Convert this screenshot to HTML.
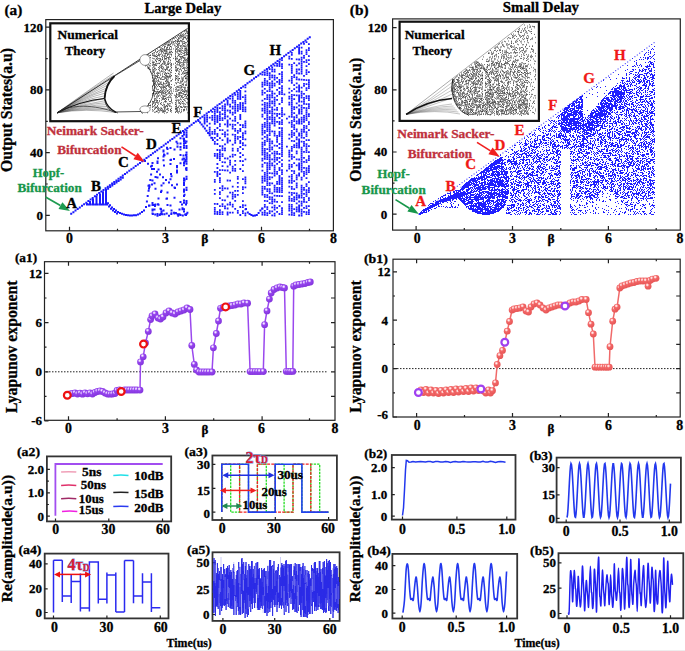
<!DOCTYPE html>
<html><head><meta charset="utf-8"><style>
html,body{margin:0;padding:0;background:#fff;}
svg{display:block;font-family:"Liberation Serif",serif;font-weight:bold;}
</style></head><body>
<svg width="685" height="651" viewBox="0 0 685 651">
<rect width="685" height="651" fill="#fff"/>
<rect x="0" y="650" width="685" height="1" fill="#ededed"/>
<text x="4.5" y="15.2" font-size="15" fill="#000" stroke="#000" stroke-width="0.3" textLength="17.8" lengthAdjust="spacingAndGlyphs">(a)</text>
<text x="144.5" y="12.5" font-size="15" fill="#000" stroke="#000" stroke-width="0.3" textLength="76.7" lengthAdjust="spacingAndGlyphs">Large Delay</text>
<text x="349.8" y="15.2" font-size="15" fill="#000" stroke="#000" stroke-width="0.3" textLength="18.8" lengthAdjust="spacingAndGlyphs">(b)</text>
<text x="502.8" y="12.4" font-size="15" fill="#000" stroke="#000" stroke-width="0.3" textLength="76.2" lengthAdjust="spacingAndGlyphs">Small Delay</text>
<path d="M70.2 212.8h2M72.4 211.2h2M74.5 209.6h2M76.7 208h2M78.8 206.4h2M81 204.8h2M83.1 203.3h2M85.3 201.7h2M87.4 200.1h2M89.6 198.5h2M91.7 196.9h2M93.9 195.3h2M96 193.7h2M98.2 192.1h2M100.3 190.5h2M102.5 188.9h2M104.6 187.3h2M106.8 185.8h2M108.9 184.2h2M111.1 182.6h2M113.2 181h2M115.4 179.4h2M117.5 177.8h2M119.7 176.2h2M121.8 174.6h2M124 173h2M126.1 171.4h2M128.3 169.8h2M130.4 168.3h2M132.6 166.7h2M134.7 165.1h2M136.9 163.5h2M139 161.9h2M141.2 160.3h2M143.3 158.7h2M145.5 157.1h2M147.6 155.5h2M149.8 153.9h2M151.9 152.3h2M154.1 150.8h2M156.2 149.2h2M158.4 147.6h2M160.5 146h2M162.7 144.4h2M164.8 142.8h2M167 141.2h2M169.1 139.6h2M171.3 138h2M173.4 136.4h2M175.6 134.8h2M177.7 133.2h2M179.9 131.7h2M182 130.1h2M184.2 128.5h2M186.3 126.9h2M188.5 125.3h2M190.6 123.7h2M192.8 122.1h2M194.9 120.5h2M197.1 118.9h2M199.2 117.3h2M201.4 115.7h2M203.5 114.2h2M205.7 112.6h2M207.8 111h2M210 109.4h2M212.1 107.8h2M214.3 106.2h2M216.4 104.6h2M218.6 103h2M220.7 101.4h2M222.9 99.8h2M225 98.2h2M227.2 96.7h2M229.3 95.1h2M231.5 93.5h2M233.6 91.9h2M235.8 90.3h2M237.9 88.7h2M240.1 87.1h2M242.2 85.5h2M244.4 83.9h2M246.5 82.3h2M248.7 80.7h2M250.8 79.2h2M253 77.6h2M255.1 76h2M257.3 74.4h2M259.4 72.8h2M261.6 71.2h2M263.7 69.6h2M265.9 68h2M268 66.4h2M270.2 64.8h2M272.3 63.2h2M274.5 61.7h2M276.6 60.1h2M278.8 58.5h2M280.9 56.9h2M283.1 55.3h2M285.2 53.7h2M287.4 52.1h2M289.5 50.5h2M291.7 48.9h2M293.8 47.3h2M296 45.7h2M298.1 44.2h2M300.2 42.6h2M302.4 41h2M304.5 39.4h2M306.7 37.8h2M308.8 36.2h2M86 203.1h2M86 203.5h2M89 200.9h2M89 202.9h2M89 203.5h2M92 198.7h2M92 200.7h2M92 202.7h2M92 203.5h2M95.5 196.1h2M95.5 198.1h2M95.5 200.1h2M95.5 202.1h2M95.5 203.5h2M99 193.5h2M99 195.5h2M99 197.5h2M99 199.5h2M99 201.5h2M99 203.5h2M99 203.5h2M102 191.3h2M102 193.3h2M102 195.3h2M102 197.3h2M102 199.3h2M102 201.3h2M102 203.3h2M102 203.5h2M105 189h2M105 191h2M105 193h2M105 195h2M105 197h2M105 199h2M105 201h2M105 203h2M105 203.5h2M87.5 203.6h2M89.7 203.6h2M91.9 203.6h2M94.1 203.6h2M96.3 203.6h2M98.5 203.6h2M100.7 203.6h2M102.9 203.6h2M105 189.2h2M107.1 187.7h2M109.2 186.1h2M111.3 184.6h2M113.4 183h2M115.5 181.5h2M117.6 179.9h2M119.7 178.4h2M121.8 176.8h2M105 200h2M107 202.2h2M109 204.3h2M111 206.5h2M113 208h2M115 209.5h2M117 211h2M119 211.9h2M121 212.7h2M123 213.6h2M125 213.9h2M127 214.3h2M129 214.6h2M131 214.5h2M133 214.3h2M135 214.2h2M137 213.4h2M139 212.6h2M141 211.1h2M143 209.5h2M106 203.4h2M108 205.6h2M110 207.7h2M112 209.6h2M114 211.1h2M116 212.6h2M144 160h2M147 162.7h2M150 165.4h2M153 168.1h2M156 170.8h2M159 173.5h2M162 176.2h2M165 178.9h2M168 181.6h2M171 184.3h2M174 187h2M145 206h2M145.9 200.6h2M146.7 195.1h2M147.6 189.7h2M148.4 184.3h2M149.3 178.9h2M150.1 173.4h2M151 168h2M147.5 184.8h2M148 204.7h2M148.5 204.5h2M148.5 185.7h2M148 187.6h2M148 204.6h2M151.5 179.6h2M151.5 202.1h2M151.5 209.5h2M151 183.4h2M151.5 212.5h2M151.5 208.5h2M151.5 204h2M151.5 162.1h2M151 164.7h2M151.5 203.4h2M153.5 208.5h2M154.5 187.8h2M154 204.9h2M154.5 175.9h2M154.5 203.4h2M153.5 182.3h2M153.5 204.1h2M156.5 212.9h2M157 157.2h2M157.5 203.7h2M157.5 197.5h2M156.5 160.5h2M157 203.2h2M156.5 176.4h2M156.5 162h2M156.5 214.5h2M157.5 168.4h2M160.5 211.8h2M159.5 207.8h2M159.5 213h2M160.5 184.5h2M160 191h2M160.5 210.4h2M160 208.2h2M160.5 189.8h2M162.5 155.4h2M163.5 154.3h2M162.5 149.6h2M162.5 182.3h2M162.5 150.6h2M162.5 159.3h2M162.5 209.6h2M163 164.6h2M163 153.6h2M165.5 197.8h2M166.5 204h2M166 197.5h2M166.5 147.9h2M166.5 152.4h2M166 146.8h2M166.5 191.5h2M170.5 212.3h2M169.5 204.6h2M170 158.7h2M169.5 178.3h2M169.5 163.1h2M169.5 159h2M170.5 175.3h2M170 173.1h2M169.5 146.9h2M170.5 209.5h2M173.5 212.4h2M173.5 196.7h2M173 157.9h2M173 211.8h2M173.5 148.6h2M173.5 186.6h2M176 166.3h2M175.5 140.7h2M176 183.4h2M176 169.5h2M176.5 213.3h2M176.5 142.6h2M176 165h2M176.5 145.7h2M176 171.6h2M176.5 145.4h2M179.5 146.1h2M178.5 208.4h2M179.5 137.3h2M179.5 142.5h2M179.5 148.5h2M179.5 154.1h2M178.5 213.2h2M179.5 162.2h2M179.5 201h2M181.5 207.3h2M181 203.6h2M181.5 207.6h2M181.5 134.9h2M181.5 208.3h2M181.5 158.4h2M183.5 160.5h2M182.5 157.5h2M182.5 137.5h2M183 189.3h2M183.5 139.7h2M183.5 193.7h2M183.5 179.6h2M183 144.5h2M182.5 154.6h2M185.5 162.7h2M184.5 142h2M185 214.1h2M185 154.1h2M184.5 159h2M185 203.4h2M185 167.8h2M151.9 213.1h2M154.2 213.4h2M156.5 214.7h2M158.8 213.9h2M161.1 213.2h2M163.4 213.3h2M165.7 212.5h2M168 214.8h2M170.3 212.9h2M174.9 212h2M177.2 214.7h2M179.5 214h2M181.8 214.4h2M184.1 213.6h2M186.4 211.7h2M183 131.3h2M183 133.5h2M183 137.9h2M183 140.1h2M183 142.3h2M183 144.5h2M183 146.7h2M183 157.7h2M183 162.1h2M183 164.3h2M183 177.5h2M183 179.7h2M183 181.9h2M183 184.1h2M183 188.5h2M183 190.7h2M183 195.1h2M183 199.5h2M183 201.7h2M183 208.3h2M183 210.5h2M185.5 129.5h2M185.5 131.7h2M185.5 133.9h2M185.5 136.1h2M185.5 140.5h2M185.5 144.9h2M185.5 147.1h2M185.5 151.5h2M185.5 153.7h2M185.5 155.9h2M185.5 158.1h2M185.5 160.3h2M185.5 162.5h2M185.5 166.9h2M185.5 169.1h2M185.5 175.7h2M185.5 177.9h2M185.5 186.7h2M185.5 188.9h2M185.5 199.9h2M185.5 202.1h2M185.5 213.1h2M197.5 120h2M199.1 121.5h2M200.7 123.4h2M202.3 125.4h2M203.9 127.5h2M205.5 129.7h2M207.1 132h2M208.7 134.3h2M210.3 136.7h2M211.9 139.1h2M245 208h2M246.8 211.6h2M248.6 213h2M250.4 214.1h2M252.2 214.7h2M254 214.4h2M255.8 214h2M257.6 211.9h2M259.4 209.6h2M261.2 207.5h2" stroke="#1a1aff" stroke-width="2" fill="none" transform="translate(0 1.0)"/>
<path d="M203.7 116.6h1.8M203.7 118.6h1.8M203.7 120.6h1.8M203.7 122.6h1.8M206.2 114.7h1.8M206.2 116.7h1.8M206.2 118.7h1.8M206.2 120.7h1.8M206.2 124.7h1.8M208.8 116.8h1.8M208.8 122.8h1.8M208.8 126.8h1.8M208.8 128.8h1.8M208.8 130.8h1.8M208.8 132.8h1.8M211.4 110.9h1.8M211.4 114.9h1.8M211.4 116.9h1.8M211.4 118.9h1.8M211.4 130.9h1.8M211.4 132.9h1.8M211.4 136.9h1.8M213.9 109h1.8M213.9 111h1.8M213.9 113h1.8M213.9 115h1.8M213.9 117h1.8M213.9 119h1.8M213.9 121h1.8M213.9 123h1.8M213.9 129h1.8M213.9 131h1.8M213.9 133h1.8M213.9 137h1.8M213.9 141h1.8M213.9 143h1.8M213.9 153h1.8M213.9 155h1.8M213.9 171h1.8M213.9 179h1.8M213.9 181h1.8M213.9 189h1.8M213.9 193h1.8M213.9 203h1.8M213.9 207h1.8M213.9 209h1.8M213.9 211h1.8M213.9 213h1.8M216.5 107.1h1.8M216.5 109.1h1.8M216.5 111.1h1.8M216.5 115.1h1.8M216.5 117.1h1.8M216.5 119.1h1.8M216.5 121.1h1.8M216.5 127.1h1.8M216.5 133.1h1.8M216.5 135.1h1.8M216.5 139.1h1.8M216.5 143.1h1.8M216.5 149.1h1.8M216.5 153.1h1.8M216.5 155.1h1.8M216.5 157.1h1.8M216.5 163.1h1.8M216.5 167.1h1.8M216.5 171.1h1.8M216.5 173.1h1.8M216.5 175.1h1.8M216.5 203.1h1.8M216.5 211.1h1.8M216.5 213.1h1.8M219 107.2h1.8M219 111.2h1.8M219 113.2h1.8M219 115.2h1.8M219 117.2h1.8M219 119.2h1.8M219 123.2h1.8M219 125.2h1.8M219 129.2h1.8M219 137.2h1.8M219 145.2h1.8M219 149.2h1.8M219 151.2h1.8M219 153.2h1.8M219 155.2h1.8M219 157.2h1.8M219 159.2h1.8M219 169.2h1.8M219 173.2h1.8M219 177.2h1.8M219 179.2h1.8M219 181.2h1.8M219 187.2h1.8M219 191.2h1.8M219 193.2h1.8M219 197.2h1.8M219 205.2h1.8M219 209.2h1.8M219 211.2h1.8M219 213.2h1.8M221.6 105.3h1.8M221.6 107.3h1.8M221.6 109.3h1.8M221.6 113.3h1.8M221.6 117.3h1.8M221.6 119.3h1.8M221.6 129.3h1.8M221.6 133.3h1.8M221.6 139.3h1.8M221.6 145.3h1.8M221.6 147.3h1.8M221.6 149.3h1.8M221.6 153.3h1.8M221.6 155.3h1.8M221.6 161.3h1.8M221.6 165.3h1.8M221.6 169.3h1.8M221.6 185.3h1.8M221.6 187.3h1.8M221.6 189.3h1.8M221.6 199.3h1.8M221.6 203.3h1.8M221.6 205.3h1.8M221.6 211.3h1.8M221.6 213.3h1.8M224.1 103.5h1.8M224.1 105.5h1.8M224.1 107.5h1.8M224.1 109.5h1.8M224.1 111.5h1.8M224.1 113.5h1.8M224.1 115.5h1.8M224.1 117.5h1.8M224.1 123.5h1.8M224.1 131.5h1.8M224.1 133.5h1.8M224.1 135.5h1.8M224.1 143.5h1.8M224.1 147.5h1.8M224.1 149.5h1.8M224.1 157.5h1.8M224.1 161.5h1.8M224.1 169.5h1.8M224.1 187.5h1.8M224.1 199.5h1.8M224.1 205.5h1.8M224.1 207.5h1.8M226.7 99.6h1.8M226.7 101.6h1.8M226.7 103.6h1.8M226.7 109.6h1.8M226.7 115.6h1.8M226.7 119.6h1.8M226.7 121.6h1.8M226.7 123.6h1.8M226.7 125.6h1.8M226.7 129.6h1.8M226.7 133.6h1.8M226.7 137.6h1.8M226.7 139.6h1.8M226.7 141.6h1.8M226.7 157.6h1.8M226.7 165.6h1.8M226.7 169.6h1.8M226.7 179.6h1.8M226.7 187.6h1.8M226.7 195.6h1.8M226.7 203.6h1.8M226.7 207.6h1.8M226.7 211.6h1.8M226.7 213.6h1.8M229.2 97.7h1.8M229.2 103.7h1.8M229.2 105.7h1.8M229.2 109.7h1.8M229.2 111.7h1.8M229.2 117.7h1.8M229.2 123.7h1.8M229.2 139.7h1.8M229.2 155.7h1.8M229.2 159.7h1.8M229.2 161.7h1.8M229.2 163.7h1.8M229.2 171.7h1.8M229.2 179.7h1.8M229.2 191.7h1.8M229.2 201.7h1.8M229.2 203.7h1.8M229.2 211.7h1.8M231.8 95.8h1.8M231.8 97.8h1.8M231.8 99.8h1.8M231.8 101.8h1.8M231.8 105.8h1.8M231.8 107.8h1.8M231.8 111.8h1.8M231.8 113.8h1.8M231.8 119.8h1.8M231.8 123.8h1.8M231.8 125.8h1.8M231.8 127.8h1.8M231.8 133.8h1.8M231.8 143.8h1.8M231.8 147.8h1.8M231.8 149.8h1.8M231.8 153.8h1.8M231.8 155.8h1.8M231.8 165.8h1.8M231.8 167.8h1.8M231.8 169.8h1.8M231.8 185.8h1.8M231.8 191.8h1.8M231.8 193.8h1.8M231.8 195.8h1.8M231.8 197.8h1.8M231.8 203.8h1.8M231.8 205.8h1.8M231.8 211.8h1.8M234.3 93.9h1.8M234.3 99.9h1.8M234.3 101.9h1.8M234.3 103.9h1.8M234.3 105.9h1.8M234.3 107.9h1.8M234.3 109.9h1.8M234.3 111.9h1.8M234.3 115.9h1.8M234.3 117.9h1.8M234.3 119.9h1.8M234.3 123.9h1.8M234.3 127.9h1.8M234.3 129.9h1.8M234.3 133.9h1.8M234.3 135.9h1.8M234.3 137.9h1.8M234.3 139.9h1.8M234.3 141.9h1.8M234.3 153.9h1.8M234.3 159.9h1.8M234.3 163.9h1.8M234.3 167.9h1.8M234.3 169.9h1.8M234.3 189.9h1.8M234.3 193.9h1.8M234.3 195.9h1.8M234.3 199.9h1.8M234.3 207.9h1.8M236.9 92h1.8M236.9 94h1.8M236.9 96h1.8M236.9 98h1.8M236.9 104h1.8M236.9 106h1.8M236.9 108h1.8M236.9 110h1.8M236.9 122h1.8M236.9 130h1.8M236.9 132h1.8M236.9 136h1.8M236.9 138h1.8M236.9 148h1.8M236.9 150h1.8M236.9 176h1.8M236.9 178h1.8M236.9 182h1.8M236.9 186h1.8M236.9 190h1.8M236.9 194h1.8M236.9 210h1.8M236.9 212h1.8M239.4 90.1h1.8M239.4 92.1h1.8M239.4 94.1h1.8M239.4 96.1h1.8M239.4 98.1h1.8M239.4 102.1h1.8M239.4 104.1h1.8M239.4 106.1h1.8M239.4 108.1h1.8M239.4 114.1h1.8M239.4 116.1h1.8M239.4 118.1h1.8M239.4 124.1h1.8M239.4 128.1h1.8M239.4 130.1h1.8M239.4 136.1h1.8M239.4 140.1h1.8M239.4 142.1h1.8M239.4 146.1h1.8M239.4 152.1h1.8M239.4 156.1h1.8M239.4 160.1h1.8M239.4 168.1h1.8M239.4 206.1h1.8M239.4 214.1h1.8M242 96.3h1.8M242 102.3h1.8M242 104.3h1.8M242 106.3h1.8M242 108.3h1.8M242 110.3h1.8M242 124.3h1.8M242 126.3h1.8M242 132.3h1.8M242 134.3h1.8M242 136.3h1.8M242 138.3h1.8M242 142.3h1.8M242 144.3h1.8M242 148.3h1.8M242 154.3h1.8M242 160.3h1.8M242 164.3h1.8M242 170.3h1.8M242 178.3h1.8M242 186.3h1.8M242 188.3h1.8M242 192.3h1.8M242 200.3h1.8M242 204.3h1.8M242 206.3h1.8M242 210.3h1.8M242 212.3h1.8M244.5 86.4h1.8M244.5 90.4h1.8M244.5 94.4h1.8M244.5 96.4h1.8M244.5 98.4h1.8M244.5 100.4h1.8M244.5 102.4h1.8M244.5 106.4h1.8M244.5 108.4h1.8M244.5 110.4h1.8M244.5 120.4h1.8M244.5 122.4h1.8M244.5 124.4h1.8M244.5 126.4h1.8M244.5 130.4h1.8M244.5 132.4h1.8M244.5 138.4h1.8M244.5 144.4h1.8M244.5 158.4h1.8M244.5 176.4h1.8M244.5 178.4h1.8M244.5 180.4h1.8M244.5 182.4h1.8M244.5 186.4h1.8M244.5 204.4h1.8M244.5 208.4h1.8M244.5 212.4h1.8M244.5 214.4h1.8M261.5 73.8h1.8M261.5 81.8h1.8M261.5 83.8h1.8M261.5 85.8h1.8M261.5 89.8h1.8M261.5 91.8h1.8M261.5 93.8h1.8M261.5 99.8h1.8M261.5 103.8h1.8M261.5 107.8h1.8M261.5 109.8h1.8M261.5 113.8h1.8M261.5 115.8h1.8M261.5 123.8h1.8M261.5 125.8h1.8M261.5 127.8h1.8M261.5 129.8h1.8M261.5 131.8h1.8M261.5 133.8h1.8M261.5 137.8h1.8M261.5 141.8h1.8M261.5 143.8h1.8M261.5 145.8h1.8M261.5 147.8h1.8M261.5 149.8h1.8M261.5 151.8h1.8M261.5 153.8h1.8M261.5 157.8h1.8M261.5 159.8h1.8M261.5 163.8h1.8M261.5 165.8h1.8M261.5 169.8h1.8M261.5 175.8h1.8M261.5 177.8h1.8M261.5 179.8h1.8M261.5 181.8h1.8M261.5 185.8h1.8M261.5 187.8h1.8M261.5 189.8h1.8M261.5 191.8h1.8M261.5 193.8h1.8M261.5 207.8h1.8M261.5 211.8h1.8M261.5 213.8h1.8M263.9 72h1.8M263.9 74h1.8M263.9 78h1.8M263.9 80h1.8M263.9 82h1.8M263.9 84h1.8M263.9 88h1.8M263.9 92h1.8M263.9 98h1.8M263.9 102h1.8M263.9 104h1.8M263.9 106h1.8M263.9 108h1.8M263.9 110h1.8M263.9 112h1.8M263.9 118h1.8M263.9 122h1.8M263.9 124h1.8M263.9 126h1.8M263.9 130h1.8M263.9 132h1.8M263.9 136h1.8M263.9 140h1.8M263.9 142h1.8M263.9 144h1.8M263.9 148h1.8M263.9 150h1.8M263.9 152h1.8M263.9 154h1.8M263.9 156h1.8M263.9 158h1.8M263.9 162h1.8M263.9 172h1.8M263.9 174h1.8M263.9 176h1.8M263.9 178h1.8M263.9 180h1.8M263.9 186h1.8M263.9 188h1.8M263.9 194h1.8M263.9 196h1.8M263.9 200h1.8M263.9 204h1.8M263.9 206h1.8M263.9 210h1.8M263.9 212h1.8M263.9 214h1.8M266.4 70.2h1.8M266.4 72.2h1.8M266.4 74.2h1.8M266.4 80.2h1.8M266.4 82.2h1.8M266.4 84.2h1.8M266.4 90.2h1.8M266.4 94.2h1.8M266.4 96.2h1.8M266.4 98.2h1.8M266.4 102.2h1.8M266.4 104.2h1.8M266.4 106.2h1.8M266.4 108.2h1.8M266.4 110.2h1.8M266.4 112.2h1.8M266.4 114.2h1.8M266.4 116.2h1.8M266.4 118.2h1.8M266.4 120.2h1.8M266.4 122.2h1.8M266.4 124.2h1.8M266.4 126.2h1.8M266.4 128.2h1.8M266.4 130.2h1.8M266.4 134.2h1.8M266.4 136.2h1.8M266.4 138.2h1.8M266.4 140.2h1.8M266.4 148.2h1.8M266.4 152.2h1.8M266.4 154.2h1.8M266.4 156.2h1.8M266.4 158.2h1.8M266.4 162.2h1.8M266.4 164.2h1.8M266.4 166.2h1.8M266.4 168.2h1.8M266.4 170.2h1.8M266.4 172.2h1.8M266.4 174.2h1.8M266.4 176.2h1.8M266.4 178.2h1.8M266.4 180.2h1.8M266.4 182.2h1.8M266.4 184.2h1.8M266.4 188.2h1.8M266.4 190.2h1.8M266.4 194.2h1.8M266.4 196.2h1.8M266.4 200.2h1.8M266.4 206.2h1.8M266.4 208.2h1.8M266.4 212.2h1.8M266.4 214.2h1.8M268.8 68.3h1.8M268.8 72.3h1.8M268.8 74.3h1.8M268.8 76.3h1.8M268.8 78.3h1.8M268.8 82.3h1.8M268.8 84.3h1.8M268.8 86.3h1.8M268.8 88.3h1.8M268.8 90.3h1.8M268.8 94.3h1.8M268.8 96.3h1.8M268.8 98.3h1.8M268.8 100.3h1.8M268.8 102.3h1.8M268.8 104.3h1.8M268.8 106.3h1.8M268.8 110.3h1.8M268.8 112.3h1.8M268.8 116.3h1.8M268.8 118.3h1.8M268.8 122.3h1.8M268.8 124.3h1.8M268.8 126.3h1.8M268.8 128.3h1.8M268.8 130.3h1.8M268.8 132.3h1.8M268.8 134.3h1.8M268.8 138.3h1.8M268.8 140.3h1.8M268.8 142.3h1.8M268.8 144.3h1.8M268.8 146.3h1.8M268.8 148.3h1.8M268.8 150.3h1.8M268.8 154.3h1.8M268.8 156.3h1.8M268.8 158.3h1.8M268.8 160.3h1.8M268.8 162.3h1.8M268.8 164.3h1.8M268.8 166.3h1.8M268.8 168.3h1.8M268.8 172.3h1.8M268.8 176.3h1.8M268.8 178.3h1.8M268.8 182.3h1.8M268.8 184.3h1.8M268.8 188.3h1.8M268.8 190.3h1.8M268.8 192.3h1.8M268.8 196.3h1.8M268.8 198.3h1.8M268.8 202.3h1.8M268.8 210.3h1.8M268.8 212.3h1.8M271.3 66.5h1.8M271.3 68.5h1.8M271.3 70.5h1.8M271.3 74.5h1.8M271.3 76.5h1.8M271.3 80.5h1.8M271.3 82.5h1.8M271.3 84.5h1.8M271.3 86.5h1.8M271.3 90.5h1.8M271.3 92.5h1.8M271.3 94.5h1.8M271.3 96.5h1.8M271.3 100.5h1.8M271.3 102.5h1.8M271.3 106.5h1.8M271.3 108.5h1.8M271.3 110.5h1.8M271.3 112.5h1.8M271.3 114.5h1.8M271.3 116.5h1.8M271.3 118.5h1.8M271.3 120.5h1.8M271.3 122.5h1.8M271.3 130.5h1.8M271.3 140.5h1.8M271.3 142.5h1.8M271.3 146.5h1.8M271.3 148.5h1.8M271.3 152.5h1.8M271.3 158.5h1.8M271.3 162.5h1.8M271.3 164.5h1.8M271.3 172.5h1.8M271.3 176.5h1.8M271.3 182.5h1.8M271.3 192.5h1.8M271.3 196.5h1.8M271.3 198.5h1.8M271.3 200.5h1.8M271.3 202.5h1.8M271.3 206.5h1.8M271.3 210.5h1.8M271.3 214.5h1.8M273.7 64.7h1.8M273.7 68.7h1.8M273.7 70.7h1.8M273.7 74.7h1.8M273.7 76.7h1.8M273.7 78.7h1.8M273.7 82.7h1.8M273.7 84.7h1.8M273.7 92.7h1.8M273.7 96.7h1.8M273.7 98.7h1.8M273.7 100.7h1.8M273.7 102.7h1.8M273.7 104.7h1.8M273.7 108.7h1.8M273.7 112.7h1.8M273.7 116.7h1.8M273.7 118.7h1.8M273.7 120.7h1.8M273.7 122.7h1.8M273.7 124.7h1.8M273.7 130.7h1.8M273.7 132.7h1.8M273.7 134.7h1.8M273.7 144.7h1.8M273.7 150.7h1.8M273.7 152.7h1.8M273.7 154.7h1.8M273.7 156.7h1.8M273.7 158.7h1.8M273.7 160.7h1.8M273.7 164.7h1.8M273.7 166.7h1.8M273.7 168.7h1.8M273.7 170.7h1.8M273.7 172.7h1.8M273.7 174.7h1.8M273.7 184.7h1.8M273.7 186.7h1.8M273.7 188.7h1.8M273.7 190.7h1.8M273.7 194.7h1.8M273.7 198.7h1.8M273.7 200.7h1.8M273.7 204.7h1.8M273.7 206.7h1.8M273.7 208.7h1.8M273.7 212.7h1.8M273.7 214.7h1.8M276.2 62.9h1.8M276.2 64.9h1.8M276.2 76.9h1.8M276.2 80.9h1.8M276.2 88.9h1.8M276.2 94.9h1.8M276.2 98.9h1.8M276.2 106.9h1.8M276.2 108.9h1.8M276.2 112.9h1.8M276.2 114.9h1.8M276.2 120.9h1.8M276.2 134.9h1.8M276.2 136.9h1.8M276.2 138.9h1.8M276.2 140.9h1.8M276.2 144.9h1.8M276.2 150.9h1.8M276.2 152.9h1.8M276.2 156.9h1.8M276.2 158.9h1.8M276.2 162.9h1.8M276.2 170.9h1.8M276.2 172.9h1.8M276.2 180.9h1.8M276.2 182.9h1.8M276.2 186.9h1.8M276.2 188.9h1.8M276.2 190.9h1.8M276.2 194.9h1.8M276.2 200.9h1.8M276.2 206.9h1.8M276.2 210.9h1.8M278.6 61.1h1.8M278.6 63.1h1.8M278.6 65.1h1.8M278.6 73.1h1.8M278.6 79.1h1.8M278.6 81.1h1.8M278.6 83.1h1.8M278.6 87.1h1.8M278.6 91.1h1.8M278.6 93.1h1.8M278.6 103.1h1.8M278.6 113.1h1.8M278.6 117.1h1.8M278.6 121.1h1.8M278.6 123.1h1.8M278.6 127.1h1.8M278.6 131.1h1.8M278.6 133.1h1.8M278.6 135.1h1.8M278.6 143.1h1.8M278.6 147.1h1.8M278.6 153.1h1.8M278.6 157.1h1.8M278.6 161.1h1.8M278.6 167.1h1.8M278.6 169.1h1.8M278.6 175.1h1.8M278.6 177.1h1.8M278.6 179.1h1.8M278.6 181.1h1.8M278.6 183.1h1.8M278.6 187.1h1.8M278.6 189.1h1.8M278.6 191.1h1.8M278.6 195.1h1.8M278.6 205.1h1.8M278.6 213.1h1.8M281.1 59.3h1.8M281.1 63.3h1.8M281.1 65.3h1.8M281.1 67.3h1.8M281.1 71.3h1.8M281.1 73.3h1.8M281.1 75.3h1.8M281.1 77.3h1.8M281.1 79.3h1.8M281.1 81.3h1.8M281.1 85.3h1.8M281.1 87.3h1.8M281.1 89.3h1.8M281.1 91.3h1.8M281.1 93.3h1.8M281.1 97.3h1.8M281.1 99.3h1.8M281.1 101.3h1.8M281.1 107.3h1.8M281.1 109.3h1.8M281.1 111.3h1.8M281.1 113.3h1.8M281.1 115.3h1.8M281.1 119.3h1.8M281.1 121.3h1.8M281.1 123.3h1.8M281.1 127.3h1.8M281.1 129.3h1.8M281.1 131.3h1.8M281.1 133.3h1.8M281.1 135.3h1.8M281.1 137.3h1.8M281.1 139.3h1.8M281.1 141.3h1.8M281.1 143.3h1.8M281.1 145.3h1.8M281.1 147.3h1.8M281.1 149.3h1.8M281.1 151.3h1.8M281.1 153.3h1.8M281.1 155.3h1.8M281.1 159.3h1.8M281.1 163.3h1.8M281.1 165.3h1.8M281.1 169.3h1.8M281.1 171.3h1.8M281.1 173.3h1.8M281.1 177.3h1.8M281.1 179.3h1.8M281.1 181.3h1.8M281.1 183.3h1.8M281.1 185.3h1.8M281.1 187.3h1.8M281.1 189.3h1.8M281.1 191.3h1.8M281.1 195.3h1.8M281.1 201.3h1.8M281.1 207.3h1.8M281.1 209.3h1.8M281.1 211.3h1.8M281.1 213.3h1.8M283.5 93.5h1.8M283.5 113.5h1.8M286 117.7h1.8M286 145.7h1.8M286 169.7h1.8M288.4 55.8h1.8M288.4 57.8h1.8M288.4 63.8h1.8M288.4 79.8h1.8M288.4 87.8h1.8M288.4 91.8h1.8M288.4 95.8h1.8M288.4 97.8h1.8M288.4 101.8h1.8M288.4 103.8h1.8M288.4 115.8h1.8M288.4 121.8h1.8M288.4 133.8h1.8M288.4 137.8h1.8M288.4 149.8h1.8M288.4 151.8h1.8M288.4 153.8h1.8M288.4 155.8h1.8M288.4 159.8h1.8M288.4 163.8h1.8M288.4 165.8h1.8M288.4 167.8h1.8M288.4 175.8h1.8M288.4 179.8h1.8M288.4 181.8h1.8M288.4 185.8h1.8M288.4 191.8h1.8M288.4 195.8h1.8M288.4 197.8h1.8M288.4 199.8h1.8M288.4 203.8h1.8M288.4 205.8h1.8M288.4 207.8h1.8M288.4 209.8h1.8M288.4 213.8h1.8M290.9 52h1.8M290.9 54h1.8M290.9 58h1.8M290.9 64h1.8M290.9 66h1.8M290.9 68h1.8M290.9 70h1.8M290.9 72h1.8M290.9 76h1.8M290.9 78h1.8M290.9 80h1.8M290.9 82h1.8M290.9 90h1.8M290.9 94h1.8M290.9 96h1.8M290.9 98h1.8M290.9 100h1.8M290.9 102h1.8M290.9 104h1.8M290.9 106h1.8M290.9 108h1.8M290.9 110h1.8M290.9 112h1.8M290.9 114h1.8M290.9 116h1.8M290.9 120h1.8M290.9 122h1.8M290.9 124h1.8M290.9 126h1.8M290.9 130h1.8M290.9 132h1.8M290.9 134h1.8M290.9 136h1.8M290.9 140h1.8M290.9 146h1.8M290.9 148h1.8M290.9 150h1.8M290.9 154h1.8M290.9 156h1.8M290.9 158h1.8M290.9 164h1.8M290.9 166h1.8M290.9 170h1.8M290.9 174h1.8M290.9 176h1.8M290.9 178h1.8M290.9 180h1.8M290.9 182h1.8M290.9 186h1.8M290.9 188h1.8M290.9 192h1.8M290.9 194h1.8M290.9 198h1.8M290.9 200h1.8M290.9 204h1.8M290.9 206h1.8M290.9 208h1.8M290.9 210h1.8M290.9 212h1.8M290.9 214h1.8M293.3 62.2h1.8M293.3 74.2h1.8M293.3 76.2h1.8M293.3 84.2h1.8M293.3 88.2h1.8M293.3 94.2h1.8M293.3 98.2h1.8M293.3 106.2h1.8M293.3 108.2h1.8M293.3 112.2h1.8M293.3 116.2h1.8M293.3 118.2h1.8M293.3 120.2h1.8M293.3 124.2h1.8M293.3 126.2h1.8M293.3 128.2h1.8M293.3 132.2h1.8M293.3 134.2h1.8M293.3 140.2h1.8M293.3 144.2h1.8M293.3 146.2h1.8M293.3 156.2h1.8M293.3 162.2h1.8M293.3 170.2h1.8M293.3 172.2h1.8M293.3 180.2h1.8M293.3 188.2h1.8M293.3 192.2h1.8M293.3 196.2h1.8M293.3 198.2h1.8M293.3 200.2h1.8M293.3 208.2h1.8M293.3 212.2h1.8M293.3 214.2h1.8M295.8 58.4h1.8M295.8 64.4h1.8M295.8 68.4h1.8M295.8 70.4h1.8M295.8 72.4h1.8M295.8 76.4h1.8M295.8 78.4h1.8M295.8 82.4h1.8M295.8 86.4h1.8M295.8 90.4h1.8M295.8 94.4h1.8M295.8 102.4h1.8M295.8 106.4h1.8M295.8 114.4h1.8M295.8 116.4h1.8M295.8 120.4h1.8M295.8 122.4h1.8M295.8 128.4h1.8M295.8 130.4h1.8M295.8 136.4h1.8M295.8 138.4h1.8M295.8 142.4h1.8M295.8 144.4h1.8M295.8 146.4h1.8M295.8 150.4h1.8M295.8 152.4h1.8M295.8 158.4h1.8M295.8 164.4h1.8M295.8 174.4h1.8M295.8 176.4h1.8M295.8 178.4h1.8M295.8 182.4h1.8M295.8 184.4h1.8M295.8 186.4h1.8M295.8 192.4h1.8M295.8 194.4h1.8M295.8 196.4h1.8M295.8 198.4h1.8M295.8 202.4h1.8M295.8 206.4h1.8M295.8 208.4h1.8M295.8 210.4h1.8M298.2 46.6h1.8M298.2 48.6h1.8M298.2 50.6h1.8M298.2 52.6h1.8M298.2 58.6h1.8M298.2 62.6h1.8M298.2 68.6h1.8M298.2 72.6h1.8M298.2 78.6h1.8M298.2 84.6h1.8M298.2 86.6h1.8M298.2 88.6h1.8M298.2 90.6h1.8M298.2 94.6h1.8M298.2 96.6h1.8M298.2 98.6h1.8M298.2 100.6h1.8M298.2 104.6h1.8M298.2 108.6h1.8M298.2 110.6h1.8M298.2 112.6h1.8M298.2 118.6h1.8M298.2 120.6h1.8M298.2 122.6h1.8M298.2 132.6h1.8M298.2 134.6h1.8M298.2 138.6h1.8M298.2 140.6h1.8M298.2 142.6h1.8M298.2 144.6h1.8M298.2 146.6h1.8M298.2 158.6h1.8M298.2 162.6h1.8M298.2 164.6h1.8M298.2 166.6h1.8M298.2 168.6h1.8M298.2 172.6h1.8M298.2 174.6h1.8M298.2 194.6h1.8M298.2 196.6h1.8M298.2 200.6h1.8M298.2 204.6h1.8M298.2 206.6h1.8M298.2 208.6h1.8M298.2 210.6h1.8M298.2 214.6h1.8M300.7 46.8h1.8M300.7 50.8h1.8M300.7 52.8h1.8M300.7 56.8h1.8M300.7 58.8h1.8M300.7 60.8h1.8M300.7 62.8h1.8M300.7 64.8h1.8M300.7 66.8h1.8M300.7 68.8h1.8M300.7 70.8h1.8M300.7 72.8h1.8M300.7 78.8h1.8M300.7 86.8h1.8M300.7 90.8h1.8M300.7 92.8h1.8M300.7 94.8h1.8M300.7 96.8h1.8M300.7 100.8h1.8M300.7 104.8h1.8M300.7 106.8h1.8M300.7 108.8h1.8M300.7 110.8h1.8M300.7 112.8h1.8M300.7 116.8h1.8M300.7 118.8h1.8M300.7 120.8h1.8M300.7 122.8h1.8M300.7 128.8h1.8M300.7 130.8h1.8M300.7 132.8h1.8M300.7 134.8h1.8M300.7 136.8h1.8M300.7 140.8h1.8M300.7 146.8h1.8M300.7 148.8h1.8M300.7 150.8h1.8M300.7 152.8h1.8M300.7 154.8h1.8M300.7 156.8h1.8M300.7 158.8h1.8M300.7 160.8h1.8M300.7 162.8h1.8M300.7 164.8h1.8M300.7 166.8h1.8M300.7 168.8h1.8M300.7 170.8h1.8M300.7 176.8h1.8M300.7 178.8h1.8M300.7 184.8h1.8M300.7 186.8h1.8M300.7 188.8h1.8M300.7 190.8h1.8M300.7 192.8h1.8M300.7 194.8h1.8M300.7 196.8h1.8M300.7 200.8h1.8M300.7 202.8h1.8M300.7 204.8h1.8M300.7 208.8h1.8M300.7 210.8h1.8M300.7 212.8h1.8M300.7 214.8h1.8M303.1 43h1.8M303.1 55h1.8M303.1 57h1.8M303.1 61h1.8M303.1 75h1.8M303.1 79h1.8M303.1 83h1.8M303.1 85h1.8M303.1 93h1.8M303.1 97h1.8M303.1 99h1.8M303.1 101h1.8M303.1 103h1.8M303.1 107h1.8M303.1 115h1.8M303.1 117h1.8M303.1 119h1.8M303.1 121h1.8M303.1 125h1.8M303.1 127h1.8M303.1 129h1.8M303.1 131h1.8M303.1 137h1.8M303.1 141h1.8M303.1 143h1.8M303.1 145h1.8M303.1 151h1.8M303.1 157h1.8M303.1 161h1.8M303.1 167h1.8M303.1 171h1.8M303.1 173h1.8M303.1 175h1.8M303.1 187h1.8M303.1 189h1.8M303.1 193h1.8M303.1 197h1.8M303.1 199h1.8M303.1 201h1.8M303.1 207h1.8M303.1 211h1.8M305.6 41.2h1.8M305.6 49.2h1.8M305.6 51.2h1.8M305.6 53.2h1.8M305.6 59.2h1.8M305.6 61.2h1.8M305.6 65.2h1.8M305.6 69.2h1.8M305.6 71.2h1.8M305.6 73.2h1.8M305.6 79.2h1.8M305.6 83.2h1.8M305.6 87.2h1.8M305.6 89.2h1.8M305.6 95.2h1.8M305.6 97.2h1.8M305.6 103.2h1.8M305.6 107.2h1.8M305.6 109.2h1.8M305.6 111.2h1.8M305.6 113.2h1.8M305.6 115.2h1.8M305.6 117.2h1.8M305.6 119.2h1.8M305.6 125.2h1.8M305.6 127.2h1.8M305.6 131.2h1.8M305.6 133.2h1.8M305.6 135.2h1.8M305.6 139.2h1.8M305.6 143.2h1.8M305.6 145.2h1.8M305.6 147.2h1.8M305.6 149.2h1.8M305.6 151.2h1.8M305.6 159.2h1.8M305.6 161.2h1.8M305.6 167.2h1.8M305.6 169.2h1.8M305.6 171.2h1.8M305.6 173.2h1.8M305.6 177.2h1.8M305.6 183.2h1.8M305.6 185.2h1.8M305.6 189.2h1.8M305.6 191.2h1.8M305.6 193.2h1.8M305.6 195.2h1.8M305.6 201.2h1.8M305.6 205.2h1.8M305.6 207.2h1.8M305.6 211.2h1.8M305.6 213.2h1.8M308 43.3h1.8M308 47.3h1.8M308 49.3h1.8M308 55.3h1.8M308 59.3h1.8M308 63.3h1.8M308 71.3h1.8M308 79.3h1.8M308 81.3h1.8M308 83.3h1.8M308 85.3h1.8M308 87.3h1.8M308 95.3h1.8M308 97.3h1.8M308 99.3h1.8M308 103.3h1.8M308 105.3h1.8M308 107.3h1.8M308 113.3h1.8M308 115.3h1.8M308 121.3h1.8M308 123.3h1.8M308 129.3h1.8M308 139.3h1.8M308 145.3h1.8M308 151.3h1.8M308 155.3h1.8M308 157.3h1.8M308 159.3h1.8M308 165.3h1.8M308 167.3h1.8M308 169.3h1.8M308 171.3h1.8M308 181.3h1.8M308 187.3h1.8M308 189.3h1.8M308 191.3h1.8M308 197.3h1.8M308 199.3h1.8M308 205.3h1.8M308 209.3h1.8M308 211.3h1.8M308 213.3h1.8" stroke="#1a1aff" stroke-width="1.8" fill="none" transform="translate(0 0.9)"/>
<rect x="45.8" y="19.6" width="287.6" height="211.2" fill="none" stroke="#222" stroke-width="1.2"/>
<path d="M45.8 215.3h4M45.8 152.6h4M45.8 89.9h4M45.8 27.2h4" fill="none" stroke="#222" stroke-width="1.2"/>
<path d="M45.8 184h2M45.8 121.3h2M45.8 58.6h2" fill="none" stroke="#222" stroke-width="1.2"/>
<path d="M69.5 230.8v-4M165.5 230.8v-4M261.5 230.8v-4" fill="none" stroke="#222" stroke-width="1.2"/>
<path d="M117.5 230.8v-2M213.5 230.8v-2M309.5 230.8v-2" fill="none" stroke="#222" stroke-width="1.2"/>
<text x="43" y="219.6" font-size="13" fill="#000" stroke="#000" stroke-width="0.3" text-anchor="end">0</text>
<text x="43" y="156.9" font-size="13" fill="#000" stroke="#000" stroke-width="0.3" text-anchor="end">40</text>
<text x="43" y="94.2" font-size="13" fill="#000" stroke="#000" stroke-width="0.3" text-anchor="end">80</text>
<text x="43" y="31.5" font-size="13" fill="#000" stroke="#000" stroke-width="0.3" text-anchor="end">120</text>
<text x="69.5" y="243" font-size="13.8" fill="#000" stroke="#000" stroke-width="0.3" text-anchor="middle">0</text>
<text x="165.5" y="243" font-size="13.8" fill="#000" stroke="#000" stroke-width="0.3" text-anchor="middle">3</text>
<text x="261.5" y="243" font-size="13.8" fill="#000" stroke="#000" stroke-width="0.3" text-anchor="middle">6</text>
<text x="333.5" y="243" font-size="13.8" fill="#000" stroke="#000" stroke-width="0.3" text-anchor="middle">8</text>
<text x="204.8" y="243" font-size="13.5" fill="#000" stroke="#000" stroke-width="0.3" text-anchor="middle">β</text>
<text x="12" y="110" font-size="16" fill="#000" stroke="#000" stroke-width="0.3" text-anchor="middle" textLength="124" lengthAdjust="spacingAndGlyphs" transform="rotate(-90 12 110)">Output States(a.u)</text>
<rect x="50.3" y="23.3" width="138.6" height="97.9" fill="#fff"/>
<path d="M57.2 112.8Q80.0 101.0 104.3 98.5M57.2 112.8Q80.7 100.0 105.3 95.7M57.2 112.8Q81.3 99.0 106.3 92.8M57.2 112.8Q82.0 98.0 107.4 90.0M57.2 112.8Q82.7 97.0 108.4 87.2M57.2 112.8Q83.3 96.0 109.4 84.3M57.2 112.8Q84.0 95.0 110.4 81.5M57.2 112.8Q84.7 94.0 111.5 78.7M57.2 112.8Q85.3 93.0 112.5 75.8M57.2 112.8Q86.0 92.0 113.5 73.0M57.2 112.8Q82.0 103.0 104.3 98.5M57.2 112.8Q82.6 103.7 106.0 100.5M57.2 112.8Q83.1 104.4 107.6 102.5M57.2 112.8Q83.7 105.1 109.3 104.5M57.2 112.8Q84.3 105.9 111.0 106.5M57.2 112.8Q84.9 106.6 112.7 108.5M57.2 112.8Q85.4 107.3 114.3 110.5M57.2 112.8Q86.0 108.0 116.0 112.5" fill="none" stroke="#444" stroke-width="0.4"/>
<path d="M57.2 112.8Q80 101 104.3 98.5" fill="none" stroke="#111" stroke-width="1.1"/>
<path d="M57.2 112.8C72 104 92 104 118 113" fill="none" stroke="#222" stroke-width="0.7"/>
<path d="M57.2 112.8L187.5 28.5" stroke="#222" stroke-width="0.9" fill="none"/>
<path d="M104.6 98.4C105 90 108 82 114.5 76L140 60.5C148 63 154 75 154.5 87C154 98 148 108 140.5 111.5L114 112C108 110 105 104 104.6 98.4Z" fill="#fff" stroke="#222" stroke-width="0.8"/>
<path d="M104.6 98.4C105 90 108 82 114.5 76" fill="none" stroke="#111" stroke-width="1.8"/>
<path d="M104.6 98.4C106 104 109 109 116 112.3" fill="none" stroke="#111" stroke-width="1.4"/>
<ellipse cx="145" cy="60" rx="5.2" ry="5.4" fill="#fff" stroke="#333" stroke-width="0.5"/>
<ellipse cx="145" cy="109.3" rx="5.2" ry="3.4" fill="#fff" stroke="#333" stroke-width="0.5"/>
<path d="M152.0 53.5h0.8M152.0 54.2h0.8M152.0 55.4h0.8M152.0 58.2h0.8M152.0 61.0h0.8M152.0 62.5h0.8M152.0 64.1h0.8M152.0 65.4h0.8M152.0 67.9h0.8M152.0 69.2h0.8M152.0 70.8h0.8M152.0 72.0h0.8M152.0 73.6h0.8M152.0 75.2h0.8M152.0 77.6h0.8M152.0 78.1h0.8M152.0 80.3h0.8M152.0 81.3h0.8M152.0 85.8h0.8M152.0 86.5h0.8M152.0 87.0h0.8M152.0 88.0h0.8M152.0 89.0h0.8M152.0 90.3h0.8M152.0 93.6h0.8M152.0 94.2h0.8M152.0 95.4h0.8M152.0 101.4h0.8M152.0 102.0h0.8M152.0 103.3h0.8M152.0 104.5h0.8M152.0 105.1h0.8M152.0 106.9h0.8M152.0 107.2h0.8M152.0 109.6h0.8M152.0 111.1h0.8M153.0 53.0h0.8M153.0 55.1h0.8M153.0 55.9h0.8M153.0 58.7h0.8M153.0 62.0h0.8M153.0 62.4h0.8M153.0 63.8h0.8M153.0 64.6h0.8M153.0 66.1h0.8M153.0 67.2h0.8M153.0 69.5h0.8M153.0 70.7h0.8M153.0 71.7h0.8M153.0 72.4h0.8M153.0 75.2h0.8M153.0 81.0h0.8M153.0 82.1h0.8M153.0 83.0h0.8M153.0 83.9h0.8M153.0 84.5h0.8M153.0 85.4h0.8M153.0 89.9h0.8M153.0 90.7h0.8M153.0 92.3h0.8M153.0 92.9h0.8M153.0 93.4h0.8M153.0 101.5h0.8M153.0 102.4h0.8M153.0 103.4h0.8M153.0 106.6h0.8M153.0 110.8h0.8M154.0 52.5h0.8M154.0 54.0h0.8M154.0 55.6h0.8M154.0 56.3h0.8M154.0 58.8h0.8M154.0 62.2h0.8M154.0 64.5h0.8M154.0 65.3h0.8M154.0 67.0h0.8M154.0 68.4h0.8M154.0 69.1h0.8M154.0 71.0h0.8M154.0 71.9h0.8M154.0 73.1h0.8M154.0 73.9h0.8M154.0 75.3h0.8M154.0 76.8h0.8M154.0 78.2h0.8M154.0 79.0h0.8M154.0 79.7h0.8M154.0 80.8h0.8M154.0 81.9h0.8M154.0 83.5h0.8M154.0 85.2h0.8M154.0 88.1h0.8M154.0 90.6h0.8M154.0 91.4h0.8M154.0 94.0h0.8M154.0 95.4h0.8M154.0 96.6h0.8M154.0 98.3h0.8M154.0 99.4h0.8M154.0 100.5h0.8M154.0 101.3h0.8M154.0 102.8h0.8M154.0 105.2h0.8M154.0 105.8h0.8M154.0 108.1h0.8M154.0 109.5h0.8M154.0 112.3h0.8M155.0 50.3h0.8M155.0 51.4h0.8M155.0 55.7h0.8M155.0 56.7h0.8M155.0 59.9h0.8M155.0 60.6h0.8M155.0 63.8h0.8M155.0 64.3h0.8M155.0 65.4h0.8M155.0 68.3h0.8M155.0 70.1h0.8M155.0 75.4h0.8M155.0 76.4h0.8M155.0 77.7h0.8M155.0 78.6h0.8M155.0 81.1h0.8M155.0 82.4h0.8M155.0 83.3h0.8M155.0 84.3h0.8M155.0 86.4h0.8M155.0 87.8h0.8M155.0 91.6h0.8M155.0 93.4h0.8M155.0 94.3h0.8M155.0 98.6h0.8M155.0 100.1h0.8M155.0 102.7h0.8M155.0 103.8h0.8M155.0 104.6h0.8M155.0 107.0h0.8M155.0 108.0h0.8M155.0 108.2h0.8M155.0 112.1h0.8M156.0 52.4h0.8M156.0 54.3h0.8M156.0 56.4h0.8M156.0 56.5h0.8M156.0 58.3h0.8M156.0 58.9h0.8M156.0 61.3h0.8M156.0 61.4h0.8M156.0 63.2h0.8M156.0 65.0h0.8M156.0 65.6h0.8M156.0 69.6h0.8M156.0 73.3h0.8M156.0 76.0h0.8M156.0 76.4h0.8M156.0 78.8h0.8M156.0 79.9h0.8M156.0 81.4h0.8M156.0 84.8h0.8M156.0 85.6h0.8M156.0 88.1h0.8M156.0 89.2h0.8M156.0 91.8h0.8M156.0 92.8h0.8M156.0 93.5h0.8M156.0 96.1h0.8M156.0 97.2h0.8M156.0 99.1h0.8M156.0 100.4h0.8M156.0 101.8h0.8M156.0 102.4h0.8M156.0 107.1h0.8M156.0 107.5h0.8M156.0 111.2h0.8M156.0 111.6h0.8M157.0 49.1h0.8M157.0 51.7h0.8M157.0 51.9h0.8M157.0 55.5h0.8M157.0 57.0h0.8M157.0 58.0h0.8M157.0 59.4h0.8M157.0 63.7h0.8M157.0 72.3h0.8M157.0 73.3h0.8M157.0 74.6h0.8M157.0 75.7h0.8M157.0 76.5h0.8M157.0 77.3h0.8M157.0 77.8h0.8M157.0 80.8h0.8M157.0 82.4h0.8M157.0 83.9h0.8M157.0 86.6h0.8M157.0 89.8h0.8M157.0 91.7h0.8M157.0 91.9h0.8M157.0 93.8h0.8M157.0 94.8h0.8M157.0 96.1h0.8M157.0 97.9h0.8M157.0 100.6h0.8M157.0 100.8h0.8M157.0 102.1h0.8M157.0 103.1h0.8M157.0 105.7h0.8M157.0 106.0h0.8M157.0 106.9h0.8M157.0 108.5h0.8M157.0 110.0h0.8M157.0 111.8h0.8M158.0 50.8h0.8M158.0 53.7h0.8M158.0 54.7h0.8M158.0 55.4h0.8M158.0 58.6h0.8M158.0 60.7h0.8M158.0 63.3h0.8M158.0 67.5h0.8M158.0 69.4h0.8M158.0 72.9h0.8M158.0 73.6h0.8M158.0 75.5h0.8M158.0 77.8h0.8M158.0 79.7h0.8M158.0 80.4h0.8M158.0 81.4h0.8M158.0 83.9h0.8M158.0 84.4h0.8M158.0 85.6h0.8M158.0 89.4h0.8M158.0 91.8h0.8M158.0 92.5h0.8M158.0 93.5h0.8M158.0 95.8h0.8M158.0 96.3h0.8M158.0 102.8h0.8M158.0 104.2h0.8M158.0 107.4h0.8M158.0 108.8h0.8M158.0 109.9h0.8M158.0 110.2h0.8M158.0 112.8h0.8M159.0 47.5h0.8M159.0 50.3h0.8M159.0 52.2h0.8M159.0 54.3h0.8M159.0 55.2h0.8M159.0 56.1h0.8M159.0 58.4h0.8M159.0 60.1h0.8M159.0 60.5h0.8M159.0 63.2h0.8M159.0 63.6h0.8M159.0 66.3h0.8M159.0 67.0h0.8M159.0 68.5h0.8M159.0 70.1h0.8M159.0 70.8h0.8M159.0 73.2h0.8M159.0 77.2h0.8M159.0 77.9h0.8M159.0 81.8h0.8M159.0 83.8h0.8M159.0 84.5h0.8M159.0 86.4h0.8M159.0 86.5h0.8M159.0 91.4h0.8M159.0 91.7h0.8M159.0 92.7h0.8M159.0 95.1h0.8M159.0 98.5h0.8M159.0 100.6h0.8M159.0 101.7h0.8M159.0 108.8h0.8M159.0 110.7h0.8M159.0 112.0h0.8M160.0 48.0h0.8M160.0 49.5h0.8M160.0 49.8h0.8M160.0 51.0h0.8M160.0 54.3h0.8M160.0 58.7h0.8M160.0 59.1h0.8M160.0 60.1h0.8M160.0 61.5h0.8M160.0 62.0h0.8M160.0 65.3h0.8M160.0 67.2h0.8M160.0 72.0h0.8M160.0 74.1h0.8M160.0 75.3h0.8M160.0 78.4h0.8M160.0 79.4h0.8M160.0 82.2h0.8M160.0 83.1h0.8M160.0 84.1h0.8M160.0 87.0h0.8M160.0 87.8h0.8M160.0 90.5h0.8M160.0 91.0h0.8M160.0 92.5h0.8M160.0 96.0h0.8M160.0 103.4h0.8M160.0 103.9h0.8M160.0 108.0h0.8M160.0 109.5h0.8M160.0 110.7h0.8M161.0 47.9h0.8M161.0 49.1h0.8M161.0 50.5h0.8M161.0 51.6h0.8M161.0 52.3h0.8M161.0 53.8h0.8M161.0 56.4h0.8M161.0 60.1h0.8M161.0 64.4h0.8M161.0 65.3h0.8M161.0 66.5h0.8M161.0 67.5h0.8M161.0 68.4h0.8M161.0 70.8h0.8M161.0 71.3h0.8M161.0 77.8h0.8M161.0 79.2h0.8M161.0 82.1h0.8M161.0 84.0h0.8M161.0 84.6h0.8M161.0 86.8h0.8M161.0 87.9h0.8M161.0 88.8h0.8M161.0 89.8h0.8M161.0 91.3h0.8M161.0 92.7h0.8M161.0 93.3h0.8M161.0 94.6h0.8M161.0 97.7h0.8M161.0 100.2h0.8M161.0 102.6h0.8M161.0 104.4h0.8M161.0 108.1h0.8M161.0 108.4h0.8M161.0 110.1h0.8M161.0 110.7h0.8M162.0 46.2h0.8M162.0 48.5h0.8M162.0 49.7h0.8M162.0 51.1h0.8M162.0 51.7h0.8M162.0 54.8h0.8M162.0 55.7h0.8M162.0 57.4h0.8M162.0 58.2h0.8M162.0 59.4h0.8M162.0 59.6h0.8M162.0 63.4h0.8M162.0 64.0h0.8M162.0 66.3h0.8M162.0 68.3h0.8M162.0 69.3h0.8M162.0 71.3h0.8M162.0 73.3h0.8M162.0 74.9h0.8M162.0 76.4h0.8M162.0 77.0h0.8M162.0 79.5h0.8M162.0 84.7h0.8M162.0 86.0h0.8M162.0 87.7h0.8M162.0 90.3h0.8M162.0 91.5h0.8M162.0 92.6h0.8M162.0 93.9h0.8M162.0 95.7h0.8M162.0 97.1h0.8M162.0 98.5h0.8M162.0 99.5h0.8M162.0 105.5h0.8M162.0 109.1h0.8M162.0 110.2h0.8M162.0 111.2h0.8M162.0 112.2h0.8M163.0 45.4h0.8M163.0 49.1h0.8M163.0 50.1h0.8M163.0 52.1h0.8M163.0 53.1h0.8M163.0 56.1h0.8M163.0 60.8h0.8M163.0 61.8h0.8M163.0 62.0h0.8M163.0 64.0h0.8M163.0 67.2h0.8M163.0 68.1h0.8M163.0 70.0h0.8M163.0 72.0h0.8M163.0 76.8h0.8M163.0 79.5h0.8M163.0 82.4h0.8M163.0 83.5h0.8M163.0 84.2h0.8M163.0 85.7h0.8M163.0 86.7h0.8M163.0 87.4h0.8M163.0 88.3h0.8M163.0 89.9h0.8M163.0 90.9h0.8M163.0 92.5h0.8M163.0 93.4h0.8M163.0 95.3h0.8M163.0 96.5h0.8M163.0 97.4h0.8M163.0 98.5h0.8M163.0 99.3h0.8M163.0 102.9h0.8M163.0 104.8h0.8M163.0 107.1h0.8M163.0 110.4h0.8M163.0 111.5h0.8M163.0 112.2h0.8M164.0 44.3h0.8M164.0 46.1h0.8M164.0 46.8h0.8M164.0 47.5h0.8M164.0 48.9h0.8M164.0 50.1h0.8M164.0 50.3h0.8M164.0 51.3h0.8M164.0 53.8h0.8M164.0 55.4h0.8M164.0 56.4h0.8M164.0 57.6h0.8M164.0 58.4h0.8M164.0 59.7h0.8M164.0 61.4h0.8M164.0 62.6h0.8M164.0 63.4h0.8M164.0 64.4h0.8M164.0 69.2h0.8M164.0 71.9h0.8M164.0 73.9h0.8M164.0 74.5h0.8M164.0 76.9h0.8M164.0 78.0h0.8M164.0 79.2h0.8M164.0 83.8h0.8M164.0 86.4h0.8M164.0 87.5h0.8M164.0 89.8h0.8M164.0 91.7h0.8M164.0 93.7h0.8M164.0 96.0h0.8M164.0 96.4h0.8M164.0 98.8h0.8M164.0 99.6h0.8M164.0 101.6h0.8M164.0 104.5h0.8M164.0 105.7h0.8M164.0 106.7h0.8M164.0 107.7h0.8M164.0 108.4h0.8M164.0 109.6h0.8M164.0 110.8h0.8M164.0 111.6h0.8M164.0 113.2h0.8M165.0 43.9h0.8M165.0 44.7h0.8M165.0 46.4h0.8M165.0 49.9h0.8M165.0 50.8h0.8M165.0 51.9h0.8M165.0 53.3h0.8M165.0 53.6h0.8M165.0 54.9h0.8M165.0 56.1h0.8M165.0 58.5h0.8M165.0 59.0h0.8M165.0 62.1h0.8M165.0 63.8h0.8M165.0 65.4h0.8M165.0 69.6h0.8M165.0 69.9h0.8M165.0 70.6h0.8M165.0 72.5h0.8M165.0 73.7h0.8M165.0 75.3h0.8M165.0 75.9h0.8M165.0 77.4h0.8M165.0 78.4h0.8M165.0 81.1h0.8M165.0 81.6h0.8M165.0 83.9h0.8M165.0 85.9h0.8M165.0 87.3h0.8M165.0 88.2h0.8M165.0 90.2h0.8M165.0 92.0h0.8M165.0 92.6h0.8M165.0 93.7h0.8M165.0 95.0h0.8M165.0 96.8h0.8M165.0 98.5h0.8M165.0 98.6h0.8M165.0 100.5h0.8M165.0 101.5h0.8M165.0 102.1h0.8M165.0 106.3h0.8M165.0 107.0h0.8M165.0 108.0h0.8M165.0 110.2h0.8M165.0 111.3h0.8M166.0 42.9h0.8M166.0 44.0h0.8M166.0 47.8h0.8M166.0 48.7h0.8M166.0 49.5h0.8M166.0 50.6h0.8M166.0 51.5h0.8M166.0 52.9h0.8M166.0 53.3h0.8M166.0 56.4h0.8M166.0 57.9h0.8M166.0 58.4h0.8M166.0 60.0h0.8M166.0 64.9h0.8M166.0 66.1h0.8M166.0 67.3h0.8M166.0 68.6h0.8M166.0 69.3h0.8M166.0 73.5h0.8M166.0 74.1h0.8M166.0 75.6h0.8M166.0 76.5h0.8M166.0 77.8h0.8M166.0 78.9h0.8M166.0 79.3h0.8M166.0 80.7h0.8M166.0 81.0h0.8M166.0 82.9h0.8M166.0 83.3h0.8M166.0 85.8h0.8M166.0 86.4h0.8M166.0 88.6h0.8M166.0 89.9h0.8M166.0 92.2h0.8M166.0 94.8h0.8M166.0 95.0h0.8M166.0 98.0h0.8M166.0 99.5h0.8M166.0 101.7h0.8M166.0 105.6h0.8M166.0 106.0h0.8M166.0 109.4h0.8M166.0 112.8h0.8M167.0 42.3h0.8M167.0 44.1h0.8M167.0 45.6h0.8M167.0 47.0h0.8M167.0 47.5h0.8M167.0 49.0h0.8M167.0 49.8h0.8M167.0 52.0h0.8M167.0 53.9h0.8M167.0 54.4h0.8M167.0 55.5h0.8M167.0 57.5h0.8M167.0 62.2h0.8M167.0 63.7h0.8M167.0 64.6h0.8M167.0 66.9h0.8M167.0 67.7h0.8M167.0 68.8h0.8M167.0 69.8h0.8M167.0 73.0h0.8M167.0 76.1h0.8M167.0 76.4h0.8M167.0 77.3h0.8M167.0 79.2h0.8M167.0 81.0h0.8M167.0 81.3h0.8M167.0 82.8h0.8M167.0 85.1h0.8M167.0 85.4h0.8M167.0 90.6h0.8M167.0 91.4h0.8M167.0 94.0h0.8M167.0 97.6h0.8M167.0 103.4h0.8M167.0 104.8h0.8M167.0 106.2h0.8M167.0 106.6h0.8M167.0 108.2h0.8M167.0 109.0h0.8M167.0 109.7h0.8M167.0 112.4h0.8M168.0 41.8h0.8M168.0 42.9h0.8M168.0 44.6h0.8M168.0 44.9h0.8M168.0 45.7h0.8M168.0 49.5h0.8M168.0 53.2h0.8M168.0 54.4h0.8M168.0 57.4h0.8M168.0 58.1h0.8M168.0 58.8h0.8M168.0 60.0h0.8M168.0 61.4h0.8M168.0 61.8h0.8M168.0 63.3h0.8M168.0 64.2h0.8M168.0 64.7h0.8M168.0 66.6h0.8M168.0 67.5h0.8M168.0 70.7h0.8M168.0 73.3h0.8M168.0 73.6h0.8M168.0 76.4h0.8M168.0 77.6h0.8M168.0 78.9h0.8M168.0 81.2h0.8M168.0 82.4h0.8M168.0 83.2h0.8M168.0 84.2h0.8M168.0 85.0h0.8M168.0 85.8h0.8M168.0 86.7h0.8M168.0 90.2h0.8M168.0 92.3h0.8M168.0 93.7h0.8M168.0 96.8h0.8M168.0 97.9h0.8M168.0 99.6h0.8M168.0 99.9h0.8M168.0 104.0h0.8M168.0 105.0h0.8M168.0 108.8h0.8M168.0 110.6h0.8M169.0 41.7h0.8M169.0 42.8h0.8M169.0 44.9h0.8M169.0 45.2h0.8M169.0 47.3h0.8M169.0 48.4h0.8M169.0 49.3h0.8M169.0 51.2h0.8M169.0 52.5h0.8M169.0 53.0h0.8M169.0 54.9h0.8M169.0 56.7h0.8M169.0 57.2h0.8M169.0 59.1h0.8M169.0 63.2h0.8M169.0 69.8h0.8M169.0 70.3h0.8M169.0 71.0h0.8M169.0 74.0h0.8M169.0 75.8h0.8M169.0 76.3h0.8M169.0 77.2h0.8M169.0 82.7h0.8M169.0 83.9h0.8M169.0 84.3h0.8M169.0 85.2h0.8M169.0 86.2h0.8M169.0 87.4h0.8M169.0 89.4h0.8M169.0 91.5h0.8M169.0 92.5h0.8M169.0 93.6h0.8M169.0 95.4h0.8M169.0 97.2h0.8M169.0 101.5h0.8M169.0 103.6h0.8M169.0 105.3h0.8M169.0 106.3h0.8M170.0 40.8h0.8M170.0 43.9h0.8M170.0 44.6h0.8M170.0 46.3h0.8M170.0 46.5h0.8M170.0 49.7h0.8M170.0 51.9h0.8M170.0 52.7h0.8M170.0 54.2h0.8M170.0 57.5h0.8M170.0 60.1h0.8M170.0 60.8h0.8M170.0 62.8h0.8M170.0 64.7h0.8M170.0 66.2h0.8M170.0 69.0h0.8M170.0 72.0h0.8M170.0 72.9h0.8M170.0 74.7h0.8M170.0 76.2h0.8M170.0 76.8h0.8M170.0 78.1h0.8M170.0 81.0h0.8M170.0 86.8h0.8M170.0 88.1h0.8M170.0 88.8h0.8M170.0 90.8h0.8M170.0 93.7h0.8M170.0 94.8h0.8M170.0 96.8h0.8M170.0 97.7h0.8M170.0 101.5h0.8M170.0 103.7h0.8M170.0 106.1h0.8M170.0 109.3h0.8M170.0 109.5h0.8M170.0 110.3h0.8M170.0 111.5h0.8M171.0 41.3h0.8M171.0 42.6h0.8M171.0 43.4h0.8M171.0 46.9h0.8M171.0 48.0h0.8M171.0 49.3h0.8M171.0 51.3h0.8M171.0 51.8h0.8M171.0 54.2h0.8M171.0 54.7h0.8M171.0 55.9h0.8M171.0 63.5h0.8M171.0 64.3h0.8M171.0 65.1h0.8M171.0 65.8h0.8M171.0 67.6h0.8M171.0 67.9h0.8M171.0 70.3h0.8M171.0 70.7h0.8M171.0 72.6h0.8M171.0 75.6h0.8M171.0 75.8h0.8M171.0 80.6h0.8M171.0 80.9h0.8M171.0 84.5h0.8M171.0 87.1h0.8M171.0 87.8h0.8M171.0 90.1h0.8M171.0 91.7h0.8M171.0 93.1h0.8M171.0 95.2h0.8M171.0 98.0h0.8M171.0 99.4h0.8M171.0 100.4h0.8M171.0 101.0h0.8M171.0 102.2h0.8M171.0 106.8h0.8M171.0 108.4h0.8M171.0 110.5h0.8M171.0 112.1h0.8M172.0 39.2h0.8M172.0 41.1h0.8M172.0 42.9h0.8M172.0 44.9h0.8M172.0 52.5h0.8M172.0 79.3h0.8M172.0 93.4h0.8M172.0 103.0h0.8M173.0 38.4h0.8M173.0 41.7h0.8M173.0 42.5h0.8M173.0 44.0h0.8M173.0 48.9h0.8M173.0 58.4h0.8M173.0 64.1h0.8M173.0 89.0h0.8M173.0 91.1h0.8M174.0 38.8h0.8M174.0 41.5h0.8M174.0 44.0h0.8M174.0 45.7h0.8M174.0 85.3h0.8M174.0 95.2h0.8M175.0 37.5h0.8M175.0 40.5h0.8M175.0 41.1h0.8M175.0 42.9h0.8M175.0 46.0h0.8M175.0 47.8h0.8M175.0 49.3h0.8M175.0 50.5h0.8M175.0 51.4h0.8M175.0 52.1h0.8M175.0 53.4h0.8M175.0 54.7h0.8M175.0 56.0h0.8M175.0 56.5h0.8M175.0 57.8h0.8M175.0 58.5h0.8M175.0 59.4h0.8M175.0 60.1h0.8M175.0 63.0h0.8M175.0 63.2h0.8M175.0 65.8h0.8M175.0 66.9h0.8M175.0 67.6h0.8M175.0 69.1h0.8M175.0 70.6h0.8M175.0 73.5h0.8M175.0 75.5h0.8M175.0 76.1h0.8M175.0 77.7h0.8M175.0 78.8h0.8M175.0 79.4h0.8M175.0 80.4h0.8M175.0 82.8h0.8M175.0 87.7h0.8M175.0 89.6h0.8M175.0 91.3h0.8M175.0 95.7h0.8M175.0 96.8h0.8M175.0 97.8h0.8M175.0 100.3h0.8M175.0 102.5h0.8M175.0 104.1h0.8M175.0 104.3h0.8M175.0 106.4h0.8M175.0 108.1h0.8M175.0 108.4h0.8M175.0 109.6h0.8M175.0 112.0h0.8M175.0 112.4h0.8M176.0 38.1h0.8M176.0 41.1h0.8M176.0 43.7h0.8M176.0 46.5h0.8M176.0 48.6h0.8M176.0 49.5h0.8M176.0 52.0h0.8M176.0 58.0h0.8M176.0 59.0h0.8M176.0 61.2h0.8M176.0 61.6h0.8M176.0 64.8h0.8M176.0 67.1h0.8M176.0 67.9h0.8M176.0 69.7h0.8M176.0 70.5h0.8M176.0 71.5h0.8M176.0 75.9h0.8M176.0 76.5h0.8M176.0 78.3h0.8M176.0 78.7h0.8M176.0 83.1h0.8M176.0 83.8h0.8M176.0 86.8h0.8M176.0 88.3h0.8M176.0 89.7h0.8M176.0 91.2h0.8M176.0 93.3h0.8M176.0 94.2h0.8M176.0 94.6h0.8M176.0 95.8h0.8M176.0 96.5h0.8M176.0 97.9h0.8M176.0 100.1h0.8M176.0 100.9h0.8M176.0 102.0h0.8M176.0 104.0h0.8M176.0 105.3h0.8M176.0 106.4h0.8M176.0 107.0h0.8M176.0 108.3h0.8M176.0 108.6h0.8M176.0 109.5h0.8M176.0 110.7h0.8M176.0 111.5h0.8M177.0 36.6h0.8M177.0 39.5h0.8M177.0 40.8h0.8M177.0 41.7h0.8M177.0 41.8h0.8M177.0 42.9h0.8M177.0 44.5h0.8M177.0 45.0h0.8M177.0 45.8h0.8M177.0 47.2h0.8M177.0 48.0h0.8M177.0 49.2h0.8M177.0 50.7h0.8M177.0 51.7h0.8M177.0 53.0h0.8M177.0 56.3h0.8M177.0 58.2h0.8M177.0 59.0h0.8M177.0 61.4h0.8M177.0 62.1h0.8M177.0 63.9h0.8M177.0 64.9h0.8M177.0 68.5h0.8M177.0 69.6h0.8M177.0 70.3h0.8M177.0 76.0h0.8M177.0 77.9h0.8M177.0 79.9h0.8M177.0 82.2h0.8M177.0 86.4h0.8M177.0 87.3h0.8M177.0 90.1h0.8M177.0 91.1h0.8M177.0 94.9h0.8M177.0 97.5h0.8M177.0 100.1h0.8M177.0 107.7h0.8M177.0 108.0h0.8M177.0 109.7h0.8M177.0 110.8h0.8M177.0 111.0h0.8M177.0 112.3h0.8M178.0 35.4h0.8M178.0 37.6h0.8M178.0 38.5h0.8M178.0 39.9h0.8M178.0 40.3h0.8M178.0 41.5h0.8M178.0 43.4h0.8M178.0 44.3h0.8M178.0 45.7h0.8M178.0 46.9h0.8M178.0 47.3h0.8M178.0 49.8h0.8M178.0 51.0h0.8M178.0 53.7h0.8M178.0 54.9h0.8M178.0 55.6h0.8M178.0 60.1h0.8M178.0 60.6h0.8M178.0 61.8h0.8M178.0 62.5h0.8M178.0 64.9h0.8M178.0 68.3h0.8M178.0 71.1h0.8M178.0 73.3h0.8M178.0 74.2h0.8M178.0 76.8h0.8M178.0 78.7h0.8M178.0 80.0h0.8M178.0 80.6h0.8M178.0 82.4h0.8M178.0 86.3h0.8M178.0 87.6h0.8M178.0 89.8h0.8M178.0 90.4h0.8M178.0 92.8h0.8M178.0 94.1h0.8M178.0 95.1h0.8M178.0 96.5h0.8M178.0 99.9h0.8M178.0 100.8h0.8M178.0 101.9h0.8M178.0 103.1h0.8M178.0 106.3h0.8M178.0 107.6h0.8M178.0 111.8h0.8M178.0 113.1h0.8M179.0 35.9h0.8M179.0 37.0h0.8M179.0 38.7h0.8M179.0 41.4h0.8M179.0 42.2h0.8M179.0 43.5h0.8M179.0 45.1h0.8M179.0 48.7h0.8M179.0 50.3h0.8M179.0 51.0h0.8M179.0 51.6h0.8M179.0 54.3h0.8M179.0 54.9h0.8M179.0 56.4h0.8M179.0 59.3h0.8M179.0 59.6h0.8M179.0 60.8h0.8M179.0 61.9h0.8M179.0 62.9h0.8M179.0 63.7h0.8M179.0 64.6h0.8M179.0 65.7h0.8M179.0 69.4h0.8M179.0 71.3h0.8M179.0 72.9h0.8M179.0 74.7h0.8M179.0 78.5h0.8M179.0 78.7h0.8M179.0 83.2h0.8M179.0 85.9h0.8M179.0 87.8h0.8M179.0 90.0h0.8M179.0 92.5h0.8M179.0 93.1h0.8M179.0 93.8h0.8M179.0 94.8h0.8M179.0 95.6h0.8M179.0 96.6h0.8M179.0 100.2h0.8M179.0 102.5h0.8M179.0 103.6h0.8M179.0 105.8h0.8M179.0 108.8h0.8M179.0 110.1h0.8M179.0 111.6h0.8M180.0 34.7h0.8M180.0 35.5h0.8M180.0 36.8h0.8M180.0 37.8h0.8M180.0 40.4h0.8M180.0 41.1h0.8M180.0 45.7h0.8M180.0 46.6h0.8M180.0 48.3h0.8M180.0 50.0h0.8M180.0 51.0h0.8M180.0 52.0h0.8M180.0 54.0h0.8M180.0 56.5h0.8M180.0 57.4h0.8M180.0 59.1h0.8M180.0 62.1h0.8M180.0 63.1h0.8M180.0 65.5h0.8M180.0 66.5h0.8M180.0 68.2h0.8M180.0 69.3h0.8M180.0 81.0h0.8M180.0 82.0h0.8M180.0 83.1h0.8M180.0 85.5h0.8M180.0 87.2h0.8M180.0 88.9h0.8M180.0 91.1h0.8M180.0 92.5h0.8M180.0 93.8h0.8M180.0 95.6h0.8M180.0 98.1h0.8M180.0 99.3h0.8M180.0 101.7h0.8M180.0 103.8h0.8M180.0 104.3h0.8M180.0 106.7h0.8M180.0 107.0h0.8M180.0 112.7h0.8M181.0 33.9h0.8M181.0 35.6h0.8M181.0 36.4h0.8M181.0 37.9h0.8M181.0 40.7h0.8M181.0 41.7h0.8M181.0 45.7h0.8M181.0 47.1h0.8M181.0 49.1h0.8M181.0 50.8h0.8M181.0 52.4h0.8M181.0 54.4h0.8M181.0 56.6h0.8M181.0 57.9h0.8M181.0 58.7h0.8M181.0 60.1h0.8M181.0 62.6h0.8M181.0 64.9h0.8M181.0 67.0h0.8M181.0 70.1h0.8M181.0 70.9h0.8M181.0 74.4h0.8M181.0 77.1h0.8M181.0 78.9h0.8M181.0 81.3h0.8M181.0 82.9h0.8M181.0 85.2h0.8M181.0 86.6h0.8M181.0 87.5h0.8M181.0 89.0h0.8M181.0 90.4h0.8M181.0 92.6h0.8M181.0 93.3h0.8M181.0 95.8h0.8M181.0 96.4h0.8M181.0 97.2h0.8M181.0 99.8h0.8M181.0 102.9h0.8M181.0 106.7h0.8M181.0 107.5h0.8M181.0 109.7h0.8M181.0 111.1h0.8M181.0 111.9h0.8M182.0 34.4h0.8M182.0 35.8h0.8M182.0 36.7h0.8M182.0 39.1h0.8M182.0 39.9h0.8M182.0 41.7h0.8M182.0 42.9h0.8M182.0 44.0h0.8M182.0 44.9h0.8M182.0 47.0h0.8M182.0 48.5h0.8M182.0 50.4h0.8M182.0 53.1h0.8M182.0 56.3h0.8M182.0 56.7h0.8M182.0 57.8h0.8M182.0 62.8h0.8M182.0 64.9h0.8M182.0 66.3h0.8M182.0 68.5h0.8M182.0 72.8h0.8M182.0 73.7h0.8M182.0 78.0h0.8M182.0 79.0h0.8M182.0 79.9h0.8M182.0 80.8h0.8M182.0 81.6h0.8M182.0 84.2h0.8M182.0 84.7h0.8M182.0 86.9h0.8M182.0 89.4h0.8M182.0 90.0h0.8M182.0 91.5h0.8M182.0 93.7h0.8M182.0 95.7h0.8M182.0 97.2h0.8M182.0 98.0h0.8M182.0 101.4h0.8M182.0 101.6h0.8M182.0 103.6h0.8M182.0 107.6h0.8M183.0 33.9h0.8M183.0 35.2h0.8M183.0 36.1h0.8M183.0 37.4h0.8M183.0 38.5h0.8M183.0 39.6h0.8M183.0 41.7h0.8M183.0 43.6h0.8M183.0 45.8h0.8M183.0 46.1h0.8M183.0 51.1h0.8M183.0 53.4h0.8M183.0 55.8h0.8M183.0 57.5h0.8M183.0 58.2h0.8M183.0 60.5h0.8M183.0 61.4h0.8M183.0 62.7h0.8M183.0 63.7h0.8M183.0 64.4h0.8M183.0 65.7h0.8M183.0 67.4h0.8M183.0 68.4h0.8M183.0 71.8h0.8M183.0 71.9h0.8M183.0 73.9h0.8M183.0 77.2h0.8M183.0 78.8h0.8M183.0 80.2h0.8M183.0 83.3h0.8M183.0 84.8h0.8M183.0 85.1h0.8M183.0 87.3h0.8M183.0 90.8h0.8M183.0 91.7h0.8M183.0 93.8h0.8M183.0 94.1h0.8M183.0 97.5h0.8M183.0 99.5h0.8M183.0 102.0h0.8M183.0 103.7h0.8M183.0 105.0h0.8M183.0 106.6h0.8M183.0 109.5h0.8M183.0 110.2h0.8M183.0 111.0h0.8M184.0 31.7h0.8M184.0 34.9h0.8M184.0 37.0h0.8M184.0 37.6h0.8M184.0 41.6h0.8M184.0 43.0h0.8M184.0 43.6h0.8M184.0 45.9h0.8M184.0 46.4h0.8M184.0 48.2h0.8M184.0 49.9h0.8M184.0 51.0h0.8M184.0 52.6h0.8M184.0 53.3h0.8M184.0 54.9h0.8M184.0 55.4h0.8M184.0 57.8h0.8M184.0 58.7h0.8M184.0 59.6h0.8M184.0 60.9h0.8M184.0 62.6h0.8M184.0 64.9h0.8M184.0 67.3h0.8M184.0 68.6h0.8M184.0 69.6h0.8M184.0 70.8h0.8M184.0 73.0h0.8M184.0 73.5h0.8M184.0 76.2h0.8M184.0 76.6h0.8M184.0 82.0h0.8M184.0 87.3h0.8M184.0 88.3h0.8M184.0 89.6h0.8M184.0 91.1h0.8M184.0 91.8h0.8M184.0 92.3h0.8M184.0 94.6h0.8M184.0 96.3h0.8M184.0 99.1h0.8M184.0 100.4h0.8M184.0 103.8h0.8M184.0 106.3h0.8M184.0 107.4h0.8M184.0 109.2h0.8M184.0 109.6h0.8M184.0 110.6h0.8M185.0 30.8h0.8M185.0 33.4h0.8M185.0 33.9h0.8M185.0 36.1h0.8M185.0 37.5h0.8M185.0 38.1h0.8M185.0 42.5h0.8M185.0 44.1h0.8M185.0 46.1h0.8M185.0 47.0h0.8M185.0 48.5h0.8M185.0 49.0h0.8M185.0 50.2h0.8M185.0 50.7h0.8M185.0 52.4h0.8M185.0 55.0h0.8M185.0 58.0h0.8M185.0 59.8h0.8M185.0 60.6h0.8M185.0 62.2h0.8M185.0 67.9h0.8M185.0 70.5h0.8M185.0 72.2h0.8M185.0 73.7h0.8M185.0 75.4h0.8M185.0 75.7h0.8M185.0 77.2h0.8M185.0 78.5h0.8M185.0 78.7h0.8M185.0 82.0h0.8M185.0 84.7h0.8M185.0 85.7h0.8M185.0 87.7h0.8M185.0 89.0h0.8M185.0 90.5h0.8M185.0 91.8h0.8M185.0 94.6h0.8M185.0 94.7h0.8M185.0 96.0h0.8M185.0 98.4h0.8M185.0 101.0h0.8M185.0 104.3h0.8M185.0 106.6h0.8M185.0 107.3h0.8M186.0 30.6h0.8M186.0 31.6h0.8M186.0 32.9h0.8M186.0 35.8h0.8M186.0 38.7h0.8M186.0 39.7h0.8M186.0 42.7h0.8M186.0 46.0h0.8M186.0 47.8h0.8M186.0 48.6h0.8M186.0 49.5h0.8M186.0 50.4h0.8M186.0 51.5h0.8M186.0 52.6h0.8M186.0 53.6h0.8M186.0 54.2h0.8M186.0 55.0h0.8M186.0 59.4h0.8M186.0 60.2h0.8M186.0 61.9h0.8M186.0 63.1h0.8M186.0 65.0h0.8M186.0 66.8h0.8M186.0 68.7h0.8M186.0 70.6h0.8M186.0 72.5h0.8M186.0 73.2h0.8M186.0 74.4h0.8M186.0 76.0h0.8M186.0 77.8h0.8M186.0 78.6h0.8M186.0 80.1h0.8M186.0 81.4h0.8M186.0 83.0h0.8M186.0 85.0h0.8M186.0 85.1h0.8M186.0 90.7h0.8M186.0 91.6h0.8M186.0 93.0h0.8M186.0 94.3h0.8M186.0 96.7h0.8M186.0 97.0h0.8M186.0 98.4h0.8M186.0 102.7h0.8M186.0 106.8h0.8M186.0 108.8h0.8M186.0 109.9h0.8M187.0 31.7h0.8M187.0 32.9h0.8M187.0 33.4h0.8M187.0 35.8h0.8M187.0 37.2h0.8M187.0 38.7h0.8M187.0 40.8h0.8M187.0 41.5h0.8M187.0 44.4h0.8M187.0 45.9h0.8M187.0 50.1h0.8M187.0 52.3h0.8M187.0 54.2h0.8M187.0 54.4h0.8M187.0 58.1h0.8M187.0 58.3h0.8M187.0 59.8h0.8M187.0 60.5h0.8M187.0 61.7h0.8M187.0 62.7h0.8M187.0 64.9h0.8M187.0 67.3h0.8M187.0 67.5h0.8M187.0 69.0h0.8M187.0 71.0h0.8M187.0 72.3h0.8M187.0 72.5h0.8M187.0 73.4h0.8M187.0 74.5h0.8M187.0 76.4h0.8M187.0 78.1h0.8M187.0 79.9h0.8M187.0 87.4h0.8M187.0 89.1h0.8M187.0 90.9h0.8M187.0 92.0h0.8M187.0 95.2h0.8M187.0 95.4h0.8M187.0 98.4h0.8M187.0 99.4h0.8M187.0 102.3h0.8M187.0 103.9h0.8M187.0 106.9h0.8M187.0 112.8h0.8M140.0 111.2h0.8M141.0 112.6h0.8M142.0 113.2h0.8M145.0 66.0h0.8M147.0 67.9h0.8M147.0 112.8h0.8M148.0 54.9h0.8M148.0 64.8h0.8M148.0 68.2h0.8M148.0 68.7h0.8M148.0 103.7h0.8M148.0 105.6h0.8M149.0 55.6h0.8M149.0 65.3h0.8M149.0 67.1h0.8M149.0 69.1h0.8M149.0 105.5h0.8M150.0 55.0h0.8M150.0 55.5h0.8M150.0 57.5h0.8M150.0 63.6h0.8M150.0 65.9h0.8M150.0 69.4h0.8M150.0 71.8h0.8M150.0 102.1h0.8M150.0 105.1h0.8M150.0 105.5h0.8M150.0 107.1h0.8" stroke="#111" stroke-width="0.8" fill="none"/>
<rect x="50.3" y="23.3" width="138.6" height="97.9" fill="none" stroke="#111" stroke-width="2.2"/>
<text x="57.5" y="38.6" font-size="13" fill="#000" stroke="#000" stroke-width="0.3" textLength="60.5" lengthAdjust="spacingAndGlyphs">Numerical</text>
<text x="64.7" y="54.9" font-size="13" fill="#000" stroke="#000" stroke-width="0.3" textLength="40.5" lengthAdjust="spacingAndGlyphs">Theory</text>
<text x="46.7" y="135.2" font-size="13" fill="#c0303c" stroke="#c0303c" stroke-width="0.3" textLength="97" lengthAdjust="spacingAndGlyphs">Neimark Sacker-</text>
<text x="57.2" y="153.9" font-size="13" fill="#c0303c" stroke="#c0303c" stroke-width="0.3" textLength="64.3" lengthAdjust="spacingAndGlyphs">Bifurcation</text>
<path d="M121.5 146.9L135.6 156" fill="none" stroke="#f02020" stroke-width="1.7"/>
<path d="M144.8 162L133.4 159.3L137.7 152.7Z" fill="#f02020"/>
<text x="32.7" y="177.2" font-size="13" fill="#17964a" stroke="#17964a" stroke-width="0.3" textLength="31.5" lengthAdjust="spacingAndGlyphs">Hopf-</text>
<text x="17.5" y="192.4" font-size="13" fill="#17964a" stroke="#17964a" stroke-width="0.3" textLength="64.3" lengthAdjust="spacingAndGlyphs">Bifurcation</text>
<path d="M45.5 197.1L60.4 205.6" fill="none" stroke="#1e9b50" stroke-width="1.7"/>
<path d="M70 211.1L58.5 209L62.4 202.3Z" fill="#1e9b50"/>
<text x="66.3" y="207.9" font-size="15" fill="#000" stroke="#000" stroke-width="0.3">A</text>
<text x="91.1" y="191.2" font-size="15" fill="#000" stroke="#000" stroke-width="0.3">B</text>
<text x="117.9" y="167.4" font-size="15" fill="#000" stroke="#000" stroke-width="0.3">C</text>
<text x="146" y="149.2" font-size="15" fill="#000" stroke="#000" stroke-width="0.3">D</text>
<text x="171.4" y="133.2" font-size="15" fill="#000" stroke="#000" stroke-width="0.3">E</text>
<text x="193.2" y="117" font-size="15" fill="#000" stroke="#000" stroke-width="0.3">F</text>
<text x="243.5" y="75.3" font-size="15" fill="#000" stroke="#000" stroke-width="0.3">G</text>
<text x="269.5" y="55.3" font-size="15" fill="#000" stroke="#000" stroke-width="0.3">H</text>
<path d="M418.4 213.7h1M420.8 212h1M423.2 210.2h1M425.6 208.5h1M428 206.7h1M430.4 205h1M432.8 203.2h1M435.2 201.5h1M437.6 199.7h1M440 198h1M442.4 196.2h1M444.8 194.5h1M447.2 192.7h1M449.6 191h1M452 189.2h1M454.4 187.5h1M456.8 185.7h1M459.2 184h1M461.6 182.2h1M464 180.5h1M466.4 178.7h1M468.8 177h1M471.2 175.2h1M473.6 173.5h1M476 171.7h1M478.4 170h1M480.8 168.2h1M483.2 166.5h1M485.6 164.7h1M488 163h1M490.4 161.2h1M492.8 159.5h1M495.2 157.7h1M497.6 156h1M500 154.2h1M502.4 152.5h1M504.8 150.7h1M507.2 149h1M509.6 147.2h1M512 145.5h1M514.4 143.7h1M516.8 142h1M519.2 140.2h1M521.6 138.5h1M524 136.7h1M526.4 135h1M528.8 133.2h1M531.2 131.5h1M533.6 129.7h1M536 128h1M538.4 126.2h1M540.8 124.5h1M543.2 122.7h1M545.6 121h1M548 119.2h1M550.4 117.5h1M552.8 115.7h1M555.2 114h1M557.6 112.2h1M560 110.5h1M562.4 108.7h1M564.8 107h1M567.2 105.2h1M569.6 103.5h1M572 101.7h1M574.4 100h1M576.8 98.2h1M579.2 96.5h1M581.6 94.7h1M584 93h1M586.4 91.2h1M588.8 89.5h1M591.2 87.7h1M593.6 86h1M596 84.2h1M598.4 82.5h1M600.8 80.7h1M603.2 79h1M605.6 77.2h1M608 75.5h1M610.4 73.7h1M612.8 72h1M615.2 70.2h1M617.6 68.5h1M620 66.7h1M622.4 65h1M624.8 63.2h1M627.2 61.5h1M629.6 59.7h1M632 58h1M634.4 56.2h1M636.8 54.5h1M639.2 52.7h1M641.6 51h1M644 49.2h1M646.4 47.5h1M648.8 45.7h1M651.2 44h1M653.6 42.2h1M460.6 186.8h1M500 155h1M501 157h1M502 157h1M503 160h1M504 159h1M504 162h1M505 156h1M505 159h1M505 162h1M505 204h1M506 151h1M506 155h1M506 210h1M506 212h1M506 213h1M507 160h1M507 161h1M507 162h1M507 205h1M507 207h1M507 208h1M507 209h1M507 213h1M508 152h1M508 156h1M508 157h1M508 159h1M508 160h1M508 161h1M508 164h1M508 168h1M508 193h1M508 205h1M508 208h1M508 209h1M508 210h1M508 212h1M508 213h1M509 159h1M509 160h1M509 161h1M509 163h1M509 167h1M509 169h1M509 178h1M509 200h1M509 205h1M509 207h1M509 209h1M509 212h1M509 213h1M510 154h1M510 156h1M510 160h1M510 161h1M510 162h1M510 167h1M510 168h1M510 169h1M510 171h1M510 172h1M510 175h1M510 176h1M510 180h1M510 182h1M510 185h1M510 188h1M510 192h1M510 193h1M510 195h1M510 198h1M510 201h1M510 205h1M510 208h1M510 212h1M510 214h1M511 149h1M511 154h1M511 159h1M511 161h1M511 162h1M511 163h1M511 164h1M511 166h1M511 171h1M511 173h1M511 174h1M511 176h1M511 179h1M511 182h1M511 183h1M511 184h1M511 186h1M511 187h1M511 193h1M511 194h1M511 195h1M511 197h1M511 199h1M511 200h1M511 204h1M511 205h1M511 206h1M511 207h1M511 208h1M511 210h1M511 214h1M512 149h1M512 150h1M512 153h1M512 157h1M512 161h1M512 163h1M512 164h1M512 168h1M512 172h1M512 175h1M512 179h1M512 183h1M512 184h1M512 186h1M512 187h1M512 189h1M512 190h1M512 195h1M512 196h1M512 197h1M512 199h1M512 201h1M512 202h1M512 204h1M512 205h1M512 207h1M512 211h1M513 153h1M513 156h1M513 157h1M513 158h1M513 159h1M513 160h1M513 161h1M513 163h1M513 165h1M513 166h1M513 167h1M513 171h1M513 178h1M513 179h1M513 181h1M513 182h1M513 188h1M513 189h1M513 190h1M513 191h1M513 192h1M513 194h1M513 195h1M513 199h1M513 204h1M513 205h1M513 206h1M513 207h1M513 210h1M514 145h1M514 147h1M514 151h1M514 152h1M514 154h1M514 155h1M514 158h1M514 159h1M514 161h1M514 162h1M514 163h1M514 164h1M514 167h1M514 168h1M514 171h1M514 176h1M514 183h1M514 184h1M514 186h1M514 187h1M514 188h1M514 189h1M514 190h1M514 193h1M514 197h1M514 200h1M514 201h1M514 204h1M514 205h1M514 206h1M514 209h1M514 210h1M514 213h1M515 145h1M515 152h1M515 153h1M515 161h1M515 162h1M515 163h1M515 164h1M515 165h1M515 170h1M515 171h1M515 176h1M515 180h1M515 181h1M515 183h1M515 189h1M515 193h1M515 194h1M515 195h1M515 196h1M515 198h1M515 201h1M515 202h1M515 210h1M515 214h1M516 151h1M516 152h1M516 154h1M516 156h1M516 158h1M516 160h1M516 161h1M516 162h1M516 163h1M516 164h1M516 168h1M516 169h1M516 172h1M516 175h1M516 176h1M516 177h1M516 179h1M516 181h1M516 184h1M516 185h1M516 187h1M516 189h1M516 191h1M516 192h1M516 193h1M516 196h1M516 199h1M516 201h1M516 207h1M516 208h1M516 210h1M516 212h1M517 142h1M517 151h1M517 153h1M517 154h1M517 157h1M517 163h1M517 165h1M517 166h1M517 167h1M517 171h1M517 172h1M517 173h1M517 174h1M517 176h1M517 182h1M517 184h1M517 185h1M517 188h1M517 190h1M517 191h1M517 197h1M517 199h1M517 203h1M517 205h1M517 211h1M517 214h1M518 150h1M518 153h1M518 155h1M518 157h1M518 164h1M518 167h1M518 168h1M518 170h1M518 171h1M518 172h1M518 174h1M518 177h1M518 180h1M518 182h1M518 184h1M518 185h1M518 186h1M518 188h1M518 190h1M518 191h1M518 192h1M518 194h1M518 195h1M518 198h1M518 200h1M518 203h1M518 204h1M518 207h1M518 208h1M518 209h1M518 211h1M518 213h1M519 142h1M519 144h1M519 154h1M519 156h1M519 157h1M519 160h1M519 162h1M519 163h1M519 164h1M519 166h1M519 170h1M519 171h1M519 173h1M519 174h1M519 176h1M519 177h1M519 178h1M519 181h1M519 182h1M519 183h1M519 185h1M519 190h1M519 192h1M519 196h1M519 199h1M519 200h1M519 207h1M519 210h1M519 214h1M520 143h1M520 146h1M520 147h1M520 150h1M520 151h1M520 154h1M520 157h1M520 159h1M520 161h1M520 163h1M520 168h1M520 170h1M520 171h1M520 173h1M520 175h1M520 178h1M520 181h1M520 182h1M520 185h1M520 186h1M520 187h1M520 192h1M520 193h1M520 199h1M520 200h1M520 201h1M520 204h1M520 205h1M520 206h1M520 208h1M520 212h1M520 213h1M521 142h1M521 148h1M521 149h1M521 150h1M521 151h1M521 154h1M521 155h1M521 156h1M521 159h1M521 165h1M521 170h1M521 173h1M521 177h1M521 179h1M521 182h1M521 184h1M521 185h1M521 190h1M521 191h1M521 197h1M521 200h1M521 204h1M521 208h1M521 210h1M522 144h1M522 151h1M522 153h1M522 154h1M522 159h1M522 160h1M522 162h1M522 163h1M522 166h1M522 167h1M522 175h1M522 176h1M522 178h1M522 189h1M522 190h1M522 202h1M522 203h1M522 205h1M522 212h1M523 146h1M523 148h1M523 150h1M523 153h1M523 156h1M523 157h1M523 158h1M523 159h1M523 160h1M523 161h1M523 162h1M523 163h1M523 168h1M523 169h1M523 175h1M523 177h1M523 180h1M523 182h1M523 184h1M523 186h1M523 187h1M523 189h1M523 190h1M523 191h1M523 193h1M523 194h1M523 195h1M523 200h1M523 203h1M523 204h1M523 205h1M523 207h1M523 208h1M523 209h1M523 210h1M524 138h1M524 143h1M524 145h1M524 147h1M524 149h1M524 150h1M524 152h1M524 153h1M524 157h1M524 159h1M524 165h1M524 167h1M524 169h1M524 170h1M524 172h1M524 173h1M524 176h1M524 177h1M524 178h1M524 179h1M524 183h1M524 189h1M524 192h1M524 193h1M524 195h1M524 196h1M524 199h1M524 207h1M524 212h1M525 140h1M525 141h1M525 142h1M525 143h1M525 144h1M525 145h1M525 148h1M525 149h1M525 151h1M525 153h1M525 154h1M525 160h1M525 164h1M525 165h1M525 166h1M525 173h1M525 177h1M525 183h1M525 184h1M525 185h1M525 189h1M525 196h1M525 198h1M525 200h1M525 203h1M525 205h1M525 209h1M525 211h1M525 212h1M525 214h1M526 139h1M526 143h1M526 144h1M526 145h1M526 148h1M526 151h1M526 153h1M526 154h1M526 155h1M526 156h1M526 157h1M526 159h1M526 160h1M526 162h1M526 164h1M526 168h1M526 170h1M526 172h1M526 173h1M526 174h1M526 176h1M526 177h1M526 180h1M526 183h1M526 184h1M526 186h1M526 187h1M526 188h1M526 189h1M526 194h1M526 197h1M526 198h1M526 200h1M526 202h1M526 204h1M526 206h1M526 208h1M526 210h1M526 211h1M526 212h1M526 213h1M527 136h1M527 140h1M527 144h1M527 150h1M527 152h1M527 155h1M527 157h1M527 159h1M527 162h1M527 163h1M527 164h1M527 166h1M527 167h1M527 170h1M527 172h1M527 173h1M527 175h1M527 176h1M527 181h1M527 182h1M527 183h1M527 184h1M527 185h1M527 186h1M527 193h1M527 197h1M527 199h1M527 201h1M527 206h1M527 207h1M527 210h1M528 137h1M528 141h1M528 143h1M528 146h1M528 147h1M528 152h1M528 153h1M528 155h1M528 156h1M528 159h1M528 165h1M528 168h1M528 170h1M528 174h1M528 175h1M528 176h1M528 178h1M528 182h1M528 183h1M528 184h1M528 185h1M528 186h1M528 187h1M528 189h1M528 190h1M528 192h1M528 194h1M528 195h1M528 199h1M528 200h1M528 201h1M528 202h1M528 207h1M528 209h1M528 214h1M529 134h1M529 147h1M529 148h1M529 149h1M529 151h1M529 154h1M529 155h1M529 159h1M529 160h1M529 161h1M529 162h1M529 164h1M529 167h1M529 168h1M529 169h1M529 173h1M529 174h1M529 177h1M529 179h1M529 182h1M529 185h1M529 191h1M529 193h1M529 196h1M529 199h1M529 200h1M529 201h1M529 202h1M529 203h1M529 205h1M529 206h1M529 210h1M529 212h1M529 213h1M529 214h1M530 133h1M530 136h1M530 139h1M530 141h1M530 142h1M530 144h1M530 145h1M530 146h1M530 153h1M530 155h1M530 156h1M530 164h1M530 168h1M530 173h1M530 174h1M530 175h1M530 177h1M530 179h1M530 180h1M530 181h1M530 185h1M530 186h1M530 190h1M530 198h1M530 200h1M530 204h1M530 206h1M530 212h1M530 213h1M531 138h1M531 143h1M531 145h1M531 146h1M531 148h1M531 150h1M531 152h1M531 153h1M531 155h1M531 157h1M531 162h1M531 163h1M531 165h1M531 166h1M531 169h1M531 172h1M531 174h1M531 175h1M531 178h1M531 181h1M531 182h1M531 183h1M531 185h1M531 187h1M531 193h1M531 195h1M531 199h1M531 200h1M531 206h1M531 207h1M531 213h1M531 214h1M532 134h1M532 135h1M532 141h1M532 142h1M532 146h1M532 149h1M532 150h1M532 151h1M532 153h1M532 157h1M532 159h1M532 164h1M532 166h1M532 168h1M532 169h1M532 171h1M532 172h1M532 173h1M532 174h1M532 175h1M532 176h1M532 180h1M532 181h1M532 188h1M532 189h1M532 191h1M532 192h1M532 202h1M532 205h1M532 207h1M532 210h1M532 211h1M533 134h1M533 146h1M533 147h1M533 149h1M533 152h1M533 156h1M533 158h1M533 159h1M533 160h1M533 161h1M533 163h1M533 166h1M533 167h1M533 169h1M533 171h1M533 172h1M533 175h1M533 177h1M533 178h1M533 179h1M533 181h1M533 187h1M533 190h1M533 202h1M533 204h1M533 205h1M533 208h1M533 210h1M534 132h1M534 133h1M534 135h1M534 139h1M534 140h1M534 141h1M534 143h1M534 144h1M534 145h1M534 146h1M534 147h1M534 150h1M534 152h1M534 153h1M534 155h1M534 157h1M534 158h1M534 162h1M534 170h1M534 173h1M534 175h1M534 179h1M534 180h1M534 182h1M534 183h1M534 185h1M534 186h1M534 188h1M534 192h1M534 193h1M534 197h1M534 199h1M534 201h1M534 204h1M534 206h1M534 209h1M534 210h1M534 211h1M534 213h1M535 130h1M535 134h1M535 136h1M535 138h1M535 140h1M535 141h1M535 142h1M535 144h1M535 147h1M535 149h1M535 151h1M535 152h1M535 156h1M535 161h1M535 162h1M535 175h1M535 180h1M535 181h1M535 185h1M535 186h1M535 187h1M535 188h1M535 189h1M535 190h1M535 191h1M535 192h1M535 196h1M535 197h1M535 198h1M535 203h1M535 206h1M535 211h1M536 140h1M536 143h1M536 144h1M536 146h1M536 147h1M536 148h1M536 154h1M536 155h1M536 157h1M536 158h1M536 160h1M536 161h1M536 163h1M536 168h1M536 171h1M536 172h1M536 174h1M536 175h1M536 178h1M536 181h1M536 182h1M536 191h1M536 192h1M536 196h1M536 200h1M536 201h1M536 202h1M536 204h1M536 209h1M536 211h1M536 214h1M537 136h1M537 137h1M537 138h1M537 139h1M537 140h1M537 146h1M537 147h1M537 150h1M537 153h1M537 154h1M537 155h1M537 156h1M537 159h1M537 161h1M537 162h1M537 166h1M537 167h1M537 169h1M537 170h1M537 171h1M537 172h1M537 174h1M537 175h1M537 176h1M537 178h1M537 180h1M537 182h1M537 183h1M537 185h1M537 187h1M537 192h1M537 201h1M537 204h1M537 205h1M537 207h1M537 208h1M537 209h1M537 213h1M537 214h1M538 128h1M538 129h1M538 135h1M538 143h1M538 146h1M538 151h1M538 153h1M538 156h1M538 157h1M538 159h1M538 161h1M538 165h1M538 166h1M538 167h1M538 168h1M538 171h1M538 177h1M538 179h1M538 180h1M538 182h1M538 183h1M538 184h1M538 186h1M538 187h1M538 189h1M538 191h1M538 192h1M538 193h1M538 196h1M538 197h1M538 198h1M538 199h1M538 201h1M538 203h1M538 206h1M538 207h1M538 209h1M538 210h1M538 211h1M538 212h1M538 214h1M539 126h1M539 128h1M539 130h1M539 135h1M539 139h1M539 143h1M539 144h1M539 145h1M539 147h1M539 155h1M539 157h1M539 158h1M539 159h1M539 160h1M539 161h1M539 164h1M539 166h1M539 168h1M539 169h1M539 172h1M539 177h1M539 178h1M539 180h1M539 182h1M539 184h1M539 188h1M539 189h1M539 190h1M539 192h1M539 193h1M539 194h1M539 196h1M539 197h1M539 200h1M539 201h1M539 205h1M539 207h1M539 209h1M539 210h1M539 214h1M540 129h1M540 131h1M540 135h1M540 139h1M540 140h1M540 141h1M540 142h1M540 143h1M540 151h1M540 152h1M540 155h1M540 157h1M540 158h1M540 161h1M540 162h1M540 165h1M540 166h1M540 167h1M540 170h1M540 173h1M540 175h1M540 177h1M540 180h1M540 181h1M540 182h1M540 186h1M540 192h1M540 194h1M540 197h1M540 200h1M540 203h1M540 205h1M540 206h1M540 211h1M540 213h1M541 141h1M541 142h1M541 144h1M541 146h1M541 154h1M541 156h1M541 158h1M541 163h1M541 164h1M541 167h1M541 169h1M541 170h1M541 173h1M541 174h1M541 177h1M541 178h1M541 179h1M541 186h1M541 187h1M541 190h1M541 195h1M541 196h1M541 198h1M541 201h1M541 209h1M541 212h1M542 127h1M542 128h1M542 132h1M542 136h1M542 137h1M542 138h1M542 139h1M542 143h1M542 149h1M542 154h1M542 155h1M542 160h1M542 163h1M542 167h1M542 168h1M542 171h1M542 172h1M542 173h1M542 178h1M542 182h1M542 183h1M542 184h1M542 191h1M542 194h1M542 196h1M542 197h1M542 199h1M542 200h1M542 204h1M542 208h1M542 209h1M542 211h1M542 212h1M542 214h1M543 130h1M543 132h1M543 133h1M543 135h1M543 136h1M543 137h1M543 139h1M543 140h1M543 142h1M543 145h1M543 147h1M543 151h1M543 153h1M543 158h1M543 159h1M543 161h1M543 164h1M543 166h1M543 168h1M543 169h1M543 171h1M543 172h1M543 175h1M543 177h1M543 178h1M543 180h1M543 181h1M543 182h1M543 183h1M543 184h1M543 187h1M543 190h1M543 193h1M543 196h1M543 197h1M543 199h1M543 201h1M543 204h1M543 205h1M543 208h1M543 211h1M544 126h1M544 127h1M544 135h1M544 136h1M544 138h1M544 139h1M544 140h1M544 143h1M544 150h1M544 154h1M544 156h1M544 158h1M544 159h1M544 160h1M544 162h1M544 164h1M544 166h1M544 168h1M544 174h1M544 180h1M544 181h1M544 182h1M544 183h1M544 186h1M544 189h1M544 192h1M544 193h1M544 194h1M544 199h1M544 203h1M544 205h1M544 207h1M544 214h1M545 125h1M545 128h1M545 130h1M545 133h1M545 140h1M545 142h1M545 143h1M545 145h1M545 157h1M545 162h1M545 167h1M545 169h1M545 170h1M545 172h1M545 178h1M545 179h1M545 182h1M545 183h1M545 185h1M545 187h1M545 188h1M545 189h1M545 190h1M545 193h1M545 195h1M545 196h1M545 197h1M545 200h1M545 208h1M545 213h1M546 131h1M546 134h1M546 135h1M546 137h1M546 140h1M546 142h1M546 143h1M546 145h1M546 147h1M546 149h1M546 150h1M546 151h1M546 154h1M546 156h1M546 157h1M546 159h1M546 160h1M546 164h1M546 165h1M546 169h1M546 171h1M546 179h1M546 181h1M546 184h1M546 185h1M546 188h1M546 190h1M546 191h1M546 195h1M546 197h1M546 200h1M546 205h1M546 206h1M546 207h1M546 209h1M546 210h1M546 211h1M547 134h1M547 135h1M547 137h1M547 144h1M547 150h1M547 152h1M547 153h1M547 156h1M547 157h1M547 159h1M547 161h1M547 164h1M547 169h1M547 177h1M547 178h1M547 182h1M547 188h1M547 189h1M547 192h1M547 193h1M547 197h1M547 200h1M547 201h1M547 202h1M547 208h1M547 210h1M547 211h1M548 124h1M548 125h1M548 129h1M548 131h1M548 133h1M548 134h1M548 137h1M548 138h1M548 140h1M548 142h1M548 144h1M548 146h1M548 150h1M548 154h1M548 155h1M548 160h1M548 173h1M548 176h1M548 182h1M548 184h1M548 187h1M548 190h1M548 193h1M548 194h1M548 196h1M548 198h1M548 199h1M548 201h1M548 205h1M548 206h1M548 208h1M548 210h1M548 211h1M548 214h1M549 120h1M549 125h1M549 129h1M549 130h1M549 131h1M549 138h1M549 147h1M549 149h1M549 150h1M549 154h1M549 159h1M549 160h1M549 166h1M549 167h1M549 168h1M549 173h1M549 174h1M549 178h1M549 184h1M549 186h1M549 187h1M549 190h1M549 193h1M549 194h1M549 198h1M549 199h1M549 206h1M549 207h1M549 208h1M549 214h1M550 121h1M550 123h1M550 128h1M550 130h1M550 133h1M550 134h1M550 135h1M550 138h1M550 139h1M550 141h1M550 142h1M550 143h1M550 144h1M550 145h1M550 152h1M550 153h1M550 158h1M550 159h1M550 170h1M550 173h1M550 175h1M550 176h1M550 177h1M550 178h1M550 181h1M550 183h1M550 186h1M550 190h1M550 191h1M550 193h1M550 195h1M550 199h1M550 200h1M550 202h1M550 204h1M550 209h1M550 210h1M550 212h1M550 214h1M551 120h1M551 122h1M551 127h1M551 129h1M551 131h1M551 137h1M551 140h1M551 142h1M551 143h1M551 153h1M551 157h1M551 161h1M551 165h1M551 166h1M551 168h1M551 170h1M551 172h1M551 174h1M551 175h1M551 180h1M551 181h1M551 182h1M551 183h1M551 184h1M551 188h1M551 189h1M551 193h1M551 194h1M551 197h1M551 203h1M551 204h1M551 205h1M551 211h1M551 212h1M551 213h1M552 120h1M552 126h1M552 127h1M552 128h1M552 130h1M552 136h1M552 139h1M552 141h1M552 144h1M552 145h1M552 146h1M552 147h1M552 149h1M552 150h1M552 151h1M552 153h1M552 158h1M552 159h1M552 167h1M552 168h1M552 170h1M552 175h1M552 176h1M552 179h1M552 181h1M552 183h1M552 185h1M552 188h1M552 191h1M552 194h1M552 195h1M552 197h1M552 199h1M552 205h1M552 206h1M552 207h1M552 209h1M552 213h1M552 214h1M553 121h1M553 123h1M553 125h1M553 126h1M553 131h1M553 135h1M553 140h1M553 141h1M553 143h1M553 144h1M553 146h1M553 147h1M553 148h1M553 151h1M553 152h1M553 153h1M553 156h1M553 157h1M553 158h1M553 162h1M553 166h1M553 168h1M553 170h1M553 178h1M553 181h1M553 182h1M553 183h1M553 184h1M553 190h1M553 191h1M553 195h1M553 196h1M553 199h1M553 201h1M553 204h1M553 205h1M553 213h1M553 214h1M554 120h1M554 121h1M554 124h1M554 126h1M554 127h1M554 130h1M554 132h1M554 135h1M554 136h1M554 138h1M554 142h1M554 143h1M554 144h1M554 145h1M554 146h1M554 148h1M554 151h1M554 154h1M554 157h1M554 159h1M554 162h1M554 163h1M554 168h1M554 169h1M554 173h1M554 174h1M554 179h1M554 181h1M554 184h1M554 186h1M554 188h1M554 189h1M554 190h1M554 191h1M554 193h1M554 194h1M554 196h1M554 199h1M554 201h1M554 202h1M554 203h1M554 205h1M554 206h1M554 207h1M554 210h1M554 211h1M554 212h1M554 214h1M555 122h1M555 126h1M555 127h1M555 131h1M555 142h1M555 144h1M555 145h1M555 146h1M555 148h1M555 149h1M555 152h1M555 159h1M555 160h1M555 163h1M555 167h1M555 169h1M555 171h1M555 173h1M555 174h1M555 177h1M555 180h1M555 183h1M555 184h1M555 188h1M555 195h1M555 201h1M555 202h1M555 203h1M555 205h1M555 207h1M555 209h1M555 210h1M555 212h1M555 213h1M555 214h1M556 117h1M556 121h1M556 123h1M556 125h1M556 127h1M556 129h1M556 133h1M556 134h1M556 135h1M556 136h1M556 137h1M556 140h1M556 146h1M556 147h1M556 150h1M556 151h1M556 152h1M556 153h1M556 155h1M556 156h1M556 159h1M556 161h1M556 162h1M556 163h1M556 165h1M556 166h1M556 168h1M556 169h1M556 173h1M556 174h1M556 175h1M556 180h1M556 185h1M556 186h1M556 190h1M556 191h1M556 200h1M556 205h1M556 206h1M556 209h1M556 211h1M556 213h1M556 214h1M557 116h1M557 127h1M557 137h1M557 140h1M557 141h1M557 145h1M557 146h1M557 149h1M557 150h1M557 151h1M557 152h1M557 153h1M557 154h1M557 155h1M557 160h1M557 161h1M557 163h1M557 165h1M557 166h1M557 168h1M557 172h1M557 174h1M557 175h1M557 177h1M557 180h1M557 181h1M557 183h1M557 184h1M557 185h1M557 187h1M557 188h1M557 190h1M557 191h1M557 192h1M557 194h1M557 196h1M557 197h1M557 198h1M557 199h1M557 200h1M557 201h1M557 203h1M557 204h1M557 207h1M557 208h1M557 211h1M558 115h1M558 117h1M558 118h1M558 120h1M558 121h1M558 123h1M558 124h1M558 131h1M558 134h1M558 135h1M558 136h1M558 137h1M558 142h1M558 144h1M558 145h1M558 146h1M558 148h1M558 150h1M558 151h1M558 154h1M558 156h1M558 157h1M558 158h1M558 159h1M558 162h1M558 166h1M558 170h1M558 171h1M558 173h1M558 174h1M558 177h1M558 179h1M558 180h1M558 182h1M558 183h1M558 184h1M558 187h1M558 190h1M558 193h1M558 194h1M558 195h1M558 196h1M558 198h1M558 201h1M558 202h1M558 205h1M558 206h1M558 208h1M559 115h1M559 116h1M559 120h1M559 122h1M559 123h1M559 124h1M559 131h1M559 133h1M559 134h1M559 135h1M559 136h1M559 137h1M559 145h1M559 150h1M559 153h1M559 154h1M559 157h1M559 161h1M559 162h1M559 165h1M559 166h1M559 167h1M559 168h1M559 170h1M559 171h1M559 172h1M559 173h1M559 175h1M559 177h1M559 182h1M559 183h1M559 185h1M559 186h1M559 187h1M559 191h1M559 192h1M559 193h1M559 194h1M559 195h1M559 200h1M559 203h1M559 205h1M559 206h1M559 207h1M559 208h1M559 211h1M559 214h1M560 111h1M560 114h1M560 120h1M560 123h1M560 125h1M560 126h1M560 130h1M560 132h1M560 133h1M560 135h1M560 136h1M560 137h1M560 138h1M560 142h1M560 146h1M560 147h1M560 151h1M560 152h1M560 154h1M560 155h1M560 161h1M560 162h1M560 164h1M560 172h1M560 173h1M560 174h1M560 176h1M560 183h1M560 186h1M560 190h1M560 193h1M560 194h1M560 197h1M560 204h1M560 207h1M560 208h1M560 209h1M560 212h1M560 213h1M561 113h1M561 114h1M561 115h1M561 116h1M561 117h1M561 118h1M561 119h1M561 121h1M561 122h1M561 123h1M561 124h1M561 125h1M561 126h1M561 127h1M561 128h1M561 129h1M561 131h1M561 133h1M561 134h1M561 135h1M561 139h1M561 141h1M561 146h1M562 112h1M562 113h1M562 114h1M562 115h1M562 118h1M562 119h1M562 120h1M562 122h1M562 123h1M562 124h1M562 126h1M562 127h1M562 128h1M562 129h1M562 130h1M562 135h1M562 136h1M562 138h1M562 142h1M562 145h1M562 146h1M562 147h1M562 148h1M563 110h1M563 112h1M563 114h1M563 115h1M563 116h1M563 117h1M563 118h1M563 119h1M563 120h1M563 121h1M563 122h1M563 124h1M563 126h1M563 127h1M563 128h1M563 129h1M563 130h1M563 131h1M563 134h1M563 135h1M563 136h1M563 138h1M563 139h1M563 142h1M563 143h1M564 108h1M564 109h1M564 110h1M564 111h1M564 112h1M564 113h1M564 114h1M564 115h1M564 116h1M564 117h1M564 118h1M564 119h1M564 120h1M564 121h1M564 122h1M564 124h1M564 125h1M564 127h1M564 128h1M564 129h1M564 130h1M564 131h1M564 132h1M564 136h1M564 137h1M564 139h1M564 140h1M564 145h1M564 147h1M564 148h1M565 107h1M565 108h1M565 109h1M565 111h1M565 112h1M565 113h1M565 116h1M565 117h1M565 118h1M565 119h1M565 120h1M565 122h1M565 123h1M565 125h1M565 126h1M565 127h1M565 128h1M565 129h1M565 130h1M565 133h1M565 134h1M565 135h1M565 136h1M565 138h1M565 139h1M565 140h1M565 141h1M565 142h1M565 145h1M565 147h1M566 107h1M566 108h1M566 109h1M566 110h1M566 111h1M566 112h1M566 115h1M566 116h1M566 117h1M566 118h1M566 119h1M566 120h1M566 121h1M566 122h1M566 123h1M566 124h1M566 125h1M566 127h1M566 128h1M566 129h1M566 130h1M566 131h1M566 132h1M566 136h1M566 137h1M566 139h1M566 140h1M566 144h1M566 145h1M566 146h1M566 147h1M567 107h1M567 108h1M567 109h1M567 110h1M567 112h1M567 113h1M567 114h1M567 115h1M567 116h1M567 117h1M567 118h1M567 119h1M567 120h1M567 121h1M567 122h1M567 124h1M567 125h1M567 128h1M567 129h1M567 130h1M567 131h1M567 132h1M567 139h1M567 140h1M567 141h1M567 142h1M567 143h1M567 145h1M567 146h1M567 148h1M568 105h1M568 106h1M568 107h1M568 108h1M568 110h1M568 111h1M568 113h1M568 114h1M568 115h1M568 116h1M568 118h1M568 119h1M568 122h1M568 123h1M568 124h1M568 125h1M568 126h1M568 128h1M568 130h1M568 131h1M568 132h1M568 139h1M568 140h1M568 142h1M568 143h1M568 144h1M568 145h1M568 147h1M569 104h1M569 105h1M569 106h1M569 107h1M569 109h1M569 111h1M569 113h1M569 114h1M569 115h1M569 116h1M569 117h1M569 119h1M569 120h1M569 121h1M569 122h1M569 123h1M569 124h1M569 125h1M569 126h1M569 128h1M569 129h1M569 130h1M569 131h1M569 133h1M569 135h1M569 138h1M569 139h1M569 141h1M569 142h1M569 143h1M569 144h1M569 148h1M570 104h1M570 108h1M570 109h1M570 110h1M570 111h1M570 113h1M570 114h1M570 115h1M570 118h1M570 119h1M570 120h1M570 121h1M570 122h1M570 123h1M570 124h1M570 126h1M570 127h1M570 128h1M570 129h1M570 130h1M570 131h1M570 132h1M570 134h1M570 135h1M570 136h1M570 140h1M570 144h1M570 147h1M570 149h1M570 151h1M570 153h1M570 154h1M570 156h1M570 158h1M570 165h1M570 166h1M570 168h1M570 169h1M570 174h1M570 180h1M570 181h1M570 182h1M570 183h1M570 185h1M570 189h1M570 190h1M570 193h1M570 198h1M570 204h1M570 205h1M570 206h1M570 207h1M570 212h1M571 103h1M571 105h1M571 106h1M571 108h1M571 110h1M571 111h1M571 112h1M571 113h1M571 114h1M571 115h1M571 118h1M571 119h1M571 120h1M571 121h1M571 122h1M571 123h1M571 124h1M571 125h1M571 126h1M571 127h1M571 128h1M571 129h1M571 137h1M571 141h1M571 147h1M571 148h1M571 151h1M571 152h1M571 153h1M571 159h1M571 160h1M571 162h1M571 165h1M571 167h1M571 172h1M571 173h1M571 175h1M571 176h1M571 177h1M571 179h1M571 191h1M571 192h1M571 194h1M571 195h1M571 196h1M571 197h1M571 199h1M571 206h1M571 208h1M571 210h1M571 214h1M572 103h1M572 104h1M572 105h1M572 106h1M572 108h1M572 109h1M572 110h1M572 112h1M572 114h1M572 115h1M572 118h1M572 119h1M572 120h1M572 121h1M572 123h1M572 125h1M572 128h1M572 129h1M572 130h1M572 135h1M572 136h1M572 139h1M572 146h1M572 147h1M572 151h1M572 154h1M572 160h1M572 163h1M572 168h1M572 169h1M572 170h1M572 172h1M572 174h1M572 175h1M572 178h1M572 181h1M572 187h1M572 188h1M572 189h1M572 190h1M572 194h1M572 196h1M572 207h1M572 209h1M572 210h1M572 212h1M573 101h1M573 102h1M573 103h1M573 104h1M573 105h1M573 108h1M573 109h1M573 111h1M573 112h1M573 113h1M573 114h1M573 115h1M573 116h1M573 117h1M573 118h1M573 119h1M573 120h1M573 121h1M573 122h1M573 123h1M573 124h1M573 125h1M573 127h1M573 128h1M573 129h1M573 133h1M573 135h1M573 136h1M573 137h1M573 140h1M573 143h1M573 144h1M573 146h1M573 152h1M573 153h1M573 156h1M573 157h1M573 159h1M573 160h1M573 161h1M573 163h1M573 165h1M573 168h1M573 169h1M573 170h1M573 173h1M573 177h1M573 180h1M573 181h1M573 183h1M573 185h1M573 186h1M573 187h1M573 196h1M573 198h1M573 200h1M573 209h1M573 213h1M574 101h1M574 103h1M574 104h1M574 105h1M574 106h1M574 107h1M574 108h1M574 109h1M574 110h1M574 111h1M574 112h1M574 113h1M574 114h1M574 116h1M574 117h1M574 118h1M574 119h1M574 120h1M574 121h1M574 122h1M574 123h1M574 124h1M574 125h1M574 127h1M574 128h1M574 129h1M574 131h1M574 137h1M574 139h1M574 140h1M574 142h1M574 145h1M574 146h1M574 147h1M574 149h1M574 150h1M574 152h1M574 156h1M574 160h1M574 167h1M574 168h1M574 169h1M574 170h1M574 172h1M574 175h1M574 181h1M574 182h1M574 183h1M574 185h1M574 186h1M574 187h1M574 193h1M574 194h1M574 196h1M574 205h1M574 210h1M574 212h1M574 214h1M575 101h1M575 102h1M575 106h1M575 110h1M575 111h1M575 112h1M575 113h1M575 114h1M575 115h1M575 116h1M575 118h1M575 119h1M575 121h1M575 122h1M575 123h1M575 124h1M575 125h1M575 126h1M575 127h1M575 129h1M575 130h1M575 131h1M575 132h1M575 138h1M575 139h1M575 144h1M575 145h1M575 148h1M575 154h1M575 157h1M575 159h1M575 160h1M575 167h1M575 168h1M575 172h1M575 173h1M575 175h1M575 176h1M575 178h1M575 180h1M575 185h1M575 187h1M575 190h1M575 191h1M575 197h1M575 198h1M575 206h1M575 214h1M576 99h1M576 100h1M576 101h1M576 102h1M576 103h1M576 105h1M576 106h1M576 107h1M576 108h1M576 110h1M576 111h1M576 112h1M576 113h1M576 114h1M576 115h1M576 118h1M576 119h1M576 121h1M576 122h1M576 123h1M576 124h1M576 125h1M576 126h1M576 127h1M576 128h1M576 129h1M576 134h1M576 135h1M576 140h1M576 141h1M576 142h1M576 144h1M576 146h1M576 147h1M576 151h1M576 159h1M576 161h1M576 163h1M576 165h1M576 166h1M576 167h1M576 168h1M576 172h1M576 175h1M576 176h1M576 177h1M576 178h1M576 180h1M576 181h1M576 182h1M576 184h1M576 185h1M576 186h1M576 188h1M576 192h1M576 194h1M576 195h1M576 196h1M576 197h1M576 202h1M576 209h1M576 214h1M577 99h1M577 100h1M577 102h1M577 105h1M577 107h1M577 108h1M577 110h1M577 111h1M577 112h1M577 114h1M577 118h1M577 119h1M577 120h1M577 121h1M577 122h1M577 123h1M577 125h1M577 127h1M577 128h1M577 130h1M577 131h1M577 132h1M577 136h1M577 137h1M577 138h1M577 139h1M577 142h1M577 146h1M577 153h1M577 154h1M577 155h1M577 158h1M577 159h1M577 171h1M577 172h1M577 174h1M577 175h1M577 177h1M577 179h1M577 180h1M577 181h1M577 182h1M577 184h1M577 185h1M577 187h1M577 193h1M577 194h1M577 195h1M577 196h1M577 198h1M577 200h1M577 201h1M577 208h1M578 98h1M578 101h1M578 102h1M578 104h1M578 105h1M578 106h1M578 107h1M578 108h1M578 109h1M578 110h1M578 112h1M578 113h1M578 115h1M578 116h1M578 117h1M578 118h1M578 119h1M578 121h1M578 122h1M578 123h1M578 124h1M578 125h1M578 126h1M578 127h1M578 128h1M578 129h1M578 130h1M578 132h1M578 135h1M578 136h1M578 141h1M578 145h1M578 146h1M578 149h1M578 150h1M578 151h1M578 153h1M578 156h1M578 157h1M578 159h1M578 160h1M578 165h1M578 171h1M578 173h1M578 174h1M578 175h1M578 176h1M578 182h1M578 186h1M578 193h1M578 194h1M578 195h1M578 197h1M578 198h1M578 210h1M578 212h1M579 97h1M579 99h1M579 101h1M579 102h1M579 103h1M579 104h1M579 105h1M579 106h1M579 107h1M579 108h1M579 111h1M579 112h1M579 113h1M579 114h1M579 117h1M579 118h1M579 120h1M579 122h1M579 123h1M579 125h1M579 126h1M579 129h1M579 132h1M579 133h1M579 136h1M579 137h1M579 139h1M579 141h1M579 143h1M579 146h1M579 148h1M579 151h1M579 152h1M579 153h1M579 156h1M579 157h1M579 161h1M579 166h1M579 167h1M579 170h1M579 171h1M579 175h1M579 176h1M579 177h1M579 178h1M579 186h1M579 188h1M579 190h1M579 191h1M579 193h1M579 196h1M579 197h1M579 204h1M579 205h1M579 207h1M579 210h1M580 96h1M580 97h1M580 98h1M580 99h1M580 102h1M580 106h1M580 107h1M580 108h1M580 110h1M580 111h1M580 112h1M580 113h1M580 114h1M580 115h1M580 116h1M580 117h1M580 119h1M580 120h1M580 122h1M580 123h1M580 124h1M580 125h1M580 126h1M580 127h1M580 128h1M580 129h1M580 131h1M580 133h1M580 135h1M580 137h1M580 139h1M580 142h1M580 143h1M580 144h1M580 145h1M580 146h1M580 148h1M580 149h1M580 150h1M580 152h1M580 157h1M580 159h1M580 163h1M580 165h1M580 167h1M580 170h1M580 172h1M580 173h1M580 180h1M580 181h1M580 182h1M580 184h1M580 186h1M580 187h1M580 188h1M580 190h1M580 191h1M580 195h1M580 196h1M580 199h1M580 205h1M580 210h1M580 211h1M580 214h1M581 96h1M581 97h1M581 98h1M581 99h1M581 100h1M581 101h1M581 102h1M581 104h1M581 105h1M581 106h1M581 107h1M581 108h1M581 109h1M581 111h1M581 112h1M581 113h1M581 114h1M581 115h1M581 116h1M581 118h1M581 119h1M581 121h1M581 123h1M581 125h1M581 127h1M581 128h1M581 135h1M581 141h1M581 144h1M581 145h1M581 146h1M581 147h1M581 149h1M581 150h1M581 152h1M581 153h1M581 157h1M581 160h1M581 165h1M581 168h1M581 170h1M581 176h1M581 177h1M581 178h1M581 179h1M581 181h1M581 182h1M581 183h1M581 187h1M581 189h1M581 192h1M581 193h1M581 195h1M581 201h1M581 210h1M582 95h1M582 96h1M582 99h1M582 100h1M582 101h1M582 102h1M582 103h1M582 104h1M582 105h1M582 106h1M582 107h1M582 109h1M582 111h1M582 113h1M582 114h1M582 115h1M582 116h1M582 117h1M582 118h1M582 119h1M582 120h1M582 121h1M582 124h1M582 125h1M582 126h1M582 128h1M582 129h1M582 131h1M582 132h1M582 134h1M582 135h1M582 136h1M582 138h1M582 139h1M582 140h1M582 141h1M582 143h1M582 144h1M582 145h1M582 147h1M582 151h1M582 153h1M582 156h1M582 159h1M582 160h1M582 162h1M582 163h1M582 164h1M582 169h1M582 171h1M582 172h1M582 173h1M582 174h1M582 176h1M582 177h1M582 179h1M582 181h1M582 182h1M582 187h1M582 188h1M582 191h1M582 193h1M582 196h1M582 198h1M582 205h1M582 212h1M583 117h1M583 120h1M583 121h1M583 122h1M583 123h1M583 124h1M583 125h1M583 126h1M583 127h1M583 128h1M583 129h1M583 130h1M583 131h1M583 133h1M583 135h1M583 136h1M583 137h1M583 138h1M583 139h1M583 140h1M583 141h1M583 142h1M583 143h1M583 144h1M583 145h1M583 146h1M583 147h1M583 149h1M583 151h1M583 154h1M583 155h1M583 157h1M583 158h1M583 163h1M583 164h1M583 169h1M583 171h1M583 175h1M583 179h1M583 180h1M583 182h1M583 184h1M583 186h1M583 188h1M583 191h1M583 199h1M583 213h1M584 114h1M584 119h1M584 120h1M584 124h1M584 125h1M584 127h1M584 129h1M584 130h1M584 131h1M584 132h1M584 133h1M584 134h1M584 136h1M584 137h1M584 138h1M584 139h1M584 143h1M584 145h1M584 150h1M584 151h1M584 155h1M584 156h1M584 162h1M584 165h1M584 167h1M584 171h1M584 172h1M584 175h1M584 176h1M584 179h1M584 181h1M584 192h1M584 193h1M584 197h1M584 205h1M584 207h1M585 117h1M585 118h1M585 121h1M585 123h1M585 124h1M585 125h1M585 126h1M585 129h1M585 130h1M585 132h1M585 134h1M585 138h1M585 139h1M585 143h1M585 146h1M585 149h1M585 153h1M585 155h1M585 156h1M585 159h1M585 161h1M585 162h1M585 163h1M585 165h1M585 167h1M585 169h1M585 170h1M585 174h1M585 177h1M585 179h1M585 184h1M585 185h1M585 187h1M585 188h1M585 191h1M585 192h1M585 193h1M585 194h1M585 196h1M585 207h1M585 210h1M585 211h1M585 213h1M586 97h1M586 119h1M586 123h1M586 124h1M586 125h1M586 126h1M586 127h1M586 128h1M586 130h1M586 131h1M586 132h1M586 133h1M586 134h1M586 136h1M586 137h1M586 139h1M586 140h1M586 143h1M586 145h1M586 146h1M586 147h1M586 149h1M586 151h1M586 152h1M586 153h1M586 155h1M586 157h1M586 162h1M586 164h1M586 165h1M586 167h1M586 168h1M586 178h1M586 179h1M586 181h1M586 182h1M586 185h1M586 188h1M586 189h1M586 191h1M586 192h1M586 196h1M586 197h1M586 198h1M586 202h1M586 203h1M586 204h1M586 212h1M587 110h1M587 117h1M587 119h1M587 120h1M587 121h1M587 122h1M587 123h1M587 126h1M587 127h1M587 128h1M587 129h1M587 130h1M587 132h1M587 133h1M587 134h1M587 136h1M587 137h1M587 138h1M587 140h1M587 141h1M587 142h1M587 145h1M587 152h1M587 153h1M587 154h1M587 158h1M587 161h1M587 163h1M587 165h1M587 166h1M587 167h1M587 169h1M587 170h1M587 173h1M587 174h1M587 175h1M587 178h1M587 180h1M587 183h1M587 185h1M587 188h1M587 190h1M587 191h1M587 194h1M587 196h1M587 197h1M587 200h1M587 203h1M587 206h1M587 210h1M588 115h1M588 116h1M588 118h1M588 120h1M588 121h1M588 122h1M588 123h1M588 124h1M588 125h1M588 126h1M588 127h1M588 129h1M588 130h1M588 132h1M588 133h1M588 135h1M588 136h1M588 142h1M588 144h1M588 146h1M588 147h1M588 148h1M588 149h1M588 152h1M588 153h1M588 156h1M588 157h1M588 158h1M588 160h1M588 164h1M588 165h1M588 171h1M588 178h1M588 179h1M588 181h1M588 182h1M588 183h1M588 185h1M588 190h1M588 191h1M588 193h1M588 196h1M589 93h1M589 115h1M589 117h1M589 119h1M589 121h1M589 122h1M589 123h1M589 124h1M589 125h1M589 126h1M589 127h1M589 128h1M589 129h1M589 130h1M589 133h1M589 135h1M589 136h1M589 143h1M589 147h1M589 148h1M589 152h1M589 153h1M589 162h1M589 164h1M589 165h1M589 169h1M589 170h1M589 171h1M589 172h1M589 173h1M589 174h1M589 175h1M589 176h1M589 178h1M589 182h1M589 188h1M589 189h1M589 191h1M589 193h1M589 194h1M589 195h1M589 196h1M589 197h1M589 201h1M589 209h1M590 113h1M590 114h1M590 115h1M590 116h1M590 117h1M590 118h1M590 119h1M590 120h1M590 122h1M590 123h1M590 124h1M590 125h1M590 127h1M590 128h1M590 129h1M590 130h1M590 131h1M590 133h1M590 134h1M590 135h1M590 136h1M590 138h1M590 140h1M590 141h1M590 142h1M590 143h1M590 144h1M590 147h1M590 148h1M590 150h1M590 157h1M590 158h1M590 159h1M590 162h1M590 163h1M590 164h1M590 168h1M590 173h1M590 174h1M590 175h1M590 176h1M590 179h1M590 181h1M590 184h1M590 185h1M590 186h1M590 188h1M590 192h1M590 193h1M590 195h1M590 196h1M590 197h1M590 198h1M590 199h1M590 202h1M590 212h1M591 111h1M591 112h1M591 113h1M591 114h1M591 115h1M591 116h1M591 117h1M591 119h1M591 121h1M591 122h1M591 123h1M591 124h1M591 125h1M591 127h1M591 128h1M591 129h1M591 130h1M591 131h1M591 132h1M591 134h1M591 136h1M591 138h1M591 143h1M591 148h1M591 151h1M591 152h1M591 154h1M591 157h1M591 159h1M591 165h1M591 166h1M591 168h1M591 170h1M591 173h1M591 179h1M591 182h1M591 184h1M591 185h1M591 189h1M591 192h1M591 194h1M591 195h1M591 197h1M591 198h1M592 89h1M592 94h1M592 110h1M592 112h1M592 113h1M592 114h1M592 115h1M592 116h1M592 117h1M592 119h1M592 120h1M592 121h1M592 122h1M592 123h1M592 124h1M592 125h1M592 126h1M592 127h1M592 128h1M592 129h1M592 134h1M592 135h1M592 138h1M592 141h1M592 144h1M592 145h1M592 146h1M592 147h1M592 148h1M592 149h1M592 162h1M592 163h1M592 165h1M592 168h1M592 169h1M592 171h1M592 181h1M592 184h1M592 191h1M592 194h1M592 195h1M592 198h1M592 199h1M592 201h1M592 202h1M592 205h1M592 206h1M593 109h1M593 110h1M593 112h1M593 113h1M593 116h1M593 117h1M593 118h1M593 120h1M593 121h1M593 122h1M593 124h1M593 125h1M593 128h1M593 129h1M593 130h1M593 132h1M593 133h1M593 134h1M593 135h1M593 140h1M593 144h1M593 145h1M593 151h1M593 153h1M593 157h1M593 159h1M593 163h1M593 165h1M593 170h1M593 171h1M593 172h1M593 175h1M593 177h1M593 181h1M593 182h1M593 183h1M593 184h1M593 187h1M593 189h1M593 190h1M593 191h1M593 192h1M593 195h1M593 196h1M593 202h1M593 210h1M593 211h1M593 213h1M594 110h1M594 111h1M594 112h1M594 115h1M594 116h1M594 117h1M594 118h1M594 121h1M594 122h1M594 123h1M594 125h1M594 126h1M594 127h1M594 128h1M594 129h1M594 130h1M594 133h1M594 134h1M594 136h1M594 138h1M594 141h1M594 142h1M594 143h1M594 147h1M594 152h1M594 154h1M594 155h1M594 158h1M594 160h1M594 161h1M594 163h1M594 171h1M594 173h1M594 176h1M594 177h1M594 178h1M594 180h1M594 181h1M594 182h1M594 183h1M594 184h1M594 185h1M594 186h1M594 187h1M594 189h1M594 193h1M594 195h1M594 196h1M594 197h1M595 108h1M595 111h1M595 112h1M595 113h1M595 114h1M595 115h1M595 116h1M595 118h1M595 119h1M595 121h1M595 123h1M595 125h1M595 127h1M595 131h1M595 132h1M595 133h1M595 139h1M595 140h1M595 144h1M595 145h1M595 153h1M595 156h1M595 159h1M595 163h1M595 164h1M595 167h1M595 170h1M595 171h1M595 172h1M595 175h1M595 176h1M595 179h1M595 181h1M595 182h1M595 184h1M595 185h1M595 186h1M595 189h1M595 191h1M595 193h1M595 194h1M595 197h1M595 207h1M595 208h1M595 212h1M595 213h1M596 87h1M596 106h1M596 109h1M596 110h1M596 111h1M596 113h1M596 114h1M596 115h1M596 116h1M596 117h1M596 118h1M596 119h1M596 120h1M596 121h1M596 122h1M596 123h1M596 125h1M596 126h1M596 127h1M596 129h1M596 130h1M596 135h1M596 147h1M596 148h1M596 152h1M596 154h1M596 158h1M596 159h1M596 164h1M596 165h1M596 169h1M596 172h1M596 173h1M596 175h1M596 181h1M596 182h1M596 183h1M596 184h1M596 187h1M596 190h1M596 192h1M596 194h1M596 197h1M596 199h1M596 200h1M596 204h1M596 209h1M597 86h1M597 92h1M597 96h1M597 106h1M597 107h1M597 110h1M597 111h1M597 113h1M597 114h1M597 115h1M597 116h1M597 117h1M597 119h1M597 120h1M597 121h1M597 122h1M597 123h1M597 124h1M597 125h1M597 126h1M597 130h1M597 131h1M597 132h1M597 133h1M597 138h1M597 139h1M597 140h1M597 146h1M597 148h1M597 150h1M597 152h1M597 153h1M597 156h1M597 158h1M597 160h1M597 163h1M597 164h1M597 165h1M597 167h1M597 168h1M597 171h1M597 172h1M597 173h1M597 176h1M597 177h1M597 179h1M597 180h1M597 181h1M597 182h1M597 185h1M597 188h1M597 189h1M597 192h1M597 193h1M597 194h1M597 195h1M597 196h1M597 198h1M598 103h1M598 104h1M598 106h1M598 107h1M598 108h1M598 109h1M598 111h1M598 112h1M598 113h1M598 114h1M598 115h1M598 117h1M598 119h1M598 121h1M598 122h1M598 124h1M598 125h1M598 126h1M598 130h1M598 134h1M598 136h1M598 138h1M598 139h1M598 140h1M598 142h1M598 144h1M598 146h1M598 149h1M598 151h1M598 153h1M598 159h1M598 160h1M598 164h1M598 166h1M598 167h1M598 169h1M598 173h1M598 174h1M598 179h1M598 180h1M598 181h1M598 182h1M598 183h1M598 184h1M598 186h1M598 187h1M598 189h1M598 190h1M598 192h1M598 194h1M598 197h1M598 207h1M598 213h1M599 106h1M599 107h1M599 108h1M599 109h1M599 110h1M599 112h1M599 113h1M599 114h1M599 115h1M599 116h1M599 117h1M599 118h1M599 121h1M599 123h1M599 125h1M599 129h1M599 130h1M599 133h1M599 134h1M599 135h1M599 137h1M599 146h1M599 150h1M599 151h1M599 155h1M599 159h1M599 162h1M599 163h1M599 166h1M599 168h1M599 169h1M599 171h1M599 172h1M599 174h1M599 175h1M599 181h1M599 191h1M599 192h1M599 199h1M599 200h1M600 87h1M600 102h1M600 103h1M600 104h1M600 107h1M600 108h1M600 109h1M600 110h1M600 111h1M600 112h1M600 113h1M600 114h1M600 115h1M600 116h1M600 117h1M600 118h1M600 119h1M600 120h1M600 121h1M600 122h1M600 123h1M600 125h1M600 127h1M600 128h1M600 129h1M600 133h1M600 134h1M600 136h1M600 137h1M600 140h1M600 141h1M600 142h1M600 143h1M600 144h1M600 151h1M600 152h1M600 157h1M600 161h1M600 163h1M600 166h1M600 167h1M600 168h1M600 169h1M600 172h1M600 173h1M600 175h1M600 176h1M600 177h1M600 180h1M600 182h1M600 185h1M600 190h1M600 191h1M601 100h1M601 101h1M601 102h1M601 103h1M601 104h1M601 105h1M601 106h1M601 107h1M601 108h1M601 109h1M601 110h1M601 111h1M601 112h1M601 113h1M601 114h1M601 115h1M601 116h1M601 118h1M601 119h1M601 121h1M601 125h1M601 126h1M601 127h1M601 134h1M601 136h1M601 137h1M601 138h1M601 139h1M601 141h1M601 142h1M601 143h1M601 145h1M601 146h1M601 149h1M601 150h1M601 151h1M601 155h1M601 157h1M601 159h1M601 164h1M601 166h1M601 167h1M601 168h1M601 169h1M601 173h1M601 175h1M601 176h1M601 178h1M601 180h1M601 182h1M601 183h1M601 187h1M602 99h1M602 100h1M602 101h1M602 103h1M602 104h1M602 105h1M602 106h1M602 107h1M602 108h1M602 110h1M602 111h1M602 112h1M602 113h1M602 114h1M602 115h1M602 116h1M602 119h1M602 120h1M602 123h1M602 124h1M602 125h1M602 126h1M602 127h1M602 128h1M602 132h1M602 133h1M602 135h1M602 139h1M602 140h1M602 142h1M602 144h1M602 149h1M602 151h1M602 153h1M602 154h1M602 159h1M602 160h1M602 162h1M602 164h1M602 165h1M602 167h1M602 175h1M602 176h1M602 177h1M602 178h1M602 180h1M602 181h1M602 182h1M602 184h1M602 188h1M602 191h1M602 192h1M602 194h1M602 196h1M602 201h1M602 208h1M603 80h1M603 98h1M603 99h1M603 100h1M603 102h1M603 103h1M603 105h1M603 106h1M603 107h1M603 108h1M603 109h1M603 110h1M603 111h1M603 113h1M603 114h1M603 115h1M603 118h1M603 119h1M603 121h1M603 122h1M603 123h1M603 128h1M603 135h1M603 137h1M603 138h1M603 140h1M603 149h1M603 152h1M603 153h1M603 155h1M603 157h1M603 161h1M603 162h1M603 167h1M603 172h1M603 173h1M603 175h1M603 176h1M603 177h1M603 179h1M603 180h1M603 184h1M603 185h1M603 186h1M603 187h1M603 188h1M603 193h1M603 200h1M603 201h1M603 211h1M603 212h1M604 93h1M604 97h1M604 98h1M604 100h1M604 101h1M604 103h1M604 104h1M604 105h1M604 106h1M604 107h1M604 109h1M604 110h1M604 111h1M604 112h1M604 113h1M604 114h1M604 115h1M604 116h1M604 117h1M604 119h1M604 121h1M604 122h1M604 124h1M604 125h1M604 126h1M604 128h1M604 133h1M604 136h1M604 137h1M604 139h1M604 141h1M604 143h1M604 146h1M604 148h1M604 149h1M604 153h1M604 155h1M604 156h1M604 157h1M604 164h1M604 166h1M604 167h1M604 170h1M604 177h1M604 178h1M604 186h1M604 187h1M604 189h1M604 209h1M604 212h1M605 86h1M605 96h1M605 98h1M605 100h1M605 101h1M605 102h1M605 103h1M605 104h1M605 106h1M605 108h1M605 110h1M605 111h1M605 113h1M605 114h1M605 115h1M605 116h1M605 117h1M605 118h1M605 119h1M605 120h1M605 121h1M605 126h1M605 128h1M605 130h1M605 132h1M605 133h1M605 135h1M605 139h1M605 140h1M605 141h1M605 142h1M605 143h1M605 145h1M605 146h1M605 153h1M605 155h1M605 156h1M605 157h1M605 162h1M605 163h1M605 164h1M605 166h1M605 168h1M605 170h1M605 171h1M605 174h1M605 179h1M605 180h1M605 181h1M605 186h1M605 187h1M605 188h1M605 190h1M605 201h1M606 90h1M606 95h1M606 97h1M606 98h1M606 99h1M606 102h1M606 103h1M606 104h1M606 105h1M606 106h1M606 107h1M606 109h1M606 110h1M606 111h1M606 112h1M606 113h1M606 114h1M606 116h1M606 121h1M606 123h1M606 126h1M606 141h1M606 145h1M606 146h1M606 147h1M606 149h1M606 150h1M606 151h1M606 153h1M606 157h1M606 159h1M606 161h1M606 165h1M606 166h1M606 167h1M606 168h1M606 169h1M606 173h1M606 174h1M606 176h1M606 180h1M606 181h1M606 184h1M606 188h1M606 197h1M606 205h1M606 210h1M607 97h1M607 98h1M607 99h1M607 100h1M607 102h1M607 103h1M607 105h1M607 106h1M607 107h1M607 108h1M607 109h1M607 111h1M607 112h1M607 115h1M607 116h1M607 117h1M607 119h1M607 120h1M607 122h1M607 123h1M607 125h1M607 129h1M607 130h1M607 131h1M607 133h1M607 134h1M607 135h1M607 136h1M607 142h1M607 144h1M607 148h1M607 149h1M607 150h1M607 151h1M607 153h1M607 155h1M607 158h1M607 163h1M607 167h1M607 169h1M607 171h1M607 180h1M607 182h1M607 183h1M607 186h1M607 187h1M607 188h1M607 193h1M607 214h1M608 93h1M608 94h1M608 97h1M608 98h1M608 99h1M608 100h1M608 101h1M608 103h1M608 104h1M608 105h1M608 106h1M608 107h1M608 108h1M608 112h1M608 113h1M608 114h1M608 116h1M608 132h1M608 133h1M608 136h1M608 137h1M608 139h1M608 145h1M608 146h1M608 147h1M608 153h1M608 155h1M608 156h1M608 157h1M608 159h1M608 163h1M608 165h1M608 170h1M608 171h1M608 173h1M608 174h1M608 175h1M608 176h1M608 178h1M608 181h1M608 183h1M608 206h1M608 210h1M608 212h1M609 77h1M609 92h1M609 93h1M609 99h1M609 100h1M609 101h1M609 103h1M609 104h1M609 105h1M609 106h1M609 107h1M609 108h1M609 109h1M609 110h1M609 112h1M609 113h1M609 114h1M609 118h1M609 121h1M609 123h1M609 125h1M609 126h1M609 127h1M609 129h1M609 130h1M609 132h1M609 133h1M609 134h1M609 135h1M609 136h1M609 137h1M609 138h1M609 142h1M609 143h1M609 145h1M609 150h1M609 152h1M609 153h1M609 156h1M609 158h1M609 159h1M609 160h1M609 168h1M609 173h1M609 175h1M609 178h1M609 179h1M609 184h1M609 186h1M609 190h1M609 196h1M609 199h1M610 79h1M610 91h1M610 92h1M610 93h1M610 95h1M610 97h1M610 100h1M610 101h1M610 102h1M610 103h1M610 104h1M610 107h1M610 108h1M610 109h1M610 110h1M610 111h1M610 113h1M610 114h1M610 116h1M610 117h1M610 119h1M610 120h1M610 121h1M610 123h1M610 126h1M610 129h1M610 131h1M610 132h1M610 137h1M610 138h1M610 139h1M610 140h1M610 142h1M610 144h1M610 146h1M610 150h1M610 152h1M610 153h1M610 154h1M610 155h1M610 158h1M610 159h1M610 160h1M610 164h1M610 166h1M610 171h1M610 172h1M610 175h1M610 176h1M610 178h1M610 182h1M610 183h1M610 187h1M610 189h1M610 191h1M610 194h1M610 199h1M610 200h1M610 214h1M611 89h1M611 91h1M611 95h1M611 97h1M611 98h1M611 99h1M611 100h1M611 101h1M611 103h1M611 104h1M611 105h1M611 106h1M611 107h1M611 108h1M611 109h1M611 110h1M611 112h1M611 115h1M611 117h1M611 118h1M611 123h1M611 128h1M611 129h1M611 137h1M611 143h1M611 144h1M611 145h1M611 146h1M611 149h1M611 153h1M611 160h1M611 162h1M611 164h1M611 168h1M611 171h1M611 175h1M611 176h1M611 178h1M611 179h1M611 180h1M611 181h1M611 182h1M611 184h1M611 185h1M611 186h1M611 187h1M611 188h1M611 189h1M611 190h1M611 191h1M611 208h1M612 88h1M612 89h1M612 91h1M612 92h1M612 93h1M612 94h1M612 95h1M612 96h1M612 98h1M612 99h1M612 101h1M612 104h1M612 105h1M612 106h1M612 107h1M612 108h1M612 109h1M612 111h1M612 112h1M612 116h1M612 118h1M612 123h1M612 124h1M612 125h1M612 127h1M612 128h1M612 131h1M612 132h1M612 133h1M612 134h1M612 135h1M612 136h1M612 138h1M612 140h1M612 142h1M612 143h1M612 144h1M612 145h1M612 149h1M612 150h1M612 151h1M612 154h1M612 155h1M612 161h1M612 162h1M612 163h1M612 164h1M612 165h1M612 169h1M612 170h1M612 172h1M612 173h1M612 174h1M612 175h1M612 178h1M612 180h1M612 181h1M612 183h1M612 184h1M612 187h1M612 190h1M612 191h1M613 87h1M613 91h1M613 92h1M613 93h1M613 94h1M613 95h1M613 96h1M613 97h1M613 99h1M613 100h1M613 105h1M613 106h1M613 119h1M613 121h1M613 122h1M613 126h1M613 138h1M613 143h1M613 145h1M613 146h1M613 148h1M613 150h1M613 152h1M613 155h1M613 164h1M613 166h1M613 169h1M613 170h1M613 171h1M613 172h1M613 174h1M613 176h1M613 177h1M613 181h1M613 183h1M613 184h1M613 186h1M613 188h1M613 189h1M613 194h1M613 212h1M614 88h1M614 89h1M614 90h1M614 91h1M614 92h1M614 95h1M614 96h1M614 97h1M614 98h1M614 99h1M614 101h1M614 102h1M614 103h1M614 104h1M614 105h1M614 106h1M614 110h1M614 112h1M614 117h1M614 118h1M614 121h1M614 123h1M614 128h1M614 129h1M614 131h1M614 133h1M614 134h1M614 135h1M614 136h1M614 137h1M614 145h1M614 146h1M614 150h1M614 155h1M614 158h1M614 163h1M614 164h1M614 165h1M614 169h1M614 173h1M614 174h1M614 175h1M614 178h1M614 179h1M614 181h1M614 185h1M614 186h1M614 191h1M614 193h1M614 210h1M615 86h1M615 88h1M615 89h1M615 90h1M615 91h1M615 92h1M615 93h1M615 94h1M615 95h1M615 96h1M615 98h1M615 99h1M615 100h1M615 101h1M615 102h1M615 103h1M615 104h1M615 105h1M615 106h1M615 107h1M615 108h1M615 113h1M615 120h1M615 121h1M615 122h1M615 123h1M615 126h1M615 131h1M615 135h1M615 136h1M615 138h1M615 142h1M615 144h1M615 145h1M615 146h1M615 149h1M615 151h1M615 152h1M615 154h1M615 155h1M615 157h1M615 158h1M615 160h1M615 161h1M615 162h1M615 163h1M615 165h1M615 166h1M615 168h1M615 169h1M615 170h1M615 174h1M615 175h1M615 176h1M615 177h1M615 180h1M615 184h1M615 189h1M615 190h1M615 191h1M615 192h1M615 193h1M615 195h1M615 196h1M615 198h1M615 202h1M615 209h1M615 214h1M616 78h1M616 85h1M616 88h1M616 89h1M616 90h1M616 91h1M616 92h1M616 93h1M616 94h1M616 95h1M616 97h1M616 100h1M616 101h1M616 103h1M616 105h1M616 106h1M616 107h1M616 108h1M616 109h1M616 112h1M616 114h1M616 116h1M616 117h1M616 122h1M616 123h1M616 124h1M616 125h1M616 129h1M616 130h1M616 132h1M616 137h1M616 138h1M616 142h1M616 144h1M616 148h1M616 150h1M616 151h1M616 155h1M616 158h1M616 159h1M616 160h1M616 170h1M616 172h1M616 181h1M616 192h1M616 193h1M616 194h1M616 196h1M616 198h1M616 206h1M616 211h1M617 83h1M617 87h1M617 88h1M617 90h1M617 91h1M617 92h1M617 93h1M617 94h1M617 95h1M617 96h1M617 98h1M617 99h1M617 100h1M617 101h1M617 102h1M617 104h1M617 105h1M617 111h1M617 112h1M617 114h1M617 119h1M617 121h1M617 127h1M617 129h1M617 130h1M617 132h1M617 133h1M617 138h1M617 140h1M617 143h1M617 144h1M617 145h1M617 146h1M617 147h1M617 150h1M617 153h1M617 157h1M617 159h1M617 160h1M617 164h1M617 165h1M617 166h1M617 172h1M617 173h1M617 175h1M617 178h1M617 180h1M617 183h1M617 184h1M617 189h1M617 190h1M617 191h1M617 192h1M617 193h1M617 194h1M617 196h1M617 197h1M617 201h1M618 74h1M618 87h1M618 88h1M618 90h1M618 91h1M618 92h1M618 93h1M618 94h1M618 95h1M618 96h1M618 97h1M618 99h1M618 100h1M618 102h1M618 107h1M618 109h1M618 115h1M618 116h1M618 117h1M618 118h1M618 119h1M618 120h1M618 121h1M618 122h1M618 131h1M618 133h1M618 134h1M618 137h1M618 138h1M618 145h1M618 146h1M618 147h1M618 149h1M618 151h1M618 152h1M618 154h1M618 159h1M618 160h1M618 161h1M618 163h1M618 164h1M618 165h1M618 166h1M618 168h1M618 169h1M618 170h1M618 175h1M618 176h1M618 180h1M618 185h1M618 187h1M618 191h1M618 194h1M618 196h1M618 203h1M618 214h1M619 85h1M619 86h1M619 87h1M619 88h1M619 89h1M619 91h1M619 92h1M619 93h1M619 94h1M619 96h1M619 97h1M619 98h1M619 99h1M619 101h1M619 102h1M619 104h1M619 106h1M619 107h1M619 108h1M619 109h1M619 114h1M619 117h1M619 118h1M619 122h1M619 125h1M619 128h1M619 131h1M619 133h1M619 134h1M619 135h1M619 137h1M619 139h1M619 140h1M619 141h1M619 142h1M619 143h1M619 147h1M619 150h1M619 154h1M619 155h1M619 156h1M619 157h1M619 158h1M619 161h1M619 163h1M619 166h1M619 171h1M619 173h1M619 178h1M619 179h1M619 182h1M619 185h1M619 186h1M619 188h1M619 190h1M619 195h1M619 208h1M619 213h1M619 214h1M620 82h1M620 84h1M620 85h1M620 86h1M620 89h1M620 91h1M620 92h1M620 93h1M620 94h1M620 95h1M620 96h1M620 97h1M620 98h1M620 99h1M620 100h1M620 101h1M620 102h1M620 105h1M620 106h1M620 107h1M620 108h1M620 109h1M620 112h1M620 114h1M620 120h1M620 121h1M620 122h1M620 127h1M620 128h1M620 131h1M620 132h1M620 134h1M620 139h1M620 141h1M620 144h1M620 145h1M620 146h1M620 147h1M620 151h1M620 156h1M620 159h1M620 163h1M620 166h1M620 170h1M620 171h1M620 172h1M620 173h1M620 175h1M620 176h1M620 177h1M620 178h1M620 180h1M620 182h1M620 184h1M620 185h1M620 187h1M620 188h1M620 189h1M620 190h1M620 192h1M620 193h1M620 197h1M620 211h1M621 80h1M621 85h1M621 86h1M621 87h1M621 88h1M621 90h1M621 91h1M621 92h1M621 93h1M621 94h1M621 95h1M621 96h1M621 97h1M621 98h1M621 99h1M621 100h1M621 101h1M621 103h1M621 104h1M621 106h1M621 108h1M621 112h1M621 114h1M621 115h1M621 120h1M621 123h1M621 124h1M621 127h1M621 129h1M621 131h1M621 134h1M621 138h1M621 139h1M621 140h1M621 144h1M621 145h1M621 146h1M621 148h1M621 149h1M621 150h1M621 152h1M621 154h1M621 156h1M621 159h1M621 160h1M621 161h1M621 162h1M621 165h1M621 166h1M621 170h1M621 172h1M621 173h1M621 177h1M621 181h1M621 183h1M621 184h1M621 186h1M621 196h1M621 197h1M621 200h1M621 201h1M621 204h1M621 208h1M622 77h1M622 78h1M622 80h1M622 81h1M622 82h1M622 83h1M622 86h1M622 89h1M622 92h1M622 93h1M622 94h1M622 96h1M622 97h1M622 98h1M622 102h1M622 104h1M622 106h1M622 107h1M622 108h1M622 110h1M622 111h1M622 114h1M622 118h1M622 121h1M622 123h1M622 124h1M622 126h1M622 127h1M622 129h1M622 130h1M622 133h1M622 135h1M622 136h1M622 137h1M622 138h1M622 139h1M622 145h1M622 151h1M622 155h1M622 163h1M622 165h1M622 167h1M622 168h1M622 170h1M622 172h1M622 173h1M622 176h1M622 178h1M622 179h1M622 180h1M622 192h1M622 194h1M622 196h1M622 197h1M622 201h1M622 202h1M622 212h1M623 78h1M623 80h1M623 83h1M623 85h1M623 86h1M623 87h1M623 88h1M623 89h1M623 90h1M623 92h1M623 93h1M623 94h1M623 95h1M623 96h1M623 98h1M623 100h1M623 101h1M623 106h1M623 107h1M623 108h1M623 111h1M623 122h1M623 126h1M623 127h1M623 128h1M623 130h1M623 137h1M623 139h1M623 140h1M623 144h1M623 145h1M623 156h1M623 162h1M623 164h1M623 165h1M623 166h1M623 168h1M623 172h1M623 177h1M623 179h1M623 180h1M623 183h1M623 184h1M623 185h1M623 186h1M623 187h1M623 188h1M623 189h1M623 191h1M623 193h1M623 196h1M623 198h1M623 200h1M624 78h1M624 82h1M624 84h1M624 85h1M624 86h1M624 87h1M624 88h1M624 90h1M624 91h1M624 92h1M624 93h1M624 94h1M624 96h1M624 97h1M624 99h1M624 102h1M624 103h1M624 104h1M624 105h1M624 107h1M624 109h1M624 110h1M624 113h1M624 115h1M624 118h1M624 120h1M624 123h1M624 124h1M624 126h1M624 127h1M624 129h1M624 132h1M624 133h1M624 135h1M624 137h1M624 139h1M624 142h1M624 143h1M624 144h1M624 148h1M624 152h1M624 155h1M624 156h1M624 161h1M624 163h1M624 165h1M624 166h1M624 167h1M624 169h1M624 170h1M624 174h1M624 177h1M624 178h1M624 180h1M624 183h1M624 184h1M624 186h1M624 189h1M624 190h1M624 192h1M624 195h1M624 197h1M624 198h1M624 203h1M624 212h1M624 213h1M625 70h1M625 83h1M625 87h1M625 88h1M625 89h1M625 90h1M625 98h1M625 100h1M625 101h1M625 103h1M625 105h1M625 106h1M625 114h1M625 116h1M625 119h1M625 125h1M625 133h1M625 134h1M625 135h1M625 138h1M625 139h1M625 141h1M625 146h1M625 153h1M625 158h1M625 160h1M625 161h1M625 165h1M625 173h1M625 176h1M625 178h1M625 179h1M625 180h1M625 181h1M625 182h1M625 186h1M625 187h1M625 188h1M625 193h1M625 194h1M625 195h1M625 198h1M625 202h1M625 204h1M625 207h1M625 211h1M625 212h1M626 73h1M626 74h1M626 75h1M626 77h1M626 78h1M626 81h1M626 84h1M626 89h1M626 90h1M626 91h1M626 92h1M626 95h1M626 96h1M626 100h1M626 101h1M626 103h1M626 104h1M626 106h1M626 109h1M626 110h1M626 111h1M626 112h1M626 113h1M626 114h1M626 115h1M626 116h1M626 118h1M626 120h1M626 123h1M626 125h1M626 126h1M626 127h1M626 128h1M626 130h1M626 131h1M626 132h1M626 135h1M626 138h1M626 139h1M626 140h1M626 141h1M626 143h1M626 146h1M626 149h1M626 152h1M626 153h1M626 154h1M626 155h1M626 156h1M626 159h1M626 161h1M626 163h1M626 166h1M626 167h1M626 172h1M626 173h1M626 176h1M626 179h1M626 183h1M626 185h1M626 187h1M626 193h1M626 196h1M626 198h1M626 202h1M626 204h1M626 205h1M626 208h1M626 209h1M627 65h1M627 69h1M627 80h1M627 81h1M627 83h1M627 84h1M627 86h1M627 90h1M627 92h1M627 94h1M627 97h1M627 99h1M627 102h1M627 104h1M627 107h1M627 108h1M627 109h1M627 110h1M627 117h1M627 125h1M627 127h1M627 128h1M627 131h1M627 132h1M627 134h1M627 135h1M627 136h1M627 139h1M627 142h1M627 152h1M627 155h1M627 156h1M627 157h1M627 158h1M627 159h1M627 160h1M627 162h1M627 166h1M627 167h1M627 168h1M627 169h1M627 170h1M627 171h1M627 174h1M627 175h1M627 176h1M627 178h1M627 180h1M627 182h1M627 183h1M627 184h1M627 186h1M627 188h1M627 189h1M627 192h1M627 193h1M627 194h1M627 195h1M627 201h1M627 202h1M627 204h1M627 206h1M628 81h1M628 85h1M628 86h1M628 88h1M628 90h1M628 92h1M628 95h1M628 98h1M628 100h1M628 104h1M628 108h1M628 110h1M628 111h1M628 112h1M628 113h1M628 115h1M628 120h1M628 125h1M628 128h1M628 131h1M628 132h1M628 134h1M628 135h1M628 138h1M628 139h1M628 140h1M628 145h1M628 146h1M628 147h1M628 149h1M628 153h1M628 158h1M628 160h1M628 162h1M628 163h1M628 164h1M628 166h1M628 167h1M628 173h1M628 174h1M628 175h1M628 177h1M628 178h1M628 179h1M628 181h1M628 183h1M628 185h1M628 187h1M628 188h1M628 189h1M628 191h1M628 192h1M628 195h1M628 196h1M628 197h1M628 200h1M628 205h1M628 209h1M628 210h1M628 214h1M629 72h1M629 74h1M629 77h1M629 78h1M629 79h1M629 80h1M629 81h1M629 83h1M629 89h1M629 90h1M629 92h1M629 93h1M629 94h1M629 96h1M629 97h1M629 99h1M629 103h1M629 104h1M629 105h1M629 108h1M629 109h1M629 114h1M629 115h1M629 116h1M629 117h1M629 121h1M629 122h1M629 123h1M629 124h1M629 127h1M629 128h1M629 129h1M629 131h1M629 132h1M629 134h1M629 135h1M629 136h1M629 143h1M629 145h1M629 148h1M629 151h1M629 153h1M629 155h1M629 156h1M629 157h1M629 161h1M629 162h1M629 164h1M629 165h1M629 166h1M629 172h1M629 178h1M629 179h1M629 181h1M629 183h1M629 186h1M629 187h1M629 188h1M629 189h1M629 195h1M629 197h1M629 205h1M630 71h1M630 73h1M630 82h1M630 84h1M630 85h1M630 86h1M630 89h1M630 91h1M630 92h1M630 93h1M630 96h1M630 98h1M630 99h1M630 101h1M630 109h1M630 113h1M630 115h1M630 118h1M630 119h1M630 120h1M630 126h1M630 128h1M630 131h1M630 132h1M630 136h1M630 137h1M630 139h1M630 140h1M630 147h1M630 148h1M630 150h1M630 155h1M630 156h1M630 158h1M630 159h1M630 162h1M630 163h1M630 164h1M630 165h1M630 176h1M630 178h1M630 180h1M630 183h1M630 184h1M630 186h1M630 189h1M630 191h1M630 192h1M630 203h1M630 204h1M630 209h1M630 210h1M630 211h1M630 214h1M631 71h1M631 73h1M631 80h1M631 83h1M631 84h1M631 89h1M631 91h1M631 93h1M631 96h1M631 97h1M631 101h1M631 103h1M631 104h1M631 106h1M631 107h1M631 109h1M631 110h1M631 112h1M631 114h1M631 116h1M631 120h1M631 121h1M631 124h1M631 130h1M631 133h1M631 136h1M631 138h1M631 139h1M631 141h1M631 147h1M631 149h1M631 153h1M631 156h1M631 158h1M631 159h1M631 161h1M631 162h1M631 163h1M631 165h1M631 172h1M631 174h1M631 175h1M631 180h1M631 181h1M631 183h1M631 184h1M631 186h1M631 187h1M631 189h1M631 191h1M631 194h1M631 195h1M631 198h1M631 199h1M631 200h1M631 202h1M631 204h1M631 206h1M631 209h1M632 66h1M632 69h1M632 71h1M632 79h1M632 81h1M632 82h1M632 85h1M632 89h1M632 90h1M632 92h1M632 95h1M632 96h1M632 98h1M632 100h1M632 102h1M632 103h1M632 104h1M632 109h1M632 110h1M632 111h1M632 112h1M632 122h1M632 123h1M632 126h1M632 129h1M632 132h1M632 133h1M632 134h1M632 140h1M632 142h1M632 145h1M632 146h1M632 147h1M632 148h1M632 150h1M632 151h1M632 152h1M632 154h1M632 156h1M632 157h1M632 158h1M632 159h1M632 160h1M632 161h1M632 165h1M632 166h1M632 168h1M632 172h1M632 175h1M632 184h1M632 187h1M632 188h1M632 189h1M632 192h1M632 193h1M632 196h1M632 197h1M632 198h1M632 204h1M632 206h1M632 208h1M632 209h1M633 66h1M633 69h1M633 70h1M633 74h1M633 77h1M633 80h1M633 82h1M633 93h1M633 102h1M633 104h1M633 105h1M633 106h1M633 108h1M633 109h1M633 112h1M633 115h1M633 116h1M633 120h1M633 121h1M633 123h1M633 124h1M633 129h1M633 132h1M633 133h1M633 136h1M633 140h1M633 141h1M633 143h1M633 147h1M633 148h1M633 149h1M633 151h1M633 153h1M633 154h1M633 156h1M633 160h1M633 162h1M633 163h1M633 164h1M633 165h1M633 169h1M633 170h1M633 171h1M633 173h1M633 174h1M633 177h1M633 179h1M633 180h1M633 181h1M633 183h1M633 185h1M633 186h1M633 187h1M633 190h1M633 193h1M633 194h1M633 195h1M633 202h1M633 211h1M633 214h1M634 61h1M634 65h1M634 76h1M634 78h1M634 81h1M634 82h1M634 85h1M634 88h1M634 89h1M634 93h1M634 95h1M634 97h1M634 106h1M634 109h1M634 110h1M634 113h1M634 114h1M634 115h1M634 116h1M634 118h1M634 122h1M634 132h1M634 133h1M634 134h1M634 135h1M634 136h1M634 137h1M634 142h1M634 143h1M634 145h1M634 152h1M634 161h1M634 163h1M634 164h1M634 171h1M634 173h1M634 180h1M634 183h1M634 184h1M634 189h1M634 193h1M634 194h1M634 196h1M634 205h1M634 206h1M634 207h1M634 208h1M634 212h1M634 213h1M635 66h1M635 69h1M635 72h1M635 74h1M635 75h1M635 77h1M635 78h1M635 79h1M635 85h1M635 97h1M635 101h1M635 102h1M635 105h1M635 108h1M635 110h1M635 111h1M635 116h1M635 117h1M635 118h1M635 120h1M635 122h1M635 123h1M635 127h1M635 129h1M635 130h1M635 131h1M635 132h1M635 134h1M635 135h1M635 136h1M635 137h1M635 138h1M635 143h1M635 144h1M635 145h1M635 147h1M635 148h1M635 150h1M635 153h1M635 158h1M635 162h1M635 166h1M635 167h1M635 170h1M635 173h1M635 174h1M635 175h1M635 176h1M635 180h1M635 182h1M635 183h1M635 186h1M635 187h1M635 190h1M635 193h1M635 197h1M635 204h1M635 205h1M635 211h1M635 214h1M636 60h1M636 62h1M636 63h1M636 64h1M636 72h1M636 75h1M636 77h1M636 80h1M636 83h1M636 84h1M636 86h1M636 88h1M636 91h1M636 92h1M636 93h1M636 94h1M636 97h1M636 99h1M636 100h1M636 103h1M636 106h1M636 107h1M636 109h1M636 110h1M636 111h1M636 115h1M636 118h1M636 119h1M636 120h1M636 121h1M636 123h1M636 128h1M636 130h1M636 131h1M636 132h1M636 133h1M636 135h1M636 138h1M636 139h1M636 141h1M636 142h1M636 149h1M636 151h1M636 158h1M636 159h1M636 161h1M636 164h1M636 165h1M636 168h1M636 170h1M636 171h1M636 175h1M636 177h1M636 179h1M636 181h1M636 184h1M636 185h1M636 191h1M636 192h1M636 193h1M636 194h1M636 196h1M636 197h1M636 198h1M636 202h1M636 209h1M636 213h1M637 65h1M637 74h1M637 76h1M637 79h1M637 81h1M637 87h1M637 90h1M637 92h1M637 94h1M637 95h1M637 100h1M637 103h1M637 105h1M637 111h1M637 112h1M637 115h1M637 120h1M637 126h1M637 127h1M637 130h1M637 131h1M637 134h1M637 138h1M637 140h1M637 141h1M637 145h1M637 148h1M637 149h1M637 151h1M637 152h1M637 153h1M637 154h1M637 157h1M637 158h1M637 160h1M637 161h1M637 163h1M637 165h1M637 168h1M637 169h1M637 174h1M637 175h1M637 178h1M637 179h1M637 180h1M637 182h1M637 183h1M637 184h1M637 188h1M637 189h1M637 190h1M637 193h1M637 194h1M637 198h1M637 199h1M637 203h1M637 209h1M637 212h1M638 67h1M638 72h1M638 73h1M638 75h1M638 76h1M638 77h1M638 79h1M638 80h1M638 81h1M638 83h1M638 87h1M638 89h1M638 92h1M638 95h1M638 96h1M638 102h1M638 104h1M638 107h1M638 109h1M638 113h1M638 116h1M638 119h1M638 122h1M638 123h1M638 126h1M638 128h1M638 129h1M638 132h1M638 134h1M638 135h1M638 144h1M638 145h1M638 151h1M638 153h1M638 154h1M638 156h1M638 158h1M638 160h1M638 161h1M638 164h1M638 166h1M638 167h1M638 168h1M638 169h1M638 172h1M638 175h1M638 179h1M638 181h1M638 182h1M638 185h1M638 192h1M638 193h1M638 194h1M638 195h1M638 197h1M638 200h1M638 201h1M638 203h1M638 213h1M639 59h1M639 65h1M639 69h1M639 70h1M639 71h1M639 74h1M639 75h1M639 76h1M639 77h1M639 80h1M639 81h1M639 82h1M639 83h1M639 86h1M639 88h1M639 90h1M639 91h1M639 93h1M639 99h1M639 102h1M639 105h1M639 107h1M639 111h1M639 113h1M639 114h1M639 118h1M639 120h1M639 122h1M639 124h1M639 126h1M639 127h1M639 128h1M639 133h1M639 138h1M639 143h1M639 145h1M639 146h1M639 147h1M639 148h1M639 150h1M639 151h1M639 156h1M639 162h1M639 164h1M639 165h1M639 168h1M639 169h1M639 176h1M639 180h1M639 181h1M639 182h1M639 183h1M639 189h1M639 190h1M639 192h1M639 193h1M639 200h1M639 202h1M639 211h1M640 57h1M640 64h1M640 70h1M640 74h1M640 79h1M640 81h1M640 82h1M640 87h1M640 88h1M640 89h1M640 92h1M640 96h1M640 97h1M640 98h1M640 99h1M640 100h1M640 101h1M640 104h1M640 107h1M640 110h1M640 111h1M640 112h1M640 113h1M640 120h1M640 121h1M640 128h1M640 129h1M640 138h1M640 139h1M640 140h1M640 142h1M640 145h1M640 152h1M640 154h1M640 158h1M640 160h1M640 161h1M640 162h1M640 163h1M640 170h1M640 172h1M640 175h1M640 178h1M640 179h1M640 180h1M640 181h1M640 184h1M640 187h1M640 188h1M640 191h1M640 194h1M640 195h1M640 198h1M640 205h1M640 209h1M640 213h1M641 59h1M641 65h1M641 66h1M641 71h1M641 74h1M641 77h1M641 80h1M641 81h1M641 87h1M641 88h1M641 90h1M641 93h1M641 94h1M641 96h1M641 97h1M641 99h1M641 102h1M641 104h1M641 105h1M641 109h1M641 112h1M641 113h1M641 115h1M641 117h1M641 118h1M641 119h1M641 121h1M641 122h1M641 123h1M641 124h1M641 127h1M641 128h1M641 129h1M641 130h1M641 134h1M641 135h1M641 136h1M641 139h1M641 142h1M641 143h1M641 144h1M641 145h1M641 146h1M641 147h1M641 149h1M641 155h1M641 160h1M641 166h1M641 167h1M641 168h1M641 169h1M641 170h1M641 172h1M641 175h1M641 179h1M641 181h1M641 182h1M641 186h1M641 189h1M641 190h1M641 193h1M641 195h1M641 198h1M641 200h1M641 208h1M641 214h1M642 69h1M642 70h1M642 71h1M642 74h1M642 82h1M642 85h1M642 90h1M642 96h1M642 97h1M642 99h1M642 101h1M642 102h1M642 104h1M642 106h1M642 110h1M642 112h1M642 114h1M642 115h1M642 119h1M642 121h1M642 124h1M642 125h1M642 126h1M642 130h1M642 132h1M642 133h1M642 138h1M642 142h1M642 146h1M642 149h1M642 152h1M642 154h1M642 155h1M642 156h1M642 158h1M642 159h1M642 161h1M642 162h1M642 163h1M642 165h1M642 166h1M642 169h1M642 172h1M642 173h1M642 174h1M642 176h1M642 182h1M642 183h1M642 184h1M642 187h1M642 189h1M642 191h1M642 192h1M642 193h1M642 196h1M642 198h1M642 204h1M642 206h1M642 211h1M643 57h1M643 59h1M643 68h1M643 70h1M643 75h1M643 78h1M643 79h1M643 80h1M643 81h1M643 84h1M643 85h1M643 89h1M643 92h1M643 95h1M643 96h1M643 99h1M643 101h1M643 106h1M643 107h1M643 110h1M643 111h1M643 112h1M643 116h1M643 117h1M643 120h1M643 126h1M643 129h1M643 136h1M643 137h1M643 139h1M643 141h1M643 143h1M643 144h1M643 145h1M643 147h1M643 150h1M643 154h1M643 155h1M643 156h1M643 158h1M643 161h1M643 166h1M643 167h1M643 168h1M643 169h1M643 170h1M643 173h1M643 175h1M643 176h1M643 178h1M643 179h1M643 180h1M643 182h1M643 183h1M643 185h1M643 186h1M643 187h1M643 190h1M643 192h1M643 196h1M643 197h1M643 198h1M643 199h1M643 204h1M643 205h1M643 211h1M643 212h1M644 54h1M644 55h1M644 69h1M644 73h1M644 75h1M644 76h1M644 77h1M644 78h1M644 80h1M644 81h1M644 82h1M644 83h1M644 84h1M644 85h1M644 88h1M644 100h1M644 101h1M644 104h1M644 107h1M644 110h1M644 115h1M644 116h1M644 117h1M644 118h1M644 119h1M644 121h1M644 123h1M644 126h1M644 131h1M644 132h1M644 133h1M644 135h1M644 136h1M644 138h1M644 140h1M644 142h1M644 143h1M644 144h1M644 146h1M644 151h1M644 154h1M644 155h1M644 158h1M644 160h1M644 162h1M644 164h1M644 165h1M644 166h1M644 168h1M644 171h1M644 175h1M644 177h1M644 178h1M644 183h1M644 185h1M644 189h1M644 191h1M644 192h1M644 195h1M644 196h1M644 205h1M644 207h1M644 211h1M644 213h1M644 214h1M645 53h1M645 57h1M645 58h1M645 62h1M645 66h1M645 69h1M645 70h1M645 71h1M645 73h1M645 77h1M645 78h1M645 79h1M645 83h1M645 85h1M645 86h1M645 87h1M645 88h1M645 90h1M645 91h1M645 92h1M645 94h1M645 96h1M645 98h1M645 99h1M645 102h1M645 105h1M645 106h1M645 108h1M645 109h1M645 111h1M645 113h1M645 116h1M645 118h1M645 119h1M645 123h1M645 124h1M645 125h1M645 127h1M645 128h1M645 129h1M645 130h1M645 132h1M645 134h1M645 135h1M645 137h1M645 139h1M645 141h1M645 144h1M645 145h1M645 146h1M645 147h1M645 148h1M645 149h1M645 156h1M645 158h1M645 164h1M645 167h1M645 168h1M645 169h1M645 175h1M645 178h1M645 180h1M645 182h1M645 187h1M645 193h1M645 194h1M645 195h1M645 198h1M645 204h1M645 207h1M645 208h1M645 213h1M646 52h1M646 66h1M646 67h1M646 69h1M646 73h1M646 74h1M646 75h1M646 79h1M646 81h1M646 82h1M646 84h1M646 85h1M646 86h1M646 95h1M646 96h1M646 98h1M646 100h1M646 101h1M646 107h1M646 111h1M646 114h1M646 115h1M646 116h1M646 119h1M646 121h1M646 123h1M646 124h1M646 125h1M646 126h1M646 128h1M646 129h1M646 132h1M646 133h1M646 134h1M646 136h1M646 137h1M646 139h1M646 141h1M646 142h1M646 143h1M646 146h1M646 147h1M646 148h1M646 153h1M646 154h1M646 157h1M646 159h1M646 160h1M646 161h1M646 163h1M646 164h1M646 165h1M646 172h1M646 175h1M646 176h1M646 178h1M646 179h1M646 180h1M646 188h1M646 191h1M646 193h1M646 196h1M646 197h1M646 199h1M646 200h1M646 214h1M647 57h1M647 58h1M647 59h1M647 65h1M647 66h1M647 67h1M647 72h1M647 73h1M647 76h1M647 77h1M647 80h1M647 81h1M647 82h1M647 88h1M647 90h1M647 92h1M647 94h1M647 96h1M647 101h1M647 102h1M647 104h1M647 108h1M647 109h1M647 110h1M647 111h1M647 112h1M647 113h1M647 115h1M647 116h1M647 120h1M647 121h1M647 122h1M647 124h1M647 126h1M647 127h1M647 132h1M647 135h1M647 136h1M647 137h1M647 143h1M647 146h1M647 150h1M647 151h1M647 153h1M647 154h1M647 159h1M647 161h1M647 163h1M647 164h1M647 166h1M647 168h1M647 169h1M647 181h1M647 182h1M647 184h1M647 185h1M647 187h1M647 190h1M647 198h1M647 201h1M648 50h1M648 52h1M648 54h1M648 57h1M648 58h1M648 62h1M648 66h1M648 68h1M648 69h1M648 72h1M648 76h1M648 80h1M648 86h1M648 87h1M648 88h1M648 89h1M648 96h1M648 102h1M648 103h1M648 105h1M648 106h1M648 113h1M648 115h1M648 117h1M648 118h1M648 120h1M648 123h1M648 127h1M648 131h1M648 132h1M648 134h1M648 136h1M648 137h1M648 142h1M648 144h1M648 145h1M648 146h1M648 147h1M648 153h1M648 154h1M648 156h1M648 158h1M648 161h1M648 162h1M648 165h1M648 166h1M648 168h1M648 169h1M648 171h1M648 173h1M648 174h1M648 176h1M648 181h1M648 182h1M648 185h1M648 187h1M648 189h1M648 191h1M648 192h1M648 193h1M648 194h1M648 195h1M648 196h1M648 198h1M649 56h1M649 61h1M649 64h1M649 65h1M649 66h1M649 68h1M649 70h1M649 71h1M649 73h1M649 78h1M649 80h1M649 81h1M649 82h1M649 83h1M649 84h1M649 85h1M649 91h1M649 94h1M649 96h1M649 98h1M649 99h1M649 101h1M649 103h1M649 111h1M649 112h1M649 114h1M649 122h1M649 125h1M649 128h1M649 129h1M649 134h1M649 136h1M649 137h1M649 138h1M649 142h1M649 143h1M649 144h1M649 149h1M649 158h1M649 161h1M649 162h1M649 163h1M649 168h1M649 171h1M649 172h1M649 173h1M649 175h1M649 176h1M649 177h1M649 179h1M649 180h1M649 183h1M649 184h1M649 187h1M649 188h1M649 191h1M649 192h1M649 195h1M649 198h1M649 203h1M649 204h1M649 213h1M650 51h1M650 52h1M650 53h1M650 56h1M650 58h1M650 61h1M650 62h1M650 63h1M650 66h1M650 70h1M650 71h1M650 74h1M650 75h1M650 77h1M650 83h1M650 84h1M650 91h1M650 93h1M650 95h1M650 98h1M650 100h1M650 101h1M650 104h1M650 105h1M650 110h1M650 112h1M650 113h1M650 116h1M650 117h1M650 118h1M650 119h1M650 120h1M650 121h1M650 122h1M650 123h1M650 124h1M650 126h1M650 127h1M650 128h1M650 130h1M650 132h1M650 134h1M650 139h1M650 141h1M650 143h1M650 145h1M650 147h1M650 148h1M650 149h1M650 150h1M650 151h1M650 152h1M650 159h1M650 160h1M650 161h1M650 163h1M650 167h1M650 168h1M650 169h1M650 177h1M650 179h1M650 180h1M650 181h1M650 182h1M650 183h1M650 184h1M650 185h1M650 186h1M650 188h1M650 189h1M650 190h1M650 193h1M650 195h1M650 197h1M650 198h1M650 206h1M650 210h1M650 212h1M650 213h1M651 49h1M651 57h1M651 62h1M651 63h1M651 64h1M651 68h1M651 69h1M651 70h1M651 71h1M651 73h1M651 74h1M651 77h1M651 79h1M651 81h1M651 85h1M651 91h1M651 92h1M651 95h1M651 97h1M651 98h1M651 102h1M651 103h1M651 104h1M651 105h1M651 107h1M651 108h1M651 109h1M651 111h1M651 112h1M651 113h1M651 115h1M651 116h1M651 119h1M651 122h1M651 123h1M651 124h1M651 125h1M651 129h1M651 131h1M651 132h1M651 138h1M651 140h1M651 143h1M651 144h1M651 146h1M651 147h1M651 149h1M651 150h1M651 151h1M651 152h1M651 154h1M651 155h1M651 159h1M651 160h1M651 171h1M651 172h1M651 174h1M651 175h1M651 177h1M651 180h1M651 183h1M651 184h1M651 185h1M651 188h1M651 192h1M651 197h1M651 198h1M651 205h1M651 209h1M651 211h1M651 214h1M652 48h1M652 56h1M652 62h1M652 64h1M652 74h1M652 75h1M652 76h1M652 77h1M652 78h1M652 79h1M652 81h1M652 83h1M652 84h1M652 85h1M652 86h1M652 89h1M652 91h1M652 92h1M652 97h1M652 98h1M652 103h1M652 104h1M652 105h1M652 106h1M652 107h1M652 111h1M652 112h1M652 113h1M652 115h1M652 118h1M652 119h1M652 124h1M652 125h1M652 126h1M652 127h1M652 130h1M652 131h1M652 133h1M652 135h1M652 139h1M652 140h1M652 141h1M652 142h1M652 148h1M652 150h1M652 151h1M652 153h1M652 154h1M652 157h1M652 159h1M652 160h1M652 166h1M652 167h1M652 168h1M652 170h1M652 172h1M652 173h1M652 180h1M652 181h1M652 183h1M652 186h1M652 187h1M652 189h1M652 191h1M652 192h1M652 194h1M652 197h1M652 198h1M652 204h1M652 205h1M652 208h1M652 214h1M653 49h1M653 55h1M653 58h1M653 63h1M653 64h1M653 65h1M653 66h1M653 67h1M653 75h1M653 76h1M653 77h1M653 78h1M653 80h1M653 82h1M653 83h1M653 85h1M653 89h1M653 90h1M653 94h1M653 100h1M653 101h1M653 102h1M653 106h1M653 109h1M653 111h1M653 113h1M653 119h1M653 124h1M653 125h1M653 127h1M653 128h1M653 129h1M653 130h1M653 131h1M653 132h1M653 134h1M653 136h1M653 139h1M653 141h1M653 144h1M653 147h1M653 148h1M653 152h1M653 157h1M653 159h1M653 161h1M653 162h1M653 166h1M653 168h1M653 169h1M653 171h1M653 173h1M653 174h1M653 175h1M653 180h1M653 182h1M653 183h1M653 184h1M653 187h1M653 191h1M653 192h1M653 193h1M653 200h1M653 202h1M653 205h1M653 206h1M653 214h1M654 46h1M654 52h1M654 54h1M654 59h1M654 61h1M654 67h1M654 70h1M654 72h1M654 74h1M654 75h1M654 78h1M654 85h1M654 88h1M654 90h1M654 92h1M654 93h1M654 94h1M654 96h1M654 97h1M654 101h1M654 103h1M654 107h1M654 108h1M654 110h1M654 113h1M654 114h1M654 115h1M654 121h1M654 131h1M654 135h1M654 138h1M654 139h1M654 140h1M654 141h1M654 142h1M654 151h1M654 153h1M654 154h1M654 155h1M654 156h1M654 159h1M654 161h1M654 163h1M654 170h1M654 174h1M654 176h1M654 180h1M654 182h1M654 187h1M654 188h1M654 192h1M654 194h1M654 197h1M654 205h1M654 207h1M654 212h1M419 213h1M419 214h1M420 212h1M420 213h1M420 214h1M421 211h1M421 212h1M421 213h1M422 210h1M422 212h1M422 213h1M423 209h1M423 210h1M423 211h1M423 212h1M424 209h1M424 210h1M424 211h1M424 212h1M425 208h1M425 209h1M425 210h1M425 212h1M426 208h1M426 209h1M426 210h1M426 211h1M426 212h1M427 207h1M427 208h1M427 209h1M428 205h1M428 207h1M428 208h1M428 209h1M428 210h1M428 211h1M429 204h1M429 206h1M429 207h1M429 208h1M429 210h1M430 203h1M430 205h1M430 206h1M430 207h1M430 208h1M431 203h1M431 205h1M431 206h1M431 207h1M431 209h1M432 203h1M432 204h1M432 205h1M432 206h1M432 207h1M433 201h1M433 204h1M433 205h1M433 206h1M434 204h1M434 205h1M434 206h1M434 208h1M435 200h1M435 202h1M435 203h1M435 204h1M435 205h1M435 208h1M436 201h1M436 202h1M436 203h1M436 204h1M436 205h1M436 207h1M437 201h1M437 202h1M437 203h1M437 204h1M438 198h1M438 201h1M438 202h1M438 203h1M438 204h1M438 205h1M438 206h1M439 200h1M439 201h1M439 203h1M439 206h1M440 197h1M440 199h1M440 200h1M440 201h1M440 202h1M440 203h1M441 196h1M441 199h1M441 200h1M441 201h1M441 204h1M441 206h1M442 196h1M442 197h1M442 199h1M442 200h1M442 201h1M442 202h1M443 195h1M443 198h1M443 199h1M443 200h1M443 201h1M443 202h1M443 206h1M444 195h1M444 198h1M444 199h1M444 200h1M444 201h1M445 194h1M445 195h1M445 197h1M445 198h1M445 199h1M445 200h1M445 201h1M445 207h1M446 198h1M446 199h1M446 200h1M446 201h1M446 206h1M447 193h1M447 197h1M447 198h1M447 199h1M447 200h1M447 202h1M447 207h1M448 193h1M448 195h1M448 196h1M448 197h1M448 198h1M448 199h1M448 200h1M449 193h1M449 196h1M449 197h1M449 198h1M449 199h1M449 200h1M449 207h1M450 192h1M450 193h1M450 194h1M450 195h1M450 196h1M450 197h1M450 198h1M450 199h1M450 200h1M450 201h1M450 203h1M450 207h1M451 195h1M451 196h1M451 197h1M451 198h1M451 202h1M451 204h1M451 205h1M451 206h1M452 195h1M452 196h1M452 197h1M452 198h1M452 199h1M452 200h1M452 206h1M452 207h1M453 191h1M453 192h1M453 194h1M453 195h1M453 196h1M453 197h1M453 198h1M453 199h1M453 203h1M454 191h1M454 192h1M454 193h1M454 194h1M454 195h1M454 196h1M454 197h1M454 198h1M454 201h1M454 207h1M455 190h1M455 193h1M455 194h1M455 195h1M455 196h1M455 197h1M455 198h1M455 201h1M455 206h1M455 207h1M456 190h1M456 191h1M456 192h1M456 193h1M456 194h1M456 195h1M456 196h1M456 197h1M456 198h1M456 199h1M457 190h1M457 192h1M457 193h1M457 194h1M457 195h1M457 196h1M457 197h1M457 207h1M458 190h1M458 192h1M458 193h1M458 194h1M458 195h1M458 197h1M458 204h1M458 205h1M457 192h1M457 194h1M457 195h1M457 196h1M457 197h1M458 191h1M458 192h1M458 193h1M458 194h1M458 195h1M458 196h1M458 197h1M458 198h1M459 190h1M459 191h1M459 193h1M459 194h1M459 195h1M459 196h1M459 197h1M459 198h1M459 199h1M460 189h1M460 190h1M460 191h1M460 192h1M460 193h1M460 194h1M460 195h1M460 196h1M460 197h1M460 198h1M460 199h1M460 200h1M461 188h1M461 189h1M461 192h1M461 193h1M461 194h1M461 195h1M461 196h1M461 198h1M461 199h1M461 200h1M461 201h1M462 186h1M462 187h1M462 188h1M462 189h1M462 190h1M462 192h1M462 193h1M462 194h1M462 195h1M462 196h1M462 197h1M462 198h1M462 200h1M462 201h1M462 202h1M463 185h1M463 186h1M463 187h1M463 188h1M463 189h1M463 191h1M463 192h1M463 193h1M463 194h1M463 195h1M463 198h1M463 199h1M463 200h1M463 201h1M463 202h1M463 203h1M464 184h1M464 185h1M464 186h1M464 187h1M464 188h1M464 191h1M464 192h1M464 193h1M464 194h1M464 195h1M464 196h1M464 198h1M464 199h1M464 200h1M464 201h1M464 202h1M464 203h1M464 204h1M465 183h1M465 184h1M465 185h1M465 186h1M465 187h1M465 192h1M465 193h1M465 194h1M465 197h1M465 199h1M465 201h1M465 203h1M465 204h1M465 205h1M466 182h1M466 183h1M466 184h1M466 185h1M466 186h1M466 187h1M466 189h1M466 190h1M466 191h1M466 193h1M466 194h1M466 195h1M466 196h1M466 197h1M466 198h1M466 199h1M466 200h1M466 203h1M466 204h1M466 206h1M466 207h1M467 182h1M467 183h1M467 184h1M467 185h1M467 186h1M467 187h1M467 189h1M467 190h1M467 191h1M467 192h1M467 193h1M467 194h1M467 196h1M467 197h1M467 198h1M467 200h1M467 202h1M467 203h1M467 204h1M467 206h1M468 181h1M468 182h1M468 183h1M468 184h1M468 185h1M468 186h1M468 187h1M468 188h1M468 189h1M468 190h1M468 192h1M468 193h1M468 195h1M468 197h1M468 199h1M468 200h1M468 201h1M468 202h1M468 203h1M468 206h1M468 207h1M468 208h1M469 180h1M469 181h1M469 182h1M469 183h1M469 184h1M469 185h1M469 188h1M469 189h1M469 192h1M469 193h1M469 196h1M469 197h1M469 198h1M469 199h1M469 201h1M469 202h1M469 203h1M469 205h1M469 208h1M469 209h1M470 179h1M470 180h1M470 181h1M470 182h1M470 184h1M470 185h1M470 187h1M470 188h1M470 191h1M470 192h1M470 193h1M470 194h1M470 195h1M470 196h1M470 197h1M470 198h1M470 199h1M470 201h1M470 202h1M470 203h1M470 205h1M470 206h1M470 207h1M470 208h1M470 209h1M471 178h1M471 179h1M471 180h1M471 182h1M471 183h1M471 184h1M471 187h1M471 189h1M471 190h1M471 191h1M471 192h1M471 194h1M471 195h1M471 197h1M471 199h1M471 200h1M471 201h1M471 202h1M471 203h1M471 204h1M471 205h1M471 206h1M471 207h1M471 208h1M471 209h1M472 178h1M472 179h1M472 180h1M472 181h1M472 183h1M472 185h1M472 187h1M472 188h1M472 190h1M472 192h1M472 194h1M472 195h1M472 197h1M472 199h1M472 200h1M472 201h1M472 202h1M472 203h1M472 205h1M472 206h1M472 208h1M472 209h1M472 210h1M472 211h1M473 178h1M473 179h1M473 180h1M473 181h1M473 182h1M473 183h1M473 184h1M473 186h1M473 189h1M473 191h1M473 192h1M473 194h1M473 195h1M473 197h1M473 199h1M473 201h1M473 204h1M473 205h1M473 206h1M473 207h1M473 208h1M473 209h1M473 210h1M473 211h1M474 177h1M474 178h1M474 179h1M474 180h1M474 181h1M474 183h1M474 184h1M474 185h1M474 186h1M474 187h1M474 188h1M474 190h1M474 191h1M474 194h1M474 196h1M474 197h1M474 198h1M474 199h1M474 203h1M474 205h1M474 206h1M474 209h1M474 210h1M474 211h1M475 178h1M475 179h1M475 180h1M475 181h1M475 182h1M475 184h1M475 185h1M475 186h1M475 188h1M475 189h1M475 191h1M475 193h1M475 195h1M475 196h1M475 197h1M475 198h1M475 199h1M475 200h1M475 203h1M475 204h1M475 205h1M475 206h1M475 208h1M475 209h1M475 210h1M475 211h1M475 212h1M476 175h1M476 177h1M476 178h1M476 180h1M476 181h1M476 182h1M476 183h1M476 184h1M476 185h1M476 187h1M476 188h1M476 190h1M476 191h1M476 194h1M476 195h1M476 196h1M476 197h1M476 198h1M476 199h1M476 200h1M476 201h1M476 203h1M476 204h1M476 205h1M476 206h1M476 207h1M476 209h1M476 210h1M476 211h1M476 212h1M477 174h1M477 175h1M477 178h1M477 179h1M477 180h1M477 182h1M477 184h1M477 185h1M477 187h1M477 188h1M477 189h1M477 190h1M477 193h1M477 194h1M477 196h1M477 197h1M477 198h1M477 199h1M477 200h1M477 202h1M477 203h1M477 206h1M477 207h1M477 208h1M477 209h1M477 210h1M477 211h1M477 212h1M477 213h1M478 174h1M478 176h1M478 177h1M478 178h1M478 179h1M478 181h1M478 184h1M478 185h1M478 186h1M478 187h1M478 188h1M478 189h1M478 191h1M478 194h1M478 195h1M478 196h1M478 197h1M478 198h1M478 199h1M478 200h1M478 201h1M478 202h1M478 203h1M478 204h1M478 205h1M478 206h1M478 207h1M478 208h1M478 209h1M478 211h1M478 212h1M478 213h1M479 173h1M479 177h1M479 178h1M479 179h1M479 181h1M479 182h1M479 183h1M479 186h1M479 187h1M479 188h1M479 189h1M479 190h1M479 191h1M479 192h1M479 193h1M479 194h1M479 195h1M479 196h1M479 197h1M479 199h1M479 202h1M479 203h1M479 204h1M479 205h1M479 206h1M479 207h1M479 208h1M479 209h1M479 211h1M479 212h1M479 213h1M480 172h1M480 173h1M480 176h1M480 177h1M480 178h1M480 183h1M480 185h1M480 186h1M480 187h1M480 188h1M480 189h1M480 190h1M480 192h1M480 193h1M480 195h1M480 196h1M480 197h1M480 198h1M480 199h1M480 202h1M480 203h1M480 204h1M480 205h1M480 207h1M480 208h1M480 209h1M480 210h1M480 211h1M480 212h1M480 213h1M481 171h1M481 172h1M481 173h1M481 174h1M481 175h1M481 176h1M481 177h1M481 178h1M481 179h1M481 180h1M481 182h1M481 183h1M481 184h1M481 185h1M481 187h1M481 189h1M481 190h1M481 192h1M481 193h1M481 194h1M481 195h1M481 197h1M481 198h1M481 199h1M481 202h1M481 203h1M481 204h1M481 205h1M481 206h1M481 208h1M481 209h1M481 210h1M481 211h1M481 213h1M482 171h1M482 172h1M482 176h1M482 177h1M482 178h1M482 179h1M482 180h1M482 182h1M482 183h1M482 184h1M482 185h1M482 186h1M482 187h1M482 188h1M482 189h1M482 191h1M482 192h1M482 194h1M482 196h1M482 197h1M482 198h1M482 199h1M482 201h1M482 203h1M482 204h1M482 205h1M482 206h1M482 207h1M482 208h1M482 209h1M482 210h1M482 211h1M482 212h1M482 213h1M482 214h1M483 170h1M483 171h1M483 172h1M483 173h1M483 174h1M483 175h1M483 176h1M483 177h1M483 179h1M483 182h1M483 185h1M483 186h1M483 187h1M483 188h1M483 189h1M483 191h1M483 192h1M483 193h1M483 195h1M483 197h1M483 198h1M483 199h1M483 200h1M483 201h1M483 202h1M483 203h1M483 204h1M483 205h1M483 206h1M483 207h1M483 209h1M483 212h1M483 213h1M483 214h1M484 169h1M484 170h1M484 171h1M484 172h1M484 174h1M484 175h1M484 176h1M484 177h1M484 178h1M484 179h1M484 180h1M484 181h1M484 182h1M484 183h1M484 184h1M484 185h1M484 187h1M484 188h1M484 189h1M484 191h1M484 193h1M484 196h1M484 197h1M484 202h1M484 203h1M484 204h1M484 205h1M484 206h1M484 207h1M484 208h1M484 209h1M484 212h1M484 213h1M484 214h1M485 168h1M485 169h1M485 170h1M485 172h1M485 173h1M485 174h1M485 175h1M485 178h1M485 179h1M485 181h1M485 182h1M485 183h1M485 184h1M485 186h1M485 187h1M485 188h1M485 189h1M485 191h1M485 192h1M485 195h1M485 196h1M485 197h1M485 198h1M485 201h1M485 202h1M485 203h1M485 204h1M485 205h1M485 206h1M485 207h1M485 208h1M485 209h1M485 210h1M485 211h1M485 212h1M485 213h1M485 214h1M486 167h1M486 168h1M486 169h1M486 170h1M486 171h1M486 172h1M486 173h1M486 175h1M486 176h1M486 177h1M486 178h1M486 184h1M486 186h1M486 188h1M486 191h1M486 192h1M486 194h1M486 195h1M486 197h1M486 198h1M486 200h1M486 201h1M486 204h1M486 206h1M486 208h1M486 209h1M486 210h1M486 212h1M486 213h1M486 214h1M487 167h1M487 168h1M487 169h1M487 170h1M487 171h1M487 174h1M487 176h1M487 177h1M487 179h1M487 180h1M487 182h1M487 183h1M487 184h1M487 186h1M487 187h1M487 191h1M487 192h1M487 193h1M487 195h1M487 196h1M487 197h1M487 199h1M487 200h1M487 201h1M487 202h1M487 203h1M487 206h1M487 207h1M487 208h1M487 209h1M487 210h1M487 211h1M487 212h1M487 213h1M487 214h1M488 166h1M488 167h1M488 168h1M488 169h1M488 170h1M488 171h1M488 172h1M488 174h1M488 176h1M488 177h1M488 180h1M488 181h1M488 183h1M488 184h1M488 185h1M488 186h1M488 187h1M488 188h1M488 189h1M488 191h1M488 192h1M488 193h1M488 194h1M488 195h1M488 196h1M488 197h1M488 198h1M488 199h1M488 200h1M488 201h1M488 203h1M488 204h1M488 205h1M488 206h1M488 208h1M488 209h1M488 210h1M488 211h1M488 212h1M488 213h1M488 214h1M489 165h1M489 166h1M489 168h1M489 170h1M489 171h1M489 173h1M489 174h1M489 176h1M489 177h1M489 180h1M489 182h1M489 183h1M489 184h1M489 185h1M489 186h1M489 187h1M489 188h1M489 189h1M489 190h1M489 192h1M489 193h1M489 194h1M489 196h1M489 197h1M489 198h1M489 199h1M489 200h1M489 201h1M489 202h1M489 203h1M489 206h1M489 207h1M489 210h1M489 211h1M489 212h1M489 213h1M489 214h1M490 164h1M490 165h1M490 166h1M490 167h1M490 168h1M490 169h1M490 170h1M490 175h1M490 177h1M490 179h1M490 180h1M490 181h1M490 182h1M490 183h1M490 184h1M490 185h1M490 187h1M490 190h1M490 192h1M490 193h1M490 194h1M490 195h1M490 196h1M490 197h1M490 198h1M490 200h1M490 202h1M490 204h1M490 206h1M490 207h1M490 208h1M490 209h1M490 210h1M490 211h1M490 212h1M490 213h1M491 163h1M491 164h1M491 165h1M491 166h1M491 167h1M491 168h1M491 169h1M491 170h1M491 173h1M491 174h1M491 175h1M491 177h1M491 179h1M491 180h1M491 181h1M491 182h1M491 183h1M491 184h1M491 185h1M491 187h1M491 189h1M491 190h1M491 191h1M491 192h1M491 193h1M491 194h1M491 195h1M491 196h1M491 197h1M491 200h1M491 201h1M491 203h1M491 206h1M491 208h1M491 209h1M491 211h1M491 212h1M491 213h1M492 163h1M492 164h1M492 165h1M492 166h1M492 167h1M492 169h1M492 170h1M492 171h1M492 172h1M492 173h1M492 174h1M492 175h1M492 176h1M492 178h1M492 179h1M492 180h1M492 181h1M492 182h1M492 183h1M492 184h1M492 185h1M492 187h1M492 188h1M492 189h1M492 190h1M492 193h1M492 194h1M492 195h1M492 196h1M492 197h1M492 198h1M492 200h1M492 201h1M492 205h1M492 207h1M492 209h1M492 210h1M492 211h1M492 212h1M492 213h1M493 162h1M493 163h1M493 164h1M493 165h1M493 167h1M493 168h1M493 169h1M493 171h1M493 172h1M493 173h1M493 174h1M493 175h1M493 178h1M493 180h1M493 181h1M493 183h1M493 184h1M493 185h1M493 187h1M493 190h1M493 192h1M493 193h1M493 194h1M493 196h1M493 197h1M493 198h1M493 200h1M493 201h1M493 202h1M493 203h1M493 204h1M493 207h1M493 209h1M493 210h1M493 211h1M493 212h1M493 213h1M494 161h1M494 162h1M494 163h1M494 164h1M494 165h1M494 166h1M494 167h1M494 168h1M494 169h1M494 171h1M494 172h1M494 174h1M494 175h1M494 176h1M494 178h1M494 179h1M494 180h1M494 181h1M494 182h1M494 184h1M494 185h1M494 186h1M494 187h1M494 188h1M494 189h1M494 190h1M494 191h1M494 192h1M494 193h1M494 194h1M494 195h1M494 196h1M494 197h1M494 198h1M494 202h1M494 205h1M494 207h1M494 208h1M494 209h1M494 210h1M494 211h1M494 212h1M495 160h1M495 161h1M495 162h1M495 163h1M495 164h1M495 166h1M495 167h1M495 168h1M495 169h1M495 171h1M495 173h1M495 174h1M495 176h1M495 177h1M495 178h1M495 181h1M495 182h1M495 183h1M495 184h1M495 185h1M495 186h1M495 189h1M495 190h1M495 192h1M495 193h1M495 195h1M495 201h1M495 202h1M495 204h1M495 205h1M495 206h1M495 207h1M495 208h1M495 209h1M495 210h1M495 211h1M495 212h1M496 160h1M496 161h1M496 162h1M496 163h1M496 164h1M496 166h1M496 167h1M496 168h1M496 169h1M496 170h1M496 171h1M496 172h1M496 174h1M496 175h1M496 178h1M496 179h1M496 180h1M496 181h1M496 182h1M496 185h1M496 186h1M496 189h1M496 190h1M496 192h1M496 193h1M496 194h1M496 195h1M496 197h1M496 200h1M496 201h1M496 203h1M496 204h1M496 205h1M496 206h1M496 207h1M496 208h1M496 209h1M496 211h1M497 159h1M497 160h1M497 161h1M497 162h1M497 163h1M497 165h1M497 166h1M497 167h1M497 168h1M497 171h1M497 172h1M497 173h1M497 174h1M497 175h1M497 176h1M497 178h1M497 179h1M497 180h1M497 181h1M497 182h1M497 183h1M497 184h1M497 186h1M497 188h1M497 189h1M497 191h1M497 193h1M497 194h1M497 196h1M497 197h1M497 198h1M497 199h1M497 200h1M497 201h1M497 202h1M497 203h1M497 204h1M497 205h1M497 206h1M497 208h1M497 209h1M497 210h1M497 211h1M498 159h1M498 160h1M498 161h1M498 162h1M498 163h1M498 165h1M498 166h1M498 167h1M498 169h1M498 171h1M498 172h1M498 173h1M498 174h1M498 175h1M498 176h1M498 177h1M498 178h1M498 179h1M498 181h1M498 182h1M498 183h1M498 184h1M498 185h1M498 186h1M498 187h1M498 189h1M498 190h1M498 193h1M498 194h1M498 195h1M498 196h1M498 199h1M498 200h1M498 202h1M498 203h1M498 204h1M498 205h1M498 206h1M498 207h1M498 208h1M498 209h1M498 210h1M498 211h1M499 158h1M499 159h1M499 160h1M499 161h1M499 162h1M499 163h1M499 165h1M499 166h1M499 167h1M499 168h1M499 170h1M499 172h1M499 173h1M499 174h1M499 175h1M499 177h1M499 179h1M499 180h1M499 181h1M499 182h1M499 183h1M499 184h1M499 185h1M499 186h1M499 189h1M499 190h1M499 191h1M499 192h1M499 193h1M499 194h1M499 195h1M499 196h1M499 197h1M499 199h1M499 200h1M499 201h1M499 203h1M499 204h1M499 206h1M499 208h1M499 209h1M499 210h1M500 157h1M500 158h1M500 159h1M500 160h1M500 161h1M500 163h1M500 166h1M500 168h1M500 171h1M500 174h1M500 177h1M500 178h1M500 179h1M500 180h1M500 181h1M500 182h1M500 183h1M500 184h1M500 185h1M500 190h1M500 192h1M500 194h1M500 195h1M500 196h1M500 199h1M500 202h1M500 203h1M500 204h1M500 205h1M500 207h1M500 208h1M500 209h1M501 158h1M501 159h1M501 160h1M501 162h1M501 163h1M501 164h1M501 165h1M501 166h1M501 167h1M501 168h1M501 169h1M501 170h1M501 171h1M501 172h1M501 173h1M501 174h1M501 176h1M501 177h1M501 180h1M501 181h1M501 182h1M501 183h1M501 184h1M501 185h1M501 186h1M501 189h1M501 190h1M501 191h1M501 192h1M501 193h1M501 194h1M501 196h1M501 199h1M501 200h1M501 201h1M501 202h1M501 203h1M501 204h1M501 205h1M501 206h1M501 207h1M501 208h1M502 159h1M502 160h1M502 161h1M502 162h1M502 163h1M502 164h1M502 166h1M502 167h1M502 168h1M502 169h1M502 171h1M502 172h1M502 173h1M502 174h1M502 177h1M502 179h1M502 180h1M502 181h1M502 182h1M502 183h1M502 184h1M502 185h1M502 186h1M502 188h1M502 189h1M502 190h1M502 191h1M502 192h1M502 193h1M502 194h1M502 195h1M502 196h1M502 197h1M502 198h1M502 199h1M502 200h1M502 201h1M502 203h1M502 205h1M502 206h1M502 207h1M503 160h1M503 163h1M503 166h1M503 167h1M503 169h1M503 170h1M503 171h1M503 174h1M503 175h1M503 176h1M503 177h1M503 180h1M503 181h1M503 183h1M503 184h1M503 185h1M503 186h1M503 189h1M503 191h1M503 192h1M503 194h1M503 195h1M503 196h1M503 197h1M503 199h1M503 200h1M503 201h1M503 202h1M503 204h1M503 205h1M503 206h1M503 207h1M504 162h1M504 163h1M504 164h1M504 168h1M504 170h1M504 171h1M504 172h1M504 173h1M504 174h1M504 176h1M504 177h1M504 178h1M504 182h1M504 184h1M504 185h1M504 186h1M504 187h1M504 189h1M504 191h1M504 192h1M504 193h1M504 195h1M504 196h1M504 197h1M504 199h1M504 201h1M504 202h1M504 203h1M504 204h1M504 205h1M505 164h1M505 165h1M505 169h1M505 171h1M505 172h1M505 173h1M505 174h1M505 175h1M505 177h1M505 178h1M505 179h1M505 181h1M505 183h1M505 184h1M505 186h1M505 187h1M505 188h1M505 190h1M505 191h1M505 192h1M505 193h1M505 194h1M505 195h1M505 196h1M505 197h1M505 198h1M505 200h1M505 201h1M505 202h1M506 167h1M506 168h1M506 169h1M506 171h1M506 172h1M506 173h1M506 174h1M506 175h1M506 176h1M506 177h1M506 178h1M506 179h1M506 180h1M506 181h1M506 183h1M506 184h1M506 185h1M506 186h1M506 189h1M506 191h1M506 192h1M506 193h1M506 194h1M506 196h1M506 197h1M506 198h1M506 200h1M507 171h1M507 172h1M507 173h1M507 176h1M507 177h1M507 180h1M507 181h1M507 182h1M507 183h1M507 185h1M507 186h1M507 189h1M507 190h1M507 191h1M507 192h1M507 193h1M507 194h1M507 196h1M507 197h1M507 198h1M508 176h1M508 177h1M508 178h1M508 179h1M508 180h1M508 181h1M508 184h1M508 185h1M508 186h1M508 188h1M508 190h1M508 191h1M508 192h1" stroke="#2020ff" stroke-width="1" fill="none" transform="translate(0 0.5)"/>
<rect x="392.6" y="18.9" width="287.7" height="211.2" fill="none" stroke="#222" stroke-width="1.2"/>
<path d="M392.6 214.2h4M392.6 152h4M392.6 89.8h4M392.6 27.6h4" fill="none" stroke="#222" stroke-width="1.2"/>
<path d="M392.6 183.1h2M392.6 120.9h2M392.6 58.7h2" fill="none" stroke="#222" stroke-width="1.2"/>
<path d="M416.1 230.1v-4M512.5 230.1v-4M608.4 230.1v-4" fill="none" stroke="#222" stroke-width="1.2"/>
<path d="M464.3 230.1v-2M560.8 230.1v-2M656.2 230.1v-2" fill="none" stroke="#222" stroke-width="1.2"/>
<text x="387.3" y="218.5" font-size="13" fill="#000" stroke="#000" stroke-width="0.3" text-anchor="end">0</text>
<text x="387.3" y="156.3" font-size="13" fill="#000" stroke="#000" stroke-width="0.3" text-anchor="end">40</text>
<text x="387.3" y="94.1" font-size="13" fill="#000" stroke="#000" stroke-width="0.3" text-anchor="end">80</text>
<text x="387.3" y="31.9" font-size="13" fill="#000" stroke="#000" stroke-width="0.3" text-anchor="end">120</text>
<text x="417.2" y="243" font-size="13.8" fill="#000" stroke="#000" stroke-width="0.3" text-anchor="middle">0</text>
<text x="512.5" y="243" font-size="13.8" fill="#000" stroke="#000" stroke-width="0.3" text-anchor="middle">3</text>
<text x="608.4" y="243" font-size="13.8" fill="#000" stroke="#000" stroke-width="0.3" text-anchor="middle">6</text>
<text x="680" y="243" font-size="13.8" fill="#000" stroke="#000" stroke-width="0.3" text-anchor="middle">8</text>
<text x="551" y="243" font-size="13.5" fill="#000" stroke="#000" stroke-width="0.3" text-anchor="middle">β</text>
<text x="360.7" y="119.8" font-size="16" fill="#000" stroke="#000" stroke-width="0.3" text-anchor="middle" textLength="124" lengthAdjust="spacingAndGlyphs" transform="rotate(-90 360.7 119.8)">Output States(a.u)</text>
<rect x="399.6" y="21.7" width="139.3" height="99.2" fill="#fff"/>
<path d="M406.1 114.4Q431.8 98.9 452.4 82.2M406.1 114.4Q432.4 100.2 452.0 86.1M406.1 114.4Q432.9 101.5 452.1 90.0M406.1 114.4Q433.5 102.7 452.5 93.9M406.1 114.4Q434.0 104.0 453.4 97.6M406.1 114.4Q432.0 106.0 452.0 104.0M406.1 114.4Q432.8 106.6 453.6 106.0M406.1 114.4Q433.6 107.2 455.2 108.0M406.1 114.4Q434.4 107.8 456.8 110.0M406.1 114.4Q435.2 108.4 458.4 112.0M406.1 114.4Q436.0 109.0 460.0 114.0" fill="none" stroke="#555" stroke-width="0.35"/>
<path d="M406.1 114.4L523.8 23.5" stroke="#555" stroke-width="0.5" fill="none"/>
<path d="M406.1 114.4C420 105 435 100 452 98.5" fill="none" stroke="#111" stroke-width="1.5"/>
<path d="M453.0 78.9L452.7 80.4L452.4 82.0L452.2 83.6L452.1 85.3L452.0 86.9L452.0 88.5L452.1 90.2L452.2 91.8" fill="none" stroke="#111" stroke-width="1.1"/>
<path d="M452.0 87.5L452.2 91.8L453.0 96.0L454.1 100.0L455.7 103.7L457.7 106.9L460.0 109.7L462.6 112.0L465.5 113.7L468.4 114.7" fill="none" stroke="#222" stroke-width="0.9"/>
<path d="M453.0 79.9h0.8M453.0 80.1h0.8M453.0 81.7h0.8M453.0 82.5h0.8M453.0 83.9h0.8M453.0 85.4h0.8M453.0 86.7h0.8M453.0 87.4h0.8M453.0 88.6h0.8M453.0 90.1h0.8M453.0 91.5h0.8M453.0 92.5h0.8M453.0 93.9h0.8M453.0 94.6h0.8M453.0 95.1h0.8M453.0 96.8h0.8M454.0 78.9h0.8M454.0 80.1h0.8M454.0 81.4h0.8M454.0 83.8h0.8M454.0 84.3h0.8M454.0 85.3h0.8M454.0 87.0h0.8M454.0 87.9h0.8M454.0 88.7h0.8M454.0 89.4h0.8M454.0 90.9h0.8M454.0 91.3h0.8M454.0 92.8h0.8M454.0 94.2h0.8M454.0 95.7h0.8M454.0 96.3h0.8M454.0 98.2h0.8M454.0 99.2h0.8M454.0 100.1h0.8M455.0 77.8h0.8M455.0 82.9h0.8M455.0 83.9h0.8M455.0 84.9h0.8M455.0 86.4h0.8M455.0 89.3h0.8M455.0 89.5h0.8M455.0 91.2h0.8M455.0 95.0h0.8M455.0 96.5h0.8M455.0 97.8h0.8M455.0 99.0h0.8M455.0 100.1h0.8M455.0 101.4h0.8M456.0 76.8h0.8M456.0 79.5h0.8M456.0 82.5h0.8M456.0 84.9h0.8M456.0 85.9h0.8M456.0 88.2h0.8M456.0 90.8h0.8M456.0 92.8h0.8M456.0 96.8h0.8M456.0 97.8h0.8M456.0 98.8h0.8M456.0 100.2h0.8M456.0 100.9h0.8M456.0 102.2h0.8M456.0 103.4h0.8M456.0 104.6h0.8M457.0 76.0h0.8M457.0 79.5h0.8M457.0 80.3h0.8M457.0 81.1h0.8M457.0 82.5h0.8M457.0 86.6h0.8M457.0 86.9h0.8M457.0 89.0h0.8M457.0 90.3h0.8M457.0 91.9h0.8M457.0 92.5h0.8M457.0 96.8h0.8M457.0 101.7h0.8M457.0 103.2h0.8M457.0 104.4h0.8M457.0 105.2h0.8M458.0 77.5h0.8M458.0 78.9h0.8M458.0 79.9h0.8M458.0 80.8h0.8M458.0 81.6h0.8M458.0 82.9h0.8M458.0 83.3h0.8M458.0 85.0h0.8M458.0 86.9h0.8M458.0 87.4h0.8M458.0 90.3h0.8M458.0 93.0h0.8M458.0 93.4h0.8M458.0 94.4h0.8M458.0 95.9h0.8M458.0 98.1h0.8M458.0 99.1h0.8M458.0 100.1h0.8M458.0 103.2h0.8M458.0 104.3h0.8M458.0 105.7h0.8M459.0 74.7h0.8M459.0 75.7h0.8M459.0 78.0h0.8M459.0 80.8h0.8M459.0 82.8h0.8M459.0 84.1h0.8M459.0 85.1h0.8M459.0 86.3h0.8M459.0 86.6h0.8M459.0 87.9h0.8M459.0 88.9h0.8M459.0 92.2h0.8M459.0 94.2h0.8M459.0 95.4h0.8M459.0 96.7h0.8M459.0 98.5h0.8M459.0 102.5h0.8M459.0 104.1h0.8M459.0 104.7h0.8M459.0 105.9h0.8M459.0 107.2h0.8M459.0 107.5h0.8M459.0 108.5h0.8M460.0 76.0h0.8M460.0 82.4h0.8M460.0 84.9h0.8M460.0 86.3h0.8M460.0 87.3h0.8M460.0 88.0h0.8M460.0 88.9h0.8M460.0 90.4h0.8M460.0 90.7h0.8M460.0 92.1h0.8M460.0 93.2h0.8M460.0 94.2h0.8M460.0 95.7h0.8M460.0 96.9h0.8M460.0 98.2h0.8M460.0 99.6h0.8M460.0 104.2h0.8M460.0 105.4h0.8M460.0 107.4h0.8M460.0 107.9h0.8M460.0 108.8h0.8M461.0 73.0h0.8M461.0 74.3h0.8M461.0 75.6h0.8M461.0 76.5h0.8M461.0 77.6h0.8M461.0 79.3h0.8M461.0 80.3h0.8M461.0 81.5h0.8M461.0 84.9h0.8M461.0 86.3h0.8M461.0 87.5h0.8M461.0 90.1h0.8M461.0 91.0h0.8M461.0 94.0h0.8M461.0 96.3h0.8M461.0 98.5h0.8M461.0 100.1h0.8M461.0 101.3h0.8M461.0 102.6h0.8M461.0 103.8h0.8M461.0 104.8h0.8M461.0 106.0h0.8M461.0 108.7h0.8M462.0 75.0h0.8M462.0 75.6h0.8M462.0 77.0h0.8M462.0 77.4h0.8M462.0 79.0h0.8M462.0 81.8h0.8M462.0 82.8h0.8M462.0 83.3h0.8M462.0 86.2h0.8M462.0 92.7h0.8M462.0 93.4h0.8M462.0 94.6h0.8M462.0 95.4h0.8M462.0 97.0h0.8M462.0 97.6h0.8M462.0 100.8h0.8M462.0 101.5h0.8M462.0 102.7h0.8M462.0 103.3h0.8M462.0 105.2h0.8M462.0 110.4h0.8M462.0 111.5h0.8M463.0 72.4h0.8M463.0 74.2h0.8M463.0 75.4h0.8M463.0 78.4h0.8M463.0 80.9h0.8M463.0 81.8h0.8M463.0 86.2h0.8M463.0 88.1h0.8M463.0 89.4h0.8M463.0 91.8h0.8M463.0 92.7h0.8M463.0 93.7h0.8M463.0 96.3h0.8M463.0 96.5h0.8M463.0 97.8h0.8M463.0 102.1h0.8M463.0 105.6h0.8M463.0 109.4h0.8M463.0 110.6h0.8M464.0 71.6h0.8M464.0 73.1h0.8M464.0 75.5h0.8M464.0 78.1h0.8M464.0 79.5h0.8M464.0 84.7h0.8M464.0 88.4h0.8M464.0 89.1h0.8M464.0 90.7h0.8M464.0 93.0h0.8M464.0 93.9h0.8M464.0 95.4h0.8M464.0 97.2h0.8M464.0 100.5h0.8M464.0 102.4h0.8M464.0 102.7h0.8M464.0 104.0h0.8M464.0 106.0h0.8M464.0 107.7h0.8M464.0 108.9h0.8M464.0 111.1h0.8M464.0 112.2h0.8M464.0 113.0h0.8M465.0 70.1h0.8M465.0 71.4h0.8M465.0 73.5h0.8M465.0 74.6h0.8M465.0 76.2h0.8M465.0 78.3h0.8M465.0 81.1h0.8M465.0 81.8h0.8M465.0 84.1h0.8M465.0 90.0h0.8M465.0 94.3h0.8M465.0 96.5h0.8M465.0 97.7h0.8M465.0 97.9h0.8M465.0 99.0h0.8M465.0 100.5h0.8M465.0 101.1h0.8M465.0 102.7h0.8M465.0 103.0h0.8M465.0 104.4h0.8M465.0 105.0h0.8M465.0 106.0h0.8M465.0 108.9h0.8M465.0 110.9h0.8M465.0 112.8h0.8M466.0 69.4h0.8M466.0 70.4h0.8M466.0 72.5h0.8M466.0 73.7h0.8M466.0 76.2h0.8M466.0 77.1h0.8M466.0 80.4h0.8M466.0 81.2h0.8M466.0 82.0h0.8M466.0 83.5h0.8M466.0 84.9h0.8M466.0 86.9h0.8M466.0 88.4h0.8M466.0 93.8h0.8M466.0 94.9h0.8M466.0 96.4h0.8M466.0 100.4h0.8M466.0 101.1h0.8M466.0 102.2h0.8M466.0 104.4h0.8M466.0 105.9h0.8M466.0 106.8h0.8M466.0 107.3h0.8M466.0 108.6h0.8M466.0 109.9h0.8M466.0 111.8h0.8M466.0 113.1h0.8M467.0 70.3h0.8M467.0 71.6h0.8M467.0 72.3h0.8M467.0 74.1h0.8M467.0 75.1h0.8M467.0 76.2h0.8M467.0 76.7h0.8M467.0 80.0h0.8M467.0 83.6h0.8M467.0 86.3h0.8M467.0 87.6h0.8M467.0 88.5h0.8M467.0 91.3h0.8M467.0 93.1h0.8M467.0 93.4h0.8M467.0 95.0h0.8M467.0 97.8h0.8M467.0 99.1h0.8M467.0 101.3h0.8M467.0 102.3h0.8M467.0 103.2h0.8M467.0 104.3h0.8M467.0 105.9h0.8M467.0 108.9h0.8M467.0 109.7h0.8M467.0 110.8h0.8M467.0 111.8h0.8M467.0 112.7h0.8M467.0 114.0h0.8M467.0 114.5h0.8M468.0 70.7h0.8M468.0 72.2h0.8M468.0 72.6h0.8M468.0 76.0h0.8M468.0 77.4h0.8M468.0 77.5h0.8M468.0 80.3h0.8M468.0 80.9h0.8M468.0 82.4h0.8M468.0 83.4h0.8M468.0 84.9h0.8M468.0 87.4h0.8M468.0 89.3h0.8M468.0 90.3h0.8M468.0 91.6h0.8M468.0 95.2h0.8M468.0 95.8h0.8M468.0 99.4h0.8M468.0 104.2h0.8M468.0 106.2h0.8M468.0 107.0h0.8M468.0 107.9h0.8M468.0 109.5h0.8M468.0 110.9h0.8M468.0 112.3h0.8M468.0 113.4h0.8M468.0 113.8h0.8M468.0 115.3h0.8M469.0 67.1h0.8M469.0 69.6h0.8M469.0 70.4h0.8M469.0 74.5h0.8M469.0 75.6h0.8M469.0 78.2h0.8M469.0 79.1h0.8M469.0 80.6h0.8M469.0 80.9h0.8M469.0 90.9h0.8M469.0 92.6h0.8M469.0 94.7h0.8M469.0 96.5h0.8M469.0 96.9h0.8M469.0 97.7h0.8M469.0 99.9h0.8M469.0 101.5h0.8M469.0 101.6h0.8M469.0 103.5h0.8M469.0 104.2h0.8M469.0 104.9h0.8M469.0 107.5h0.8M469.0 109.7h0.8M469.0 112.8h0.8M469.0 114.4h0.8M470.0 67.3h0.8M470.0 71.0h0.8M470.0 73.3h0.8M470.0 76.1h0.8M470.0 78.3h0.8M470.0 79.1h0.8M470.0 80.9h0.8M470.0 84.6h0.8M470.0 87.4h0.8M470.0 88.5h0.8M470.0 89.1h0.8M470.0 90.8h0.8M470.0 91.5h0.8M470.0 91.9h0.8M470.0 93.0h0.8M470.0 98.1h0.8M470.0 99.4h0.8M470.0 100.2h0.8M470.0 101.0h0.8M470.0 105.7h0.8M470.0 106.3h0.8M470.0 108.3h0.8M470.0 109.6h0.8M470.0 110.2h0.8M470.0 111.5h0.8M470.0 112.9h0.8M470.0 114.6h0.8M471.0 65.1h0.8M471.0 67.4h0.8M471.0 69.3h0.8M471.0 74.0h0.8M471.0 74.4h0.8M471.0 77.0h0.8M471.0 78.0h0.8M471.0 78.8h0.8M471.0 79.2h0.8M471.0 81.8h0.8M471.0 83.1h0.8M471.0 86.4h0.8M471.0 89.7h0.8M471.0 91.0h0.8M471.0 93.1h0.8M471.0 94.7h0.8M471.0 98.1h0.8M471.0 99.4h0.8M471.0 103.3h0.8M471.0 104.3h0.8M471.0 106.0h0.8M471.0 106.7h0.8M471.0 108.9h0.8M471.0 109.6h0.8M471.0 110.5h0.8M471.0 112.5h0.8M471.0 114.4h0.8M472.0 67.0h0.8M472.0 67.6h0.8M472.0 68.3h0.8M472.0 69.4h0.8M472.0 71.1h0.8M472.0 72.4h0.8M472.0 74.8h0.8M472.0 75.6h0.8M472.0 76.6h0.8M472.0 78.1h0.8M472.0 79.4h0.8M472.0 82.3h0.8M472.0 83.6h0.8M472.0 85.9h0.8M472.0 88.5h0.8M472.0 91.7h0.8M472.0 94.1h0.8M472.0 95.0h0.8M472.0 95.7h0.8M472.0 96.7h0.8M472.0 97.7h0.8M472.0 98.9h0.8M472.0 101.0h0.8M472.0 102.0h0.8M472.0 103.2h0.8M472.0 104.0h0.8M472.0 105.3h0.8M472.0 107.5h0.8M472.0 109.2h0.8M472.0 110.2h0.8M472.0 111.2h0.8M472.0 111.5h0.8M472.0 113.7h0.8M472.0 114.6h0.8M473.0 67.1h0.8M473.0 68.3h0.8M473.0 69.3h0.8M473.0 70.0h0.8M473.0 70.9h0.8M473.0 73.0h0.8M473.0 73.6h0.8M473.0 74.9h0.8M473.0 76.0h0.8M473.0 77.1h0.8M473.0 78.2h0.8M473.0 81.5h0.8M473.0 82.3h0.8M473.0 83.5h0.8M473.0 84.4h0.8M473.0 85.3h0.8M473.0 87.4h0.8M473.0 90.8h0.8M473.0 92.9h0.8M473.0 98.4h0.8M473.0 99.6h0.8M473.0 101.0h0.8M473.0 103.1h0.8M473.0 104.0h0.8M473.0 106.1h0.8M473.0 107.6h0.8M473.0 109.9h0.8M473.0 112.5h0.8M473.0 113.0h0.8M473.0 114.5h0.8M474.0 62.8h0.8M474.0 64.1h0.8M474.0 69.7h0.8M474.0 70.2h0.8M474.0 71.5h0.8M474.0 73.6h0.8M474.0 74.8h0.8M474.0 76.1h0.8M474.0 80.5h0.8M474.0 81.0h0.8M474.0 82.9h0.8M474.0 83.9h0.8M474.0 87.3h0.8M474.0 87.9h0.8M474.0 89.8h0.8M474.0 91.1h0.8M474.0 92.2h0.8M474.0 92.8h0.8M474.0 93.9h0.8M474.0 95.0h0.8M474.0 97.6h0.8M474.0 99.4h0.8M474.0 100.3h0.8M474.0 100.9h0.8M474.0 102.1h0.8M474.0 104.3h0.8M474.0 106.2h0.8M474.0 107.3h0.8M474.0 113.0h0.8M474.0 114.2h0.8M475.0 62.1h0.8M475.0 63.9h0.8M475.0 65.0h0.8M475.0 66.0h0.8M475.0 66.5h0.8M475.0 67.8h0.8M475.0 69.3h0.8M475.0 73.0h0.8M475.0 74.8h0.8M475.0 76.1h0.8M475.0 77.1h0.8M475.0 78.7h0.8M475.0 79.1h0.8M475.0 82.2h0.8M475.0 83.9h0.8M475.0 84.4h0.8M475.0 85.9h0.8M475.0 86.9h0.8M475.0 87.6h0.8M475.0 88.8h0.8M475.0 89.7h0.8M475.0 90.6h0.8M475.0 91.5h0.8M475.0 93.4h0.8M475.0 97.8h0.8M475.0 98.2h0.8M475.0 99.0h0.8M475.0 100.7h0.8M475.0 101.6h0.8M475.0 102.5h0.8M475.0 104.2h0.8M475.0 105.2h0.8M475.0 110.9h0.8M475.0 112.5h0.8M475.0 113.5h0.8M475.0 114.2h0.8M476.0 61.7h0.8M476.0 63.1h0.8M476.0 63.3h0.8M476.0 65.9h0.8M476.0 66.8h0.8M476.0 67.6h0.8M476.0 69.5h0.8M476.0 71.1h0.8M476.0 72.1h0.8M476.0 73.6h0.8M476.0 74.4h0.8M476.0 75.4h0.8M476.0 77.7h0.8M476.0 78.6h0.8M476.0 81.0h0.8M476.0 83.6h0.8M476.0 84.4h0.8M476.0 87.4h0.8M476.0 88.9h0.8M476.0 89.8h0.8M476.0 91.2h0.8M476.0 93.0h0.8M476.0 95.6h0.8M476.0 96.9h0.8M476.0 98.6h0.8M476.0 100.2h0.8M476.0 101.0h0.8M476.0 102.0h0.8M476.0 104.6h0.8M476.0 105.4h0.8M476.0 106.9h0.8M476.0 107.9h0.8M476.0 109.1h0.8M476.0 109.9h0.8M476.0 110.8h0.8M476.0 112.8h0.8M476.0 113.7h0.8M477.0 62.0h0.8M477.0 62.6h0.8M477.0 64.4h0.8M477.0 65.8h0.8M477.0 67.8h0.8M477.0 69.4h0.8M477.0 70.0h0.8M477.0 70.9h0.8M477.0 72.6h0.8M477.0 76.1h0.8M477.0 80.8h0.8M477.0 81.9h0.8M477.0 83.9h0.8M477.0 84.7h0.8M477.0 87.0h0.8M477.0 91.8h0.8M477.0 93.2h0.8M477.0 93.8h0.8M477.0 95.2h0.8M477.0 96.4h0.8M477.0 98.1h0.8M477.0 99.3h0.8M477.0 100.9h0.8M477.0 101.6h0.8M477.0 105.3h0.8M477.0 106.3h0.8M477.0 107.6h0.8M477.0 108.9h0.8M477.0 112.2h0.8M477.0 114.3h0.8M477.0 115.4h0.8M478.0 62.3h0.8M478.0 63.9h0.8M478.0 65.1h0.8M478.0 65.8h0.8M478.0 68.3h0.8M478.0 71.6h0.8M478.0 73.6h0.8M478.0 74.8h0.8M478.0 76.6h0.8M478.0 76.8h0.8M478.0 79.6h0.8M478.0 80.3h0.8M478.0 81.1h0.8M478.0 82.3h0.8M478.0 83.7h0.8M478.0 87.8h0.8M478.0 91.3h0.8M478.0 92.0h0.8M478.0 95.0h0.8M478.0 96.7h0.8M478.0 98.2h0.8M478.0 101.9h0.8M478.0 104.7h0.8M478.0 106.3h0.8M478.0 106.9h0.8M478.0 107.7h0.8M478.0 110.0h0.8M478.0 111.6h0.8M478.0 112.0h0.8M478.0 113.9h0.8M479.0 63.6h0.8M479.0 64.3h0.8M479.0 65.3h0.8M479.0 66.8h0.8M479.0 69.1h0.8M479.0 71.0h0.8M479.0 72.7h0.8M479.0 74.5h0.8M479.0 77.9h0.8M479.0 80.7h0.8M479.0 81.4h0.8M479.0 84.9h0.8M479.0 87.2h0.8M479.0 88.5h0.8M479.0 90.6h0.8M479.0 91.5h0.8M479.0 94.7h0.8M479.0 95.9h0.8M479.0 96.7h0.8M479.0 98.5h0.8M479.0 100.5h0.8M479.0 101.0h0.8M479.0 102.1h0.8M479.0 102.9h0.8M479.0 104.7h0.8M479.0 105.4h0.8M479.0 106.2h0.8M479.0 107.0h0.8M479.0 111.1h0.8M479.0 112.3h0.8M479.0 113.8h0.8M479.0 114.9h0.8M480.0 65.0h0.8M480.0 65.3h0.8M480.0 68.0h0.8M480.0 68.6h0.8M480.0 70.6h0.8M480.0 71.5h0.8M480.0 75.1h0.8M480.0 76.0h0.8M480.0 79.1h0.8M480.0 79.8h0.8M480.0 82.2h0.8M480.0 83.9h0.8M480.0 84.4h0.8M480.0 85.2h0.8M480.0 87.8h0.8M480.0 95.1h0.8M480.0 96.8h0.8M480.0 98.7h0.8M480.0 99.4h0.8M480.0 101.5h0.8M480.0 102.2h0.8M480.0 104.6h0.8M480.0 105.8h0.8M480.0 106.9h0.8M480.0 107.6h0.8M480.0 108.7h0.8M480.0 110.6h0.8M480.0 111.2h0.8M480.0 114.4h0.8M481.0 63.9h0.8M481.0 65.4h0.8M481.0 66.9h0.8M481.0 67.6h0.8M481.0 68.6h0.8M481.0 74.0h0.8M481.0 75.8h0.8M481.0 78.3h0.8M481.0 78.5h0.8M481.0 81.6h0.8M481.0 82.9h0.8M481.0 85.0h0.8M481.0 88.1h0.8M481.0 89.6h0.8M481.0 92.9h0.8M481.0 96.0h0.8M481.0 98.2h0.8M481.0 98.6h0.8M481.0 99.6h0.8M481.0 100.6h0.8M481.0 102.2h0.8M481.0 104.2h0.8M481.0 109.0h0.8M481.0 111.3h0.8M481.0 111.9h0.8M481.0 113.2h0.8M481.0 114.5h0.8M482.0 59.3h0.8M482.0 65.0h0.8M482.0 66.1h0.8M482.0 68.1h0.8M482.0 72.4h0.8M482.0 74.2h0.8M482.0 75.5h0.8M482.0 75.7h0.8M482.0 77.0h0.8M482.0 78.5h0.8M482.0 78.7h0.8M482.0 79.8h0.8M482.0 80.6h0.8M482.0 82.8h0.8M482.0 83.8h0.8M482.0 86.3h0.8M482.0 87.8h0.8M482.0 89.1h0.8M482.0 91.3h0.8M482.0 93.4h0.8M482.0 94.4h0.8M482.0 95.0h0.8M482.0 96.3h0.8M482.0 98.2h0.8M482.0 100.4h0.8M482.0 103.3h0.8M482.0 105.5h0.8M482.0 106.3h0.8M482.0 107.5h0.8M482.0 107.9h0.8M482.0 109.5h0.8M482.0 110.4h0.8M482.0 111.6h0.8M482.0 111.6h0.8M483.0 56.9h0.8M483.0 66.2h0.8M483.0 67.6h0.8M483.0 68.6h0.8M483.0 69.2h0.8M483.0 99.4h0.8M483.0 102.1h0.8M483.0 103.3h0.8M483.0 104.1h0.8M483.0 105.6h0.8M483.0 106.1h0.8M483.0 107.1h0.8M483.0 110.0h0.8M483.0 110.9h0.8M483.0 113.8h0.8M483.0 114.3h0.8M484.0 64.6h0.8M484.0 68.0h0.8M484.0 68.6h0.8M484.0 69.5h0.8M484.0 70.5h0.8M484.0 90.3h0.8M484.0 97.3h0.8M484.0 102.2h0.8M484.0 104.8h0.8M484.0 105.6h0.8M484.0 108.3h0.8M484.0 110.1h0.8M484.0 111.6h0.8M485.0 69.3h0.8M485.0 70.8h0.8M485.0 71.4h0.8M485.0 73.0h0.8M485.0 75.8h0.8M485.0 78.0h0.8M485.0 78.3h0.8M485.0 82.1h0.8M485.0 83.1h0.8M485.0 83.5h0.8M485.0 84.9h0.8M485.0 85.8h0.8M485.0 87.2h0.8M485.0 90.2h0.8M485.0 90.4h0.8M485.0 92.9h0.8M485.0 93.4h0.8M485.0 94.6h0.8M485.0 95.8h0.8M485.0 96.9h0.8M485.0 99.0h0.8M485.0 99.3h0.8M485.0 103.7h0.8M485.0 104.5h0.8M485.0 106.3h0.8M485.0 107.0h0.8M485.0 108.7h0.8M485.0 110.4h0.8M485.0 111.9h0.8M485.0 113.2h0.8M485.0 114.6h0.8M486.0 59.9h0.8M486.0 61.5h0.8M486.0 67.2h0.8M486.0 69.1h0.8M486.0 69.8h0.8M486.0 71.5h0.8M486.0 72.0h0.8M486.0 72.7h0.8M486.0 74.3h0.8M486.0 76.8h0.8M486.0 78.0h0.8M486.0 83.4h0.8M486.0 84.5h0.8M486.0 87.2h0.8M486.0 92.3h0.8M486.0 92.8h0.8M486.0 95.6h0.8M486.0 97.3h0.8M486.0 98.0h0.8M486.0 99.2h0.8M486.0 100.7h0.8M486.0 102.2h0.8M486.0 104.1h0.8M486.0 105.2h0.8M486.0 108.0h0.8M486.0 109.4h0.8M486.0 109.8h0.8M486.0 111.5h0.8M486.0 111.5h0.8M486.0 112.5h0.8M486.0 113.7h0.8M487.0 59.2h0.8M487.0 61.6h0.8M487.0 64.7h0.8M487.0 64.9h0.8M487.0 66.6h0.8M487.0 66.9h0.8M487.0 67.9h0.8M487.0 70.7h0.8M487.0 72.5h0.8M487.0 73.2h0.8M487.0 74.9h0.8M487.0 76.1h0.8M487.0 79.5h0.8M487.0 81.3h0.8M487.0 83.7h0.8M487.0 86.1h0.8M487.0 89.2h0.8M487.0 91.0h0.8M487.0 92.2h0.8M487.0 92.8h0.8M487.0 94.8h0.8M487.0 95.8h0.8M487.0 97.0h0.8M487.0 98.2h0.8M487.0 99.7h0.8M487.0 100.7h0.8M487.0 101.4h0.8M487.0 102.4h0.8M487.0 103.0h0.8M487.0 103.8h0.8M487.0 104.9h0.8M487.0 106.0h0.8M487.0 107.6h0.8M487.0 108.7h0.8M487.0 110.3h0.8M487.0 112.0h0.8M487.0 113.5h0.8M487.0 114.6h0.8M488.0 52.9h0.8M488.0 53.5h0.8M488.0 60.9h0.8M488.0 61.6h0.8M488.0 65.4h0.8M488.0 69.5h0.8M488.0 74.4h0.8M488.0 75.8h0.8M488.0 76.3h0.8M488.0 77.0h0.8M488.0 79.7h0.8M488.0 80.1h0.8M488.0 82.0h0.8M488.0 83.0h0.8M488.0 85.1h0.8M488.0 89.8h0.8M488.0 91.4h0.8M488.0 92.1h0.8M488.0 93.4h0.8M488.0 95.9h0.8M488.0 96.2h0.8M488.0 98.5h0.8M488.0 99.2h0.8M488.0 101.0h0.8M488.0 102.8h0.8M488.0 103.1h0.8M488.0 104.7h0.8M488.0 106.9h0.8M488.0 112.1h0.8M488.0 114.5h0.8M489.0 53.1h0.8M489.0 57.3h0.8M489.0 59.1h0.8M489.0 60.8h0.8M489.0 64.2h0.8M489.0 65.7h0.8M489.0 69.7h0.8M489.0 72.5h0.8M489.0 73.2h0.8M489.0 74.6h0.8M489.0 78.2h0.8M489.0 78.3h0.8M489.0 80.2h0.8M489.0 80.8h0.8M489.0 81.3h0.8M489.0 82.6h0.8M489.0 83.3h0.8M489.0 85.1h0.8M489.0 87.0h0.8M489.0 87.9h0.8M489.0 89.6h0.8M489.0 90.3h0.8M489.0 93.0h0.8M489.0 93.7h0.8M489.0 94.3h0.8M489.0 95.9h0.8M489.0 96.2h0.8M489.0 98.3h0.8M489.0 99.5h0.8M489.0 101.2h0.8M489.0 101.6h0.8M489.0 102.5h0.8M489.0 104.2h0.8M489.0 105.1h0.8M489.0 105.7h0.8M489.0 106.2h0.8M489.0 107.5h0.8M489.0 109.1h0.8M489.0 109.5h0.8M489.0 110.8h0.8M489.0 114.7h0.8M490.0 50.5h0.8M490.0 57.0h0.8M490.0 68.1h0.8M490.0 68.9h0.8M490.0 71.5h0.8M490.0 73.0h0.8M490.0 79.6h0.8M490.0 81.2h0.8M490.0 82.2h0.8M490.0 82.5h0.8M490.0 84.4h0.8M490.0 85.2h0.8M490.0 85.9h0.8M490.0 87.4h0.8M490.0 88.0h0.8M490.0 89.0h0.8M490.0 89.5h0.8M490.0 90.9h0.8M490.0 92.2h0.8M490.0 93.4h0.8M490.0 93.9h0.8M490.0 94.6h0.8M490.0 96.9h0.8M490.0 98.1h0.8M490.0 101.1h0.8M490.0 103.3h0.8M490.0 103.8h0.8M490.0 105.4h0.8M490.0 106.4h0.8M490.0 109.7h0.8M490.0 111.7h0.8M490.0 114.4h0.8M490.0 114.9h0.8M491.0 52.0h0.8M491.0 53.0h0.8M491.0 54.3h0.8M491.0 58.7h0.8M491.0 59.9h0.8M491.0 61.3h0.8M491.0 63.5h0.8M491.0 64.2h0.8M491.0 65.7h0.8M491.0 66.8h0.8M491.0 71.0h0.8M491.0 72.4h0.8M491.0 73.4h0.8M491.0 74.5h0.8M491.0 76.8h0.8M491.0 80.7h0.8M491.0 86.3h0.8M491.0 89.6h0.8M491.0 89.8h0.8M491.0 90.8h0.8M491.0 93.1h0.8M491.0 94.4h0.8M491.0 95.9h0.8M491.0 97.0h0.8M491.0 98.2h0.8M491.0 99.4h0.8M491.0 102.3h0.8M491.0 103.5h0.8M491.0 106.7h0.8M491.0 107.5h0.8M491.0 109.2h0.8M491.0 111.0h0.8M491.0 112.7h0.8M491.0 114.0h0.8M492.0 53.4h0.8M492.0 54.7h0.8M492.0 56.7h0.8M492.0 57.9h0.8M492.0 61.2h0.8M492.0 62.8h0.8M492.0 63.4h0.8M492.0 65.1h0.8M492.0 68.8h0.8M492.0 69.2h0.8M492.0 70.2h0.8M492.0 71.6h0.8M492.0 72.7h0.8M492.0 77.7h0.8M492.0 84.3h0.8M492.0 86.2h0.8M492.0 87.9h0.8M492.0 90.0h0.8M492.0 92.1h0.8M492.0 93.1h0.8M492.0 94.6h0.8M492.0 95.8h0.8M492.0 96.5h0.8M492.0 97.5h0.8M492.0 99.6h0.8M492.0 100.3h0.8M492.0 101.2h0.8M492.0 102.6h0.8M492.0 102.9h0.8M492.0 104.0h0.8M492.0 105.3h0.8M492.0 107.7h0.8M492.0 109.0h0.8M492.0 111.0h0.8M492.0 111.9h0.8M492.0 113.3h0.8M493.0 52.0h0.8M493.0 53.2h0.8M493.0 61.3h0.8M493.0 62.7h0.8M493.0 64.7h0.8M493.0 65.3h0.8M493.0 70.1h0.8M493.0 72.3h0.8M493.0 73.6h0.8M493.0 74.2h0.8M493.0 77.4h0.8M493.0 78.6h0.8M493.0 84.0h0.8M493.0 84.8h0.8M493.0 87.4h0.8M493.0 88.3h0.8M493.0 89.5h0.8M493.0 93.0h0.8M493.0 93.9h0.8M493.0 94.7h0.8M493.0 95.9h0.8M493.0 99.9h0.8M493.0 101.7h0.8M493.0 102.6h0.8M493.0 103.7h0.8M493.0 104.3h0.8M493.0 106.0h0.8M493.0 108.8h0.8M493.0 109.9h0.8M493.0 112.6h0.8M494.0 48.2h0.8M494.0 50.5h0.8M494.0 55.9h0.8M494.0 56.4h0.8M494.0 58.3h0.8M494.0 59.8h0.8M494.0 63.9h0.8M494.0 64.6h0.8M494.0 65.9h0.8M494.0 67.2h0.8M494.0 67.4h0.8M494.0 71.2h0.8M494.0 74.1h0.8M494.0 75.2h0.8M494.0 78.0h0.8M494.0 80.1h0.8M494.0 80.9h0.8M494.0 82.8h0.8M494.0 86.9h0.8M494.0 87.7h0.8M494.0 90.4h0.8M494.0 92.4h0.8M494.0 97.7h0.8M494.0 100.3h0.8M494.0 101.3h0.8M494.0 102.0h0.8M494.0 102.6h0.8M494.0 105.0h0.8M494.0 105.9h0.8M494.0 107.0h0.8M494.0 108.2h0.8M494.0 111.3h0.8M494.0 113.4h0.8M494.0 115.1h0.8M495.0 47.2h0.8M495.0 48.7h0.8M495.0 50.3h0.8M495.0 55.0h0.8M495.0 59.0h0.8M495.0 62.6h0.8M495.0 65.9h0.8M495.0 68.2h0.8M495.0 69.1h0.8M495.0 71.3h0.8M495.0 73.4h0.8M495.0 76.5h0.8M495.0 77.8h0.8M495.0 79.3h0.8M495.0 80.3h0.8M495.0 86.5h0.8M495.0 91.1h0.8M495.0 92.3h0.8M495.0 92.7h0.8M495.0 98.4h0.8M495.0 101.4h0.8M495.0 102.5h0.8M495.0 103.3h0.8M495.0 104.2h0.8M495.0 106.2h0.8M495.0 107.4h0.8M495.0 107.6h0.8M496.0 47.0h0.8M496.0 51.6h0.8M496.0 54.3h0.8M496.0 55.2h0.8M496.0 56.8h0.8M496.0 62.8h0.8M496.0 63.1h0.8M496.0 63.9h0.8M496.0 64.9h0.8M496.0 68.3h0.8M496.0 69.1h0.8M496.0 71.3h0.8M496.0 72.1h0.8M496.0 73.0h0.8M496.0 75.6h0.8M496.0 76.2h0.8M496.0 77.0h0.8M496.0 78.7h0.8M496.0 80.3h0.8M496.0 81.2h0.8M496.0 84.2h0.8M496.0 85.0h0.8M496.0 88.4h0.8M496.0 89.9h0.8M496.0 91.5h0.8M496.0 92.3h0.8M496.0 94.4h0.8M496.0 97.0h0.8M496.0 99.1h0.8M496.0 103.8h0.8M496.0 108.5h0.8M496.0 109.1h0.8M496.0 110.7h0.8M496.0 111.6h0.8M496.0 112.2h0.8M496.0 112.9h0.8M496.0 114.1h0.8M497.0 46.1h0.8M497.0 47.3h0.8M497.0 50.6h0.8M497.0 60.1h0.8M497.0 62.3h0.8M497.0 63.3h0.8M497.0 67.6h0.8M497.0 70.0h0.8M497.0 71.5h0.8M497.0 73.7h0.8M497.0 75.0h0.8M497.0 75.8h0.8M497.0 78.8h0.8M497.0 79.6h0.8M497.0 80.8h0.8M497.0 84.9h0.8M497.0 87.6h0.8M497.0 88.2h0.8M497.0 89.6h0.8M497.0 90.7h0.8M497.0 92.7h0.8M497.0 93.4h0.8M497.0 95.7h0.8M497.0 97.2h0.8M497.0 98.7h0.8M497.0 101.5h0.8M497.0 103.2h0.8M497.0 104.8h0.8M497.0 107.2h0.8M497.0 108.6h0.8M497.0 109.5h0.8M497.0 111.5h0.8M497.0 112.9h0.8M497.0 113.9h0.8M497.0 114.4h0.8M498.0 44.3h0.8M498.0 48.2h0.8M498.0 53.5h0.8M498.0 56.6h0.8M498.0 57.9h0.8M498.0 61.4h0.8M498.0 63.6h0.8M498.0 64.8h0.8M498.0 65.7h0.8M498.0 66.8h0.8M498.0 67.7h0.8M498.0 70.0h0.8M498.0 72.2h0.8M498.0 75.4h0.8M498.0 77.2h0.8M498.0 78.2h0.8M498.0 79.6h0.8M498.0 80.7h0.8M498.0 81.4h0.8M498.0 82.8h0.8M498.0 83.3h0.8M498.0 84.5h0.8M498.0 85.8h0.8M498.0 87.2h0.8M498.0 88.2h0.8M498.0 90.0h0.8M498.0 90.7h0.8M498.0 91.8h0.8M498.0 93.7h0.8M498.0 94.7h0.8M498.0 96.0h0.8M498.0 97.4h0.8M498.0 98.8h0.8M498.0 101.8h0.8M498.0 102.3h0.8M498.0 103.4h0.8M498.0 104.6h0.8M498.0 106.0h0.8M498.0 107.5h0.8M498.0 110.3h0.8M498.0 111.7h0.8M498.0 112.8h0.8M498.0 115.1h0.8M499.0 43.7h0.8M499.0 49.8h0.8M499.0 50.7h0.8M499.0 62.3h0.8M499.0 63.5h0.8M499.0 64.7h0.8M499.0 65.8h0.8M499.0 66.5h0.8M499.0 74.2h0.8M499.0 74.5h0.8M499.0 75.9h0.8M499.0 83.5h0.8M499.0 85.4h0.8M499.0 85.7h0.8M499.0 87.9h0.8M499.0 89.3h0.8M499.0 91.2h0.8M499.0 93.4h0.8M499.0 93.7h0.8M499.0 95.4h0.8M499.0 96.4h0.8M499.0 98.9h0.8M499.0 101.2h0.8M499.0 102.8h0.8M499.0 104.5h0.8M499.0 106.1h0.8M499.0 110.4h0.8M499.0 113.9h0.8M499.0 114.5h0.8M500.0 47.1h0.8M500.0 49.2h0.8M500.0 50.5h0.8M500.0 52.5h0.8M500.0 60.0h0.8M500.0 61.2h0.8M500.0 61.9h0.8M500.0 66.3h0.8M500.0 67.9h0.8M500.0 71.3h0.8M500.0 72.5h0.8M500.0 75.5h0.8M500.0 76.5h0.8M500.0 77.0h0.8M500.0 78.3h0.8M500.0 81.4h0.8M500.0 89.9h0.8M500.0 90.9h0.8M500.0 92.2h0.8M500.0 93.3h0.8M500.0 95.3h0.8M500.0 95.9h0.8M500.0 97.7h0.8M500.0 99.7h0.8M500.0 100.3h0.8M500.0 101.4h0.8M500.0 101.7h0.8M500.0 104.3h0.8M500.0 106.3h0.8M500.0 106.7h0.8M500.0 109.8h0.8M500.0 111.3h0.8M501.0 43.0h0.8M501.0 46.9h0.8M501.0 54.8h0.8M501.0 56.7h0.8M501.0 57.7h0.8M501.0 58.3h0.8M501.0 63.5h0.8M501.0 64.3h0.8M501.0 65.3h0.8M501.0 66.9h0.8M501.0 67.0h0.8M501.0 69.9h0.8M501.0 74.0h0.8M501.0 80.2h0.8M501.0 81.7h0.8M501.0 82.1h0.8M501.0 86.5h0.8M501.0 88.1h0.8M501.0 90.0h0.8M501.0 91.4h0.8M501.0 93.5h0.8M501.0 95.6h0.8M501.0 97.8h0.8M501.0 98.4h0.8M501.0 99.7h0.8M501.0 101.9h0.8M501.0 102.1h0.8M501.0 105.6h0.8M501.0 107.0h0.8M501.0 109.7h0.8M501.0 110.6h0.8M501.0 111.8h0.8M501.0 112.0h0.8M501.0 113.5h0.8M501.0 114.9h0.8M502.0 42.1h0.8M502.0 44.3h0.8M502.0 45.3h0.8M502.0 50.6h0.8M502.0 51.8h0.8M502.0 53.3h0.8M502.0 55.9h0.8M502.0 64.7h0.8M502.0 67.1h0.8M502.0 67.8h0.8M502.0 70.7h0.8M502.0 71.3h0.8M502.0 74.8h0.8M502.0 75.6h0.8M502.0 78.1h0.8M502.0 81.9h0.8M502.0 82.3h0.8M502.0 85.1h0.8M502.0 85.5h0.8M502.0 86.6h0.8M502.0 88.7h0.8M502.0 90.8h0.8M502.0 91.5h0.8M502.0 92.7h0.8M502.0 93.4h0.8M502.0 96.0h0.8M502.0 96.2h0.8M502.0 98.3h0.8M502.0 99.6h0.8M502.0 101.1h0.8M502.0 101.9h0.8M502.0 103.6h0.8M502.0 104.5h0.8M502.0 106.7h0.8M502.0 107.3h0.8M502.0 109.9h0.8M502.0 110.4h0.8M502.0 111.4h0.8M502.0 113.0h0.8M502.0 113.7h0.8M503.0 45.1h0.8M503.0 46.4h0.8M503.0 54.7h0.8M503.0 56.2h0.8M503.0 57.2h0.8M503.0 58.6h0.8M503.0 60.3h0.8M503.0 64.6h0.8M503.0 71.4h0.8M503.0 72.9h0.8M503.0 75.2h0.8M503.0 76.8h0.8M503.0 78.9h0.8M503.0 83.2h0.8M503.0 86.8h0.8M503.0 87.6h0.8M503.0 88.5h0.8M503.0 90.6h0.8M503.0 92.7h0.8M503.0 93.8h0.8M503.0 95.2h0.8M503.0 97.9h0.8M503.0 99.4h0.8M503.0 100.7h0.8M503.0 101.8h0.8M503.0 103.1h0.8M503.0 104.6h0.8M503.0 105.5h0.8M503.0 107.2h0.8M503.0 107.7h0.8M503.0 109.9h0.8M503.0 111.1h0.8M503.0 113.3h0.8M503.0 113.9h0.8M504.0 41.3h0.8M504.0 46.8h0.8M504.0 51.0h0.8M504.0 52.7h0.8M504.0 54.8h0.8M504.0 56.7h0.8M504.0 57.8h0.8M504.0 63.6h0.8M504.0 64.3h0.8M504.0 65.0h0.8M504.0 68.2h0.8M504.0 72.5h0.8M504.0 73.0h0.8M504.0 77.6h0.8M504.0 78.6h0.8M504.0 82.8h0.8M504.0 84.8h0.8M504.0 87.8h0.8M504.0 89.4h0.8M504.0 89.8h0.8M504.0 91.0h0.8M504.0 92.5h0.8M504.0 93.0h0.8M504.0 93.6h0.8M504.0 95.2h0.8M504.0 98.3h0.8M504.0 99.3h0.8M504.0 100.6h0.8M504.0 102.4h0.8M504.0 104.2h0.8M504.0 111.4h0.8M504.0 112.3h0.8M504.0 113.0h0.8M504.0 113.9h0.8M505.0 41.8h0.8M505.0 51.1h0.8M505.0 52.7h0.8M505.0 54.3h0.8M505.0 59.0h0.8M505.0 61.4h0.8M505.0 62.6h0.8M505.0 63.5h0.8M505.0 65.8h0.8M505.0 66.0h0.8M505.0 67.8h0.8M505.0 68.4h0.8M505.0 72.0h0.8M505.0 74.8h0.8M505.0 75.6h0.8M505.0 76.9h0.8M505.0 80.7h0.8M505.0 85.5h0.8M505.0 88.3h0.8M505.0 93.8h0.8M505.0 97.6h0.8M505.0 98.2h0.8M505.0 99.7h0.8M505.0 100.7h0.8M505.0 102.0h0.8M505.0 106.6h0.8M505.0 108.6h0.8M505.0 109.4h0.8M505.0 110.2h0.8M505.0 110.9h0.8M505.0 114.5h0.8M506.0 43.9h0.8M506.0 45.0h0.8M506.0 50.1h0.8M506.0 51.7h0.8M506.0 52.2h0.8M506.0 53.9h0.8M506.0 55.3h0.8M506.0 56.7h0.8M506.0 58.8h0.8M506.0 59.3h0.8M506.0 62.7h0.8M506.0 63.7h0.8M506.0 71.4h0.8M506.0 72.9h0.8M506.0 73.8h0.8M506.0 75.0h0.8M506.0 76.8h0.8M506.0 77.4h0.8M506.0 79.0h0.8M506.0 80.4h0.8M506.0 87.2h0.8M506.0 88.4h0.8M506.0 89.4h0.8M506.0 92.6h0.8M506.0 94.5h0.8M506.0 96.1h0.8M506.0 96.9h0.8M506.0 97.6h0.8M506.0 99.5h0.8M506.0 101.9h0.8M506.0 102.7h0.8M506.0 103.8h0.8M506.0 105.9h0.8M506.0 106.4h0.8M506.0 107.8h0.8M506.0 108.1h0.8M506.0 110.5h0.8M506.0 111.7h0.8M506.0 112.4h0.8M506.0 114.0h0.8M506.0 114.1h0.8M507.0 38.8h0.8M507.0 43.9h0.8M507.0 45.9h0.8M507.0 47.9h0.8M507.0 52.5h0.8M507.0 57.2h0.8M507.0 60.7h0.8M507.0 62.1h0.8M507.0 62.8h0.8M507.0 63.8h0.8M507.0 70.6h0.8M507.0 72.2h0.8M507.0 73.8h0.8M507.0 77.2h0.8M507.0 77.7h0.8M507.0 79.8h0.8M507.0 82.4h0.8M507.0 83.6h0.8M507.0 85.2h0.8M507.0 86.0h0.8M507.0 87.1h0.8M507.0 90.2h0.8M507.0 90.7h0.8M507.0 92.2h0.8M507.0 92.7h0.8M507.0 93.7h0.8M507.0 99.7h0.8M507.0 101.1h0.8M507.0 102.1h0.8M507.0 103.5h0.8M507.0 104.9h0.8M507.0 105.8h0.8M507.0 107.0h0.8M507.0 109.4h0.8M507.0 110.6h0.8M507.0 114.3h0.8M508.0 37.6h0.8M508.0 41.0h0.8M508.0 44.7h0.8M508.0 48.0h0.8M508.0 53.1h0.8M508.0 55.2h0.8M508.0 57.6h0.8M508.0 59.1h0.8M508.0 61.5h0.8M508.0 63.6h0.8M508.0 68.0h0.8M508.0 71.2h0.8M508.0 73.1h0.8M508.0 74.1h0.8M508.0 76.9h0.8M508.0 77.9h0.8M508.0 78.7h0.8M508.0 81.3h0.8M508.0 82.0h0.8M508.0 82.7h0.8M508.0 83.8h0.8M508.0 84.7h0.8M508.0 87.7h0.8M508.0 89.2h0.8M508.0 93.7h0.8M508.0 94.8h0.8M508.0 96.0h0.8M508.0 97.1h0.8M508.0 98.5h0.8M508.0 98.8h0.8M508.0 100.5h0.8M508.0 102.9h0.8M508.0 105.4h0.8M508.0 106.0h0.8M508.0 109.7h0.8M508.0 110.9h0.8M508.0 113.3h0.8M508.0 113.9h0.8M509.0 38.1h0.8M509.0 44.2h0.8M509.0 48.9h0.8M509.0 53.5h0.8M509.0 58.0h0.8M509.0 61.1h0.8M509.0 64.5h0.8M509.0 65.7h0.8M509.0 69.0h0.8M509.0 73.0h0.8M509.0 74.9h0.8M509.0 79.5h0.8M509.0 82.0h0.8M509.0 86.9h0.8M509.0 89.1h0.8M509.0 90.9h0.8M509.0 92.4h0.8M509.0 93.4h0.8M509.0 94.3h0.8M509.0 94.8h0.8M509.0 100.6h0.8M509.0 101.2h0.8M509.0 101.8h0.8M509.0 103.7h0.8M509.0 104.4h0.8M509.0 105.8h0.8M509.0 108.4h0.8M509.0 109.7h0.8M509.0 111.1h0.8M509.0 112.8h0.8M510.0 38.4h0.8M510.0 45.8h0.8M510.0 46.6h0.8M510.0 52.8h0.8M510.0 55.9h0.8M510.0 57.7h0.8M510.0 60.3h0.8M510.0 66.7h0.8M510.0 68.2h0.8M510.0 69.3h0.8M510.0 71.0h0.8M510.0 71.5h0.8M510.0 72.8h0.8M510.0 73.1h0.8M510.0 74.7h0.8M510.0 76.1h0.8M510.0 81.5h0.8M510.0 83.2h0.8M510.0 93.5h0.8M510.0 94.9h0.8M510.0 95.6h0.8M510.0 96.5h0.8M510.0 100.1h0.8M510.0 102.9h0.8M510.0 103.2h0.8M510.0 107.2h0.8M510.0 108.0h0.8M510.0 109.4h0.8M510.0 110.6h0.8M510.0 112.0h0.8M510.0 112.8h0.8M510.0 114.1h0.8M511.0 34.3h0.8M511.0 41.1h0.8M511.0 41.9h0.8M511.0 43.1h0.8M511.0 43.4h0.8M511.0 45.6h0.8M511.0 46.9h0.8M511.0 47.5h0.8M511.0 52.9h0.8M511.0 56.0h0.8M511.0 57.9h0.8M511.0 64.6h0.8M511.0 67.4h0.8M511.0 69.5h0.8M511.0 71.1h0.8M511.0 77.8h0.8M511.0 78.4h0.8M511.0 79.8h0.8M511.0 87.7h0.8M511.0 90.3h0.8M511.0 94.0h0.8M511.0 96.9h0.8M511.0 99.2h0.8M511.0 100.2h0.8M511.0 103.9h0.8M511.0 105.2h0.8M511.0 105.7h0.8M511.0 107.6h0.8M511.0 108.5h0.8M511.0 109.4h0.8M511.0 111.2h0.8M511.0 112.2h0.8M511.0 113.5h0.8M512.0 35.5h0.8M512.0 37.0h0.8M512.0 37.8h0.8M512.0 46.8h0.8M512.0 50.0h0.8M512.0 62.2h0.8M512.0 63.3h0.8M512.0 64.0h0.8M512.0 64.6h0.8M512.0 65.7h0.8M512.0 66.6h0.8M512.0 67.9h0.8M512.0 72.1h0.8M512.0 75.3h0.8M512.0 79.8h0.8M512.0 88.0h0.8M512.0 88.8h0.8M512.0 89.6h0.8M512.0 91.6h0.8M512.0 93.0h0.8M512.0 93.7h0.8M512.0 95.1h0.8M512.0 96.5h0.8M512.0 98.9h0.8M512.0 101.3h0.8M512.0 102.0h0.8M512.0 103.1h0.8M512.0 105.0h0.8M512.0 106.1h0.8M512.0 106.7h0.8M512.0 107.6h0.8M512.0 110.0h0.8M512.0 111.0h0.8M512.0 113.8h0.8M513.0 34.1h0.8M513.0 36.1h0.8M513.0 37.0h0.8M513.0 43.6h0.8M513.0 47.1h0.8M513.0 49.5h0.8M513.0 52.9h0.8M513.0 58.1h0.8M513.0 61.0h0.8M513.0 61.7h0.8M513.0 64.5h0.8M513.0 64.9h0.8M513.0 69.1h0.8M513.0 72.5h0.8M513.0 73.5h0.8M513.0 74.2h0.8M513.0 76.9h0.8M513.0 81.0h0.8M513.0 82.2h0.8M513.0 83.1h0.8M513.0 83.9h0.8M513.0 85.5h0.8M513.0 91.4h0.8M513.0 92.3h0.8M513.0 95.3h0.8M513.0 95.9h0.8M513.0 96.7h0.8M513.0 98.1h0.8M513.0 98.9h0.8M513.0 100.5h0.8M513.0 104.9h0.8M513.0 107.7h0.8M513.0 108.5h0.8M513.0 108.8h0.8M513.0 110.6h0.8M513.0 110.9h0.8M513.0 112.4h0.8M513.0 112.9h0.8M513.0 114.6h0.8M514.0 35.8h0.8M514.0 38.5h0.8M514.0 46.0h0.8M514.0 48.1h0.8M514.0 49.8h0.8M514.0 51.5h0.8M514.0 52.6h0.8M514.0 56.2h0.8M514.0 61.2h0.8M514.0 62.5h0.8M514.0 66.8h0.8M514.0 67.5h0.8M514.0 70.8h0.8M514.0 71.4h0.8M514.0 72.6h0.8M514.0 74.7h0.8M514.0 75.8h0.8M514.0 77.7h0.8M514.0 80.8h0.8M514.0 90.9h0.8M514.0 93.3h0.8M514.0 94.2h0.8M514.0 95.1h0.8M514.0 98.2h0.8M514.0 101.4h0.8M514.0 102.5h0.8M514.0 102.9h0.8M514.0 104.4h0.8M514.0 107.1h0.8M514.0 109.7h0.8M514.0 109.9h0.8M514.0 113.9h0.8M515.0 31.4h0.8M515.0 35.2h0.8M515.0 41.3h0.8M515.0 42.3h0.8M515.0 48.0h0.8M515.0 49.7h0.8M515.0 52.5h0.8M515.0 53.6h0.8M515.0 56.6h0.8M515.0 59.4h0.8M515.0 60.2h0.8M515.0 61.7h0.8M515.0 64.6h0.8M515.0 65.2h0.8M515.0 66.6h0.8M515.0 69.4h0.8M515.0 71.7h0.8M515.0 75.9h0.8M515.0 77.4h0.8M515.0 78.1h0.8M515.0 81.8h0.8M515.0 86.8h0.8M515.0 87.6h0.8M515.0 89.9h0.8M515.0 90.6h0.8M515.0 92.4h0.8M515.0 93.9h0.8M515.0 95.5h0.8M515.0 96.2h0.8M515.0 97.4h0.8M515.0 100.9h0.8M515.0 102.8h0.8M515.0 105.0h0.8M515.0 105.9h0.8M515.0 109.1h0.8M515.0 109.8h0.8M515.0 110.2h0.8M515.0 111.7h0.8M515.0 113.7h0.8M516.0 36.5h0.8M516.0 40.3h0.8M516.0 42.1h0.8M516.0 47.5h0.8M516.0 50.5h0.8M516.0 52.7h0.8M516.0 55.9h0.8M516.0 60.4h0.8M516.0 62.8h0.8M516.0 65.6h0.8M516.0 67.5h0.8M516.0 73.4h0.8M516.0 77.5h0.8M516.0 78.4h0.8M516.0 81.4h0.8M516.0 82.7h0.8M516.0 84.5h0.8M516.0 86.2h0.8M516.0 88.2h0.8M516.0 90.4h0.8M516.0 92.5h0.8M516.0 95.7h0.8M516.0 99.1h0.8M516.0 100.7h0.8M516.0 104.7h0.8M516.0 106.2h0.8M516.0 107.3h0.8M516.0 109.4h0.8M516.0 109.5h0.8M516.0 110.7h0.8M516.0 112.1h0.8M516.0 112.6h0.8M517.0 31.6h0.8M517.0 39.1h0.8M517.0 41.3h0.8M517.0 44.2h0.8M517.0 48.6h0.8M517.0 52.6h0.8M517.0 55.1h0.8M517.0 60.0h0.8M517.0 60.9h0.8M517.0 67.1h0.8M517.0 68.9h0.8M517.0 69.9h0.8M517.0 71.5h0.8M517.0 72.8h0.8M517.0 74.5h0.8M517.0 75.1h0.8M517.0 75.9h0.8M517.0 77.4h0.8M517.0 79.9h0.8M517.0 81.6h0.8M517.0 84.1h0.8M517.0 84.9h0.8M517.0 85.6h0.8M517.0 87.5h0.8M517.0 88.8h0.8M517.0 89.6h0.8M517.0 91.5h0.8M517.0 92.2h0.8M517.0 93.3h0.8M517.0 94.2h0.8M517.0 97.9h0.8M517.0 101.8h0.8M517.0 103.0h0.8M517.0 108.0h0.8M517.0 113.8h0.8M518.0 29.7h0.8M518.0 31.5h0.8M518.0 31.9h0.8M518.0 32.9h0.8M518.0 34.2h0.8M518.0 38.7h0.8M518.0 44.8h0.8M518.0 60.1h0.8M518.0 66.1h0.8M518.0 67.1h0.8M518.0 70.5h0.8M518.0 70.9h0.8M518.0 72.5h0.8M518.0 76.2h0.8M518.0 78.7h0.8M518.0 80.1h0.8M518.0 80.8h0.8M518.0 85.5h0.8M518.0 88.6h0.8M518.0 89.2h0.8M518.0 92.8h0.8M518.0 93.9h0.8M518.0 97.8h0.8M518.0 100.1h0.8M518.0 101.6h0.8M518.0 103.7h0.8M518.0 104.7h0.8M518.0 105.7h0.8M518.0 106.4h0.8M518.0 107.3h0.8M518.0 108.3h0.8M518.0 113.2h0.8M519.0 28.5h0.8M519.0 30.0h0.8M519.0 35.0h0.8M519.0 35.9h0.8M519.0 40.4h0.8M519.0 47.8h0.8M519.0 49.0h0.8M519.0 50.0h0.8M519.0 52.8h0.8M519.0 56.6h0.8M519.0 63.7h0.8M519.0 64.7h0.8M519.0 66.3h0.8M519.0 67.0h0.8M519.0 70.6h0.8M519.0 72.4h0.8M519.0 74.5h0.8M519.0 75.4h0.8M519.0 77.6h0.8M519.0 79.6h0.8M519.0 82.5h0.8M519.0 85.8h0.8M519.0 86.8h0.8M519.0 93.9h0.8M519.0 94.6h0.8M519.0 96.0h0.8M519.0 96.6h0.8M519.0 99.9h0.8M519.0 100.9h0.8M519.0 101.4h0.8M519.0 102.7h0.8M519.0 104.5h0.8M519.0 106.0h0.8M519.0 106.7h0.8M519.0 107.3h0.8M519.0 108.9h0.8M519.0 109.9h0.8M519.0 111.4h0.8M519.0 114.6h0.8M520.0 32.4h0.8M520.0 35.9h0.8M520.0 37.4h0.8M520.0 41.8h0.8M520.0 48.2h0.8M520.0 51.6h0.8M520.0 58.4h0.8M520.0 63.9h0.8M520.0 65.1h0.8M520.0 66.2h0.8M520.0 66.4h0.8M520.0 68.0h0.8M520.0 68.4h0.8M520.0 71.2h0.8M520.0 74.5h0.8M520.0 79.1h0.8M520.0 80.1h0.8M520.0 81.2h0.8M520.0 84.3h0.8M520.0 87.1h0.8M520.0 87.8h0.8M520.0 90.9h0.8M520.0 92.2h0.8M520.0 92.9h0.8M520.0 95.1h0.8M520.0 98.5h0.8M520.0 99.7h0.8M520.0 100.6h0.8M520.0 104.2h0.8M520.0 104.9h0.8M520.0 105.7h0.8M520.0 107.0h0.8M520.0 107.8h0.8M520.0 108.7h0.8M520.0 111.4h0.8M520.0 112.9h0.8M520.0 114.0h0.8M521.0 30.8h0.8M521.0 32.4h0.8M521.0 36.5h0.8M521.0 41.1h0.8M521.0 43.0h0.8M521.0 47.5h0.8M521.0 50.8h0.8M521.0 54.8h0.8M521.0 56.4h0.8M521.0 58.5h0.8M521.0 62.9h0.8M521.0 64.5h0.8M521.0 65.8h0.8M521.0 67.4h0.8M521.0 69.1h0.8M521.0 72.5h0.8M521.0 72.5h0.8M521.0 74.4h0.8M521.0 76.0h0.8M521.0 79.2h0.8M521.0 82.0h0.8M521.0 84.0h0.8M521.0 85.4h0.8M521.0 88.8h0.8M521.0 89.7h0.8M521.0 91.4h0.8M521.0 92.5h0.8M521.0 94.2h0.8M521.0 95.1h0.8M521.0 96.8h0.8M521.0 98.0h0.8M521.0 100.2h0.8M521.0 101.3h0.8M521.0 103.0h0.8M521.0 104.4h0.8M521.0 105.5h0.8M521.0 108.3h0.8M521.0 110.8h0.8M521.0 111.8h0.8M521.0 112.6h0.8M521.0 113.9h0.8M521.0 115.5h0.8M522.0 29.0h0.8M522.0 35.6h0.8M522.0 38.8h0.8M522.0 44.8h0.8M522.0 47.4h0.8M522.0 50.6h0.8M522.0 52.4h0.8M522.0 62.8h0.8M522.0 67.3h0.8M522.0 68.5h0.8M522.0 68.9h0.8M522.0 73.1h0.8M522.0 76.1h0.8M522.0 76.8h0.8M522.0 79.2h0.8M522.0 82.0h0.8M522.0 83.4h0.8M522.0 83.9h0.8M522.0 85.9h0.8M522.0 87.6h0.8M522.0 91.1h0.8M522.0 94.3h0.8M522.0 96.3h0.8M522.0 97.4h0.8M522.0 99.8h0.8M522.0 102.5h0.8M522.0 102.9h0.8M522.0 104.4h0.8M522.0 106.1h0.8M522.0 107.0h0.8M522.0 109.9h0.8M522.0 111.2h0.8M522.0 113.3h0.8M523.0 30.9h0.8M523.0 31.0h0.8M523.0 35.7h0.8M523.0 36.9h0.8M523.0 39.6h0.8M523.0 44.7h0.8M523.0 48.8h0.8M523.0 49.2h0.8M523.0 50.3h0.8M523.0 53.7h0.8M523.0 54.9h0.8M523.0 57.9h0.8M523.0 59.6h0.8M523.0 63.8h0.8M523.0 65.9h0.8M523.0 66.7h0.8M523.0 67.8h0.8M523.0 68.4h0.8M523.0 70.0h0.8M523.0 73.5h0.8M523.0 77.1h0.8M523.0 80.3h0.8M523.0 83.1h0.8M523.0 85.7h0.8M523.0 86.3h0.8M523.0 87.0h0.8M523.0 90.2h0.8M523.0 91.7h0.8M523.0 95.4h0.8M523.0 96.1h0.8M523.0 97.2h0.8M523.0 99.9h0.8M523.0 100.7h0.8M523.0 101.3h0.8M523.0 102.6h0.8M523.0 103.3h0.8M523.0 104.0h0.8M523.0 105.2h0.8M523.0 107.8h0.8M523.0 110.1h0.8M523.0 113.7h0.8M523.0 114.0h0.8M524.0 25.0h0.8M524.0 28.4h0.8M524.0 29.8h0.8M524.0 33.9h0.8M524.0 35.0h0.8M524.0 38.7h0.8M524.0 41.8h0.8M524.0 51.5h0.8M524.0 52.9h0.8M524.0 55.4h0.8M524.0 58.2h0.8M524.0 63.9h0.8M524.0 68.4h0.8M524.0 70.6h0.8M524.0 72.2h0.8M524.0 72.5h0.8M524.0 74.8h0.8M524.0 77.8h0.8M524.0 81.5h0.8M524.0 82.4h0.8M524.0 84.5h0.8M524.0 85.7h0.8M524.0 87.1h0.8M524.0 91.6h0.8M524.0 92.8h0.8M524.0 95.0h0.8M524.0 97.8h0.8M524.0 98.4h0.8M524.0 100.0h0.8M524.0 101.4h0.8M524.0 102.3h0.8M524.0 103.6h0.8M524.0 104.6h0.8M524.0 106.0h0.8M524.0 108.7h0.8M524.0 110.2h0.8M524.0 111.4h0.8M524.0 112.4h0.8M524.0 114.1h0.8M525.0 27.7h0.8M525.0 30.3h0.8M525.0 32.2h0.8M525.0 46.6h0.8M525.0 47.1h0.8M525.0 50.9h0.8M525.0 52.0h0.8M525.0 63.5h0.8M525.0 65.9h0.8M525.0 66.3h0.8M525.0 68.0h0.8M525.0 70.0h0.8M525.0 72.6h0.8M525.0 73.9h0.8M525.0 74.8h0.8M525.0 75.5h0.8M525.0 76.8h0.8M525.0 78.8h0.8M525.0 80.3h0.8M525.0 82.5h0.8M525.0 89.3h0.8M525.0 90.5h0.8M525.0 92.6h0.8M525.0 95.1h0.8M525.0 96.3h0.8M525.0 97.9h0.8M525.0 98.7h0.8M525.0 99.0h0.8M525.0 100.8h0.8M525.0 103.8h0.8M525.0 104.4h0.8M525.0 106.0h0.8M525.0 107.0h0.8M525.0 107.7h0.8M525.0 108.3h0.8M525.0 110.6h0.8M525.0 111.4h0.8M525.0 114.1h0.8M526.0 31.4h0.8M526.0 32.9h0.8M526.0 37.1h0.8M526.0 38.3h0.8M526.0 44.3h0.8M526.0 45.2h0.8M526.0 48.8h0.8M526.0 50.9h0.8M526.0 54.6h0.8M526.0 58.5h0.8M526.0 60.5h0.8M526.0 65.9h0.8M526.0 66.3h0.8M526.0 68.9h0.8M526.0 69.6h0.8M526.0 70.7h0.8M526.0 71.5h0.8M526.0 73.5h0.8M526.0 76.6h0.8M526.0 80.5h0.8M526.0 82.2h0.8M526.0 86.7h0.8M526.0 87.3h0.8M526.0 88.5h0.8M526.0 89.1h0.8M526.0 91.4h0.8M526.0 93.7h0.8M526.0 94.5h0.8M526.0 95.4h0.8M526.0 99.1h0.8M526.0 100.7h0.8M526.0 103.4h0.8M526.0 104.8h0.8M526.0 105.9h0.8M526.0 106.8h0.8M526.0 107.6h0.8M526.0 108.6h0.8M526.0 109.3h0.8M526.0 111.0h0.8M526.0 112.8h0.8M526.0 113.1h0.8M527.0 26.1h0.8M527.0 28.0h0.8M527.0 33.2h0.8M527.0 35.6h0.8M527.0 38.5h0.8M527.0 39.0h0.8M527.0 40.5h0.8M527.0 42.0h0.8M527.0 48.6h0.8M527.0 56.3h0.8M527.0 57.6h0.8M527.0 59.8h0.8M527.0 65.3h0.8M527.0 66.8h0.8M527.0 70.8h0.8M527.0 72.9h0.8M527.0 73.0h0.8M527.0 74.2h0.8M527.0 75.9h0.8M527.0 77.9h0.8M527.0 78.0h0.8M527.0 80.5h0.8M527.0 82.9h0.8M527.0 83.1h0.8M527.0 86.6h0.8M527.0 91.0h0.8M527.0 94.5h0.8M527.0 99.9h0.8M527.0 100.7h0.8M527.0 101.8h0.8M527.0 103.3h0.8M527.0 104.4h0.8M527.0 106.2h0.8M527.0 107.0h0.8M527.0 111.0h0.8M527.0 111.9h0.8M527.0 113.4h0.8M527.0 114.2h0.8M528.0 30.5h0.8M528.0 36.2h0.8M528.0 37.9h0.8M528.0 42.8h0.8M528.0 54.9h0.8M528.0 56.2h0.8M528.0 59.0h0.8M528.0 61.5h0.8M528.0 64.2h0.8M528.0 73.5h0.8M528.0 77.4h0.8M528.0 81.7h0.8M528.0 107.9h0.8M528.0 109.9h0.8M528.0 113.1h0.8M528.0 114.4h0.8M529.0 24.8h0.8M529.0 27.2h0.8M529.0 31.1h0.8M529.0 46.3h0.8M529.0 68.5h0.8M529.0 73.0h0.8M529.0 77.8h0.8M529.0 82.4h0.8M529.0 92.4h0.8M529.0 94.4h0.8M529.0 98.9h0.8M529.0 103.6h0.8M529.0 104.1h0.8M529.0 105.5h0.8M529.0 106.3h0.8M529.0 108.5h0.8M530.0 26.2h0.8M530.0 27.2h0.8M530.0 31.8h0.8M530.0 39.6h0.8M530.0 52.2h0.8M530.0 56.2h0.8M530.0 57.1h0.8M530.0 60.3h0.8M530.0 65.0h0.8M530.0 72.6h0.8M530.0 74.2h0.8M530.0 84.1h0.8M530.0 86.0h0.8M530.0 97.2h0.8M530.0 100.7h0.8M530.0 110.6h0.8M531.0 29.2h0.8M531.0 31.5h0.8M531.0 33.5h0.8M531.0 38.9h0.8M531.0 48.7h0.8M531.0 49.3h0.8M531.0 55.2h0.8M531.0 56.2h0.8M531.0 57.7h0.8M531.0 67.1h0.8M531.0 79.7h0.8M531.0 82.7h0.8M531.0 90.7h0.8M531.0 94.3h0.8M531.0 96.2h0.8M531.0 106.2h0.8M532.0 26.3h0.8M532.0 37.9h0.8M532.0 39.0h0.8M532.0 45.8h0.8M532.0 46.5h0.8M532.0 49.3h0.8M532.0 51.3h0.8M532.0 56.6h0.8M532.0 86.3h0.8M532.0 89.3h0.8M532.0 94.4h0.8M532.0 103.4h0.8M532.0 108.2h0.8M532.0 112.3h0.8M533.0 26.7h0.8M533.0 49.9h0.8M533.0 50.8h0.8M533.0 52.1h0.8M533.0 59.0h0.8M533.0 67.9h0.8M533.0 70.8h0.8M533.0 82.3h0.8M533.0 89.6h0.8M533.0 98.0h0.8M533.0 101.4h0.8M533.0 102.5h0.8M533.0 107.1h0.8M533.0 112.5h0.8M534.0 26.5h0.8M534.0 27.8h0.8M534.0 34.4h0.8M534.0 61.0h0.8M534.0 63.8h0.8M534.0 69.3h0.8M534.0 76.7h0.8M534.0 87.6h0.8M534.0 95.7h0.8M534.0 101.0h0.8M534.0 103.5h0.8M534.0 113.7h0.8M535.0 37.2h0.8M535.0 42.8h0.8M535.0 53.4h0.8M535.0 56.0h0.8M535.0 61.3h0.8M535.0 69.4h0.8M535.0 70.8h0.8M535.0 72.0h0.8M535.0 74.4h0.8M535.0 75.8h0.8M535.0 78.7h0.8M535.0 79.7h0.8M535.0 95.8h0.8M535.0 98.0h0.8M535.0 109.1h0.8M535.0 110.9h0.8" stroke="#111" stroke-width="0.8" fill="none"/>
<rect x="399.6" y="21.7" width="139.3" height="99.2" fill="none" stroke="#111" stroke-width="2.2"/>
<text x="404.7" y="38.8" font-size="13" fill="#000" stroke="#000" stroke-width="0.3" textLength="60" lengthAdjust="spacingAndGlyphs">Numerical</text>
<text x="412.6" y="55.3" font-size="13" fill="#000" stroke="#000" stroke-width="0.3" textLength="39.6" lengthAdjust="spacingAndGlyphs">Theory</text>
<text x="397.3" y="138.4" font-size="13" fill="#c0303c" stroke="#c0303c" stroke-width="0.3" textLength="97.2" lengthAdjust="spacingAndGlyphs">Neimark Sacker-</text>
<text x="407.8" y="157.7" font-size="13" fill="#c0303c" stroke="#c0303c" stroke-width="0.3" textLength="64.3" lengthAdjust="spacingAndGlyphs">Bifurcation</text>
<path d="M477 142.4L490.5 150.9" fill="none" stroke="#f02020" stroke-width="1.7"/>
<path d="M499.8 156.8L488.4 154.2L492.6 147.6Z" fill="#f02020"/>
<text x="377.2" y="177.7" font-size="13" fill="#17964a" stroke="#17964a" stroke-width="0.3" textLength="32.6" lengthAdjust="spacingAndGlyphs">Hopf-</text>
<text x="361.6" y="193.8" font-size="13" fill="#17964a" stroke="#17964a" stroke-width="0.3" textLength="64.2" lengthAdjust="spacingAndGlyphs">Bifurcation</text>
<path d="M395.5 199.6L409.4 208.2" fill="none" stroke="#17964a" stroke-width="1.7"/>
<path d="M418.8 214L407.4 211.5L411.5 204.9Z" fill="#17964a"/>
<text x="415.2" y="206.2" font-size="15" fill="#f01818" stroke="#f01818" stroke-width="0.3">A</text>
<text x="445.4" y="191" font-size="15" fill="#f01818" stroke="#f01818" stroke-width="0.3">B</text>
<text x="465.2" y="169.1" font-size="15" fill="#f01818" stroke="#f01818" stroke-width="0.3">C</text>
<text x="494.5" y="149.8" font-size="15" fill="#f01818" stroke="#f01818" stroke-width="0.3">D</text>
<text x="514.5" y="134.9" font-size="15" fill="#f01818" stroke="#f01818" stroke-width="0.3">E</text>
<text x="548.3" y="109.8" font-size="15" fill="#f01818" stroke="#f01818" stroke-width="0.3">F</text>
<text x="583.2" y="82.7" font-size="15" fill="#f01818" stroke="#f01818" stroke-width="0.3">G</text>
<text x="614.1" y="59.9" font-size="15" fill="#f01818" stroke="#f01818" stroke-width="0.3">H</text>
<rect x="44.5" y="261.7" width="290.5" height="158.6" fill="none" stroke="#222" stroke-width="1.2"/>
<path d="M44.5 421h4M44.5 371.8h4M44.5 322.6h4M44.5 273.4h4" fill="none" stroke="#222" stroke-width="1.2"/>
<path d="M44.5 396.4h2M44.5 347.2h2M44.5 298h2" fill="none" stroke="#222" stroke-width="1.2"/>
<path d="M335 396.4h-4M335 371.8h-4M335 347.2h-4M335 322.6h-4M335 298h-4M335 273.4h-4" fill="none" stroke="#222" stroke-width="1.2"/>
<path d="M68.5 420.3v-4M165.4 420.3v-4M262.1 420.3v-4" fill="none" stroke="#222" stroke-width="1.2"/>
<path d="M117.1 420.3v-2M213.7 420.3v-2M309.5 420.3v-2" fill="none" stroke="#222" stroke-width="1.2"/>
<path d="M68.5 261.7v4M165.4 261.7v4M262.1 261.7v4" fill="none" stroke="#222" stroke-width="1.2"/>
<path d="M117.4 261.7v2M213.7 261.7v2M309.5 261.7v2" fill="none" stroke="#222" stroke-width="1.2"/>
<text x="42" y="425.3" font-size="13" fill="#000" stroke="#000" stroke-width="0.3" text-anchor="end">-6</text>
<text x="42" y="376.1" font-size="13" fill="#000" stroke="#000" stroke-width="0.3" text-anchor="end">0</text>
<text x="42" y="326.9" font-size="13" fill="#000" stroke="#000" stroke-width="0.3" text-anchor="end">6</text>
<text x="42" y="277.7" font-size="13" fill="#000" stroke="#000" stroke-width="0.3" text-anchor="end">12</text>
<text x="68.5" y="432.7" font-size="13.8" fill="#000" stroke="#000" stroke-width="0.3" text-anchor="middle">0</text>
<text x="165.4" y="432.7" font-size="13.8" fill="#000" stroke="#000" stroke-width="0.3" text-anchor="middle">3</text>
<text x="261.5" y="432.7" font-size="13.8" fill="#000" stroke="#000" stroke-width="0.3" text-anchor="middle">6</text>
<text x="335" y="432.7" font-size="13.8" fill="#000" stroke="#000" stroke-width="0.3" text-anchor="middle">8</text>
<text x="205" y="434" font-size="13" fill="#000" stroke="#000" stroke-width="0.3" text-anchor="middle">β</text>
<text x="15" y="251" font-size="1" fill="#000" stroke="#000" stroke-width="0.3"></text>
<text x="37.1" y="262" font-size="12.5" fill="#000" stroke="#000" stroke-width="0.3" text-anchor="end" textLength="22.2" lengthAdjust="spacingAndGlyphs">(a1)</text>
<text x="16.6" y="346.7" font-size="16" fill="#000" stroke="#000" stroke-width="0.3" text-anchor="middle" textLength="132.5" lengthAdjust="spacingAndGlyphs" transform="rotate(-90 16.6 346.7)">Lyapunov exponent</text>
<path d="M46 371.8H327.8" fill="none" stroke="#222" stroke-width="1" stroke-dasharray="1.5 1.5"/>
<defs>
<radialGradient id="gP" cx="0.38" cy="0.32" r="0.7"><stop offset="0" stop-color="#ffffff"/><stop offset="0.16" stop-color="#e0c4ff"/><stop offset="0.38" stop-color="#9645ee"/><stop offset="1" stop-color="#8234dc"/></radialGradient>
<radialGradient id="gS" cx="0.38" cy="0.32" r="0.7"><stop offset="0" stop-color="#ffffff"/><stop offset="0.16" stop-color="#ffd0d0"/><stop offset="0.38" stop-color="#f36868"/><stop offset="1" stop-color="#e65454"/></radialGradient>
</defs>
<path d="M67.3 395.2L70.0 394.0L72.5 393.5L75.0 393.0L77.5 394.0L80.0 393.2L82.5 394.2L85.0 393.0L87.5 393.8L90.0 393.0L92.5 394.0L95.0 392.5L97.5 391.5L100.0 391.0L102.5 391.5L105.0 393.0L107.5 394.0L110.0 394.2L112.5 394.0L115.0 393.5L117.0 390.5L119.5 390.0L122.0 390.5L124.5 390.0L127.0 390.0L129.5 390.0L132.0 390.0L134.5 390.0L137.0 390.0L140.0 390.1L140.5 361.9L143.2 356.8L145.5 343.0L148.3 331.4L150.6 319.6L152.0 316.0L155.0 314.0L158.0 318.0L160.5 319.0L163.0 317.0L166.0 313.0L169.0 311.0L172.0 313.0L175.0 314.0L178.0 312.0L181.0 311.0L184.0 310.0L187.0 308.0L190.0 309.5L191.8 345.5L194.3 364.4L196.5 370.0L199.0 372.0L201.5 372.0L204.0 372.0L206.5 372.0L209.0 372.0L212.0 372.0L213.4 347.8L216.3 333.5L218.5 321.0L220.5 308.3L223.0 307.5L226.0 307.0L229.0 306.0L232.0 305.5L235.0 305.0L238.0 304.0L241.0 304.0L244.0 303.0L247.6 303.2L250.1 371.6L252.5 371.6L255.0 371.6L257.5 371.6L260.0 371.6L263.3 371.6L264.6 324.7L267.0 310.9L269.4 299.1L271.2 293.0L274.0 289.5L277.0 288.0L280.0 287.0L282.5 287.5L284.5 287.9L286.3 371.4L288.5 371.4L290.5 371.4L292.8 371.4L293.7 286.2L296.0 285.0L299.0 284.5L302.0 284.0L305.0 283.5L308.0 282.5L310.3 282.0" fill="none" stroke="#9a48ee" stroke-width="1.5"/>
<g fill="url(#gP)"><circle cx="70.0" cy="394.0" r="3.4"/><circle cx="72.5" cy="393.5" r="3.4"/><circle cx="75.0" cy="393.0" r="3.4"/><circle cx="77.5" cy="394.0" r="3.4"/><circle cx="80.0" cy="393.2" r="3.4"/><circle cx="82.5" cy="394.2" r="3.4"/><circle cx="85.0" cy="393.0" r="3.4"/><circle cx="87.5" cy="393.8" r="3.4"/><circle cx="90.0" cy="393.0" r="3.4"/><circle cx="92.5" cy="394.0" r="3.4"/><circle cx="95.0" cy="392.5" r="3.4"/><circle cx="97.5" cy="391.5" r="3.4"/><circle cx="100.0" cy="391.0" r="3.4"/><circle cx="102.5" cy="391.5" r="3.4"/><circle cx="105.0" cy="393.0" r="3.4"/><circle cx="107.5" cy="394.0" r="3.4"/><circle cx="110.0" cy="394.2" r="3.4"/><circle cx="112.5" cy="394.0" r="3.4"/><circle cx="115.0" cy="393.5" r="3.4"/><circle cx="117.0" cy="390.5" r="3.4"/><circle cx="119.5" cy="390.0" r="3.4"/><circle cx="122.0" cy="390.5" r="3.4"/><circle cx="124.5" cy="390.0" r="3.4"/><circle cx="127.0" cy="390.0" r="3.4"/><circle cx="129.5" cy="390.0" r="3.4"/><circle cx="132.0" cy="390.0" r="3.4"/><circle cx="134.5" cy="390.0" r="3.4"/><circle cx="137.0" cy="390.0" r="3.4"/><circle cx="140.0" cy="390.1" r="3.4"/><circle cx="140.5" cy="361.9" r="3.4"/><circle cx="143.2" cy="356.8" r="3.4"/><circle cx="145.5" cy="343.0" r="3.4"/><circle cx="148.3" cy="331.4" r="3.4"/><circle cx="150.6" cy="319.6" r="3.4"/><circle cx="152.0" cy="316.0" r="3.4"/><circle cx="155.0" cy="314.0" r="3.4"/><circle cx="158.0" cy="318.0" r="3.4"/><circle cx="160.5" cy="319.0" r="3.4"/><circle cx="163.0" cy="317.0" r="3.4"/><circle cx="166.0" cy="313.0" r="3.4"/><circle cx="169.0" cy="311.0" r="3.4"/><circle cx="172.0" cy="313.0" r="3.4"/><circle cx="175.0" cy="314.0" r="3.4"/><circle cx="178.0" cy="312.0" r="3.4"/><circle cx="181.0" cy="311.0" r="3.4"/><circle cx="184.0" cy="310.0" r="3.4"/><circle cx="187.0" cy="308.0" r="3.4"/><circle cx="190.0" cy="309.5" r="3.4"/><circle cx="191.8" cy="345.5" r="3.4"/><circle cx="194.3" cy="364.4" r="3.4"/><circle cx="196.5" cy="370.0" r="3.4"/><circle cx="199.0" cy="372.0" r="3.4"/><circle cx="201.5" cy="372.0" r="3.4"/><circle cx="204.0" cy="372.0" r="3.4"/><circle cx="206.5" cy="372.0" r="3.4"/><circle cx="209.0" cy="372.0" r="3.4"/><circle cx="212.0" cy="372.0" r="3.4"/><circle cx="213.4" cy="347.8" r="3.4"/><circle cx="216.3" cy="333.5" r="3.4"/><circle cx="218.5" cy="321.0" r="3.4"/><circle cx="220.5" cy="308.3" r="3.4"/><circle cx="223.0" cy="307.5" r="3.4"/><circle cx="226.0" cy="307.0" r="3.4"/><circle cx="229.0" cy="306.0" r="3.4"/><circle cx="232.0" cy="305.5" r="3.4"/><circle cx="235.0" cy="305.0" r="3.4"/><circle cx="238.0" cy="304.0" r="3.4"/><circle cx="241.0" cy="304.0" r="3.4"/><circle cx="244.0" cy="303.0" r="3.4"/><circle cx="247.6" cy="303.2" r="3.4"/><circle cx="250.1" cy="371.6" r="3.4"/><circle cx="252.5" cy="371.6" r="3.4"/><circle cx="255.0" cy="371.6" r="3.4"/><circle cx="257.5" cy="371.6" r="3.4"/><circle cx="260.0" cy="371.6" r="3.4"/><circle cx="263.3" cy="371.6" r="3.4"/><circle cx="264.6" cy="324.7" r="3.4"/><circle cx="267.0" cy="310.9" r="3.4"/><circle cx="269.4" cy="299.1" r="3.4"/><circle cx="271.2" cy="293.0" r="3.4"/><circle cx="274.0" cy="289.5" r="3.4"/><circle cx="277.0" cy="288.0" r="3.4"/><circle cx="280.0" cy="287.0" r="3.4"/><circle cx="282.5" cy="287.5" r="3.4"/><circle cx="284.5" cy="287.9" r="3.4"/><circle cx="286.3" cy="371.4" r="3.4"/><circle cx="288.5" cy="371.4" r="3.4"/><circle cx="290.5" cy="371.4" r="3.4"/><circle cx="292.8" cy="371.4" r="3.4"/><circle cx="293.7" cy="286.2" r="3.4"/><circle cx="296.0" cy="285.0" r="3.4"/><circle cx="299.0" cy="284.5" r="3.4"/><circle cx="302.0" cy="284.0" r="3.4"/><circle cx="305.0" cy="283.5" r="3.4"/><circle cx="308.0" cy="282.5" r="3.4"/><circle cx="310.3" cy="282.0" r="3.4"/></g>
<g fill="#fff" stroke="#ee1111" stroke-width="2.2"><circle cx="67.3" cy="395.2" r="3.4"/><circle cx="121.2" cy="391.5" r="3.4"/><circle cx="143.5" cy="344.1" r="3.4"/><circle cx="225.6" cy="306.9" r="3.4"/></g>
<rect x="393" y="259.2" width="287.2" height="157.8" fill="none" stroke="#222" stroke-width="1.2"/>
<path d="M393 417h4M393 368.6h4M393 320.2h4M393 271.8h4" fill="none" stroke="#222" stroke-width="1.2"/>
<path d="M393 392.8h2M393 344.4h2M393 296h2" fill="none" stroke="#222" stroke-width="1.2"/>
<path d="M680.2 392.8h-4M680.2 368.6h-4M680.2 344.4h-4M680.2 320.2h-4M680.2 296h-4M680.2 271.8h-4" fill="none" stroke="#222" stroke-width="1.2"/>
<path d="M416.6 417v-4M512.5 417v-4M608.4 417v-4" fill="none" stroke="#222" stroke-width="1.2"/>
<path d="M464.5 417v-2M560.5 417v-2M656.3 417v-2" fill="none" stroke="#222" stroke-width="1.2"/>
<path d="M416.6 259.2v4M512.5 259.2v4M608.4 259.2v4" fill="none" stroke="#222" stroke-width="1.2"/>
<path d="M464.5 259.2v2M560.5 259.2v2M656.3 259.2v2" fill="none" stroke="#222" stroke-width="1.2"/>
<text x="388" y="419.3" font-size="13" fill="#000" stroke="#000" stroke-width="0.3" text-anchor="end">-6</text>
<text x="388" y="372.9" font-size="13" fill="#000" stroke="#000" stroke-width="0.3" text-anchor="end">0</text>
<text x="388" y="324.5" font-size="13" fill="#000" stroke="#000" stroke-width="0.3" text-anchor="end">4</text>
<text x="390.5" y="276.1" font-size="13" fill="#000" stroke="#000" stroke-width="0.3" text-anchor="end">12</text>
<text x="417.2" y="429.5" font-size="13.8" fill="#000" stroke="#000" stroke-width="0.3" text-anchor="middle">0</text>
<text x="512.5" y="429.5" font-size="13.8" fill="#000" stroke="#000" stroke-width="0.3" text-anchor="middle">3</text>
<text x="608.4" y="429.5" font-size="13.8" fill="#000" stroke="#000" stroke-width="0.3" text-anchor="middle">6</text>
<text x="679.6" y="429.5" font-size="13.8" fill="#000" stroke="#000" stroke-width="0.3" text-anchor="middle">8</text>
<text x="551" y="433" font-size="13" fill="#000" stroke="#000" stroke-width="0.3" text-anchor="middle">β</text>
<text x="387.9" y="262.7" font-size="12.5" fill="#000" stroke="#000" stroke-width="0.3" text-anchor="end" textLength="23.9" lengthAdjust="spacingAndGlyphs">(b1)</text>
<text x="360.7" y="346.5" font-size="16" fill="#000" stroke="#000" stroke-width="0.3" text-anchor="middle" textLength="132.5" lengthAdjust="spacingAndGlyphs" transform="rotate(-90 360.7 346.5)">Lyapunov exponent</text>
<path d="M394 368.6H680" fill="none" stroke="#222" stroke-width="1" stroke-dasharray="1.5 1.5"/>
<path d="M421.0 390.0L423.5 392.5L426.0 389.5L428.5 393.0L431.0 390.0L433.5 393.0L436.0 390.5L438.5 393.5L441.0 390.5L443.5 393.0L446.0 390.0L448.5 392.5L451.0 389.5L453.5 392.5L456.0 389.0L458.5 392.0L461.0 389.0L463.5 391.5L466.0 388.5L468.5 391.5L471.0 388.0L473.5 391.0L476.0 388.0L478.5 390.5L481.0 388.5L483.5 391.0L485.8 393.0L488.5 390.0L490.5 393.0L492.5 390.7L495.5 382.9L497.2 364.5L499.9 355.7L502.5 350.4L504.8 342.2L507.2 331.2L509.5 321.5L512.1 310.1L514.0 309.0L517.0 308.5L520.0 308.0L523.0 307.0L526.0 311.0L528.5 312.0L531.0 307.0L534.0 304.0L537.0 303.0L540.0 305.0L543.0 308.0L546.0 310.0L549.0 308.0L552.0 307.0L555.0 306.0L558.0 305.0L561.0 305.0L564.0 305.5L567.0 305.0L570.0 303.0L573.0 302.0L576.0 302.0L579.0 301.0L582.0 299.5L586.2 299.5L588.5 312.7L591.0 324.2L593.3 334.0L595.0 367.2L597.5 367.2L600.0 367.2L602.5 367.2L605.0 367.2L607.0 367.2L609.2 367.2L610.0 346.7L612.7 321.2L615.0 309.2L617.1 307.1L619.8 288.0L622.0 286.0L625.0 285.0L628.0 284.0L631.0 283.0L634.0 282.5L637.0 281.5L640.0 281.0L643.0 281.0L646.0 281.0L648.1 286.2L650.0 280.5L652.5 279.1L656.0 278.3" fill="none" stroke="#f06a6a" stroke-width="1.5"/>
<g fill="url(#gS)"><circle cx="421.0" cy="390.0" r="3.4"/><circle cx="423.5" cy="392.5" r="3.4"/><circle cx="426.0" cy="389.5" r="3.4"/><circle cx="428.5" cy="393.0" r="3.4"/><circle cx="431.0" cy="390.0" r="3.4"/><circle cx="433.5" cy="393.0" r="3.4"/><circle cx="436.0" cy="390.5" r="3.4"/><circle cx="438.5" cy="393.5" r="3.4"/><circle cx="441.0" cy="390.5" r="3.4"/><circle cx="443.5" cy="393.0" r="3.4"/><circle cx="446.0" cy="390.0" r="3.4"/><circle cx="448.5" cy="392.5" r="3.4"/><circle cx="451.0" cy="389.5" r="3.4"/><circle cx="453.5" cy="392.5" r="3.4"/><circle cx="456.0" cy="389.0" r="3.4"/><circle cx="458.5" cy="392.0" r="3.4"/><circle cx="461.0" cy="389.0" r="3.4"/><circle cx="463.5" cy="391.5" r="3.4"/><circle cx="466.0" cy="388.5" r="3.4"/><circle cx="468.5" cy="391.5" r="3.4"/><circle cx="471.0" cy="388.0" r="3.4"/><circle cx="473.5" cy="391.0" r="3.4"/><circle cx="476.0" cy="388.0" r="3.4"/><circle cx="478.5" cy="390.5" r="3.4"/><circle cx="481.0" cy="388.5" r="3.4"/><circle cx="483.5" cy="391.0" r="3.4"/><circle cx="485.8" cy="393.0" r="3.4"/><circle cx="488.5" cy="390.0" r="3.4"/><circle cx="490.5" cy="393.0" r="3.4"/><circle cx="492.5" cy="390.7" r="3.4"/><circle cx="495.5" cy="382.9" r="3.4"/><circle cx="497.2" cy="364.5" r="3.4"/><circle cx="499.9" cy="355.7" r="3.4"/><circle cx="502.5" cy="350.4" r="3.4"/><circle cx="504.8" cy="342.2" r="3.4"/><circle cx="507.2" cy="331.2" r="3.4"/><circle cx="509.5" cy="321.5" r="3.4"/><circle cx="512.1" cy="310.1" r="3.4"/><circle cx="514.0" cy="309.0" r="3.4"/><circle cx="517.0" cy="308.5" r="3.4"/><circle cx="520.0" cy="308.0" r="3.4"/><circle cx="523.0" cy="307.0" r="3.4"/><circle cx="526.0" cy="311.0" r="3.4"/><circle cx="528.5" cy="312.0" r="3.4"/><circle cx="531.0" cy="307.0" r="3.4"/><circle cx="534.0" cy="304.0" r="3.4"/><circle cx="537.0" cy="303.0" r="3.4"/><circle cx="540.0" cy="305.0" r="3.4"/><circle cx="543.0" cy="308.0" r="3.4"/><circle cx="546.0" cy="310.0" r="3.4"/><circle cx="549.0" cy="308.0" r="3.4"/><circle cx="552.0" cy="307.0" r="3.4"/><circle cx="555.0" cy="306.0" r="3.4"/><circle cx="558.0" cy="305.0" r="3.4"/><circle cx="561.0" cy="305.0" r="3.4"/><circle cx="564.0" cy="305.5" r="3.4"/><circle cx="567.0" cy="305.0" r="3.4"/><circle cx="570.0" cy="303.0" r="3.4"/><circle cx="573.0" cy="302.0" r="3.4"/><circle cx="576.0" cy="302.0" r="3.4"/><circle cx="579.0" cy="301.0" r="3.4"/><circle cx="582.0" cy="299.5" r="3.4"/><circle cx="586.2" cy="299.5" r="3.4"/><circle cx="588.5" cy="312.7" r="3.4"/><circle cx="591.0" cy="324.2" r="3.4"/><circle cx="593.3" cy="334.0" r="3.4"/><circle cx="595.0" cy="367.2" r="3.4"/><circle cx="597.5" cy="367.2" r="3.4"/><circle cx="600.0" cy="367.2" r="3.4"/><circle cx="602.5" cy="367.2" r="3.4"/><circle cx="605.0" cy="367.2" r="3.4"/><circle cx="607.0" cy="367.2" r="3.4"/><circle cx="609.2" cy="367.2" r="3.4"/><circle cx="610.0" cy="346.7" r="3.4"/><circle cx="612.7" cy="321.2" r="3.4"/><circle cx="615.0" cy="309.2" r="3.4"/><circle cx="617.1" cy="307.1" r="3.4"/><circle cx="619.8" cy="288.0" r="3.4"/><circle cx="622.0" cy="286.0" r="3.4"/><circle cx="625.0" cy="285.0" r="3.4"/><circle cx="628.0" cy="284.0" r="3.4"/><circle cx="631.0" cy="283.0" r="3.4"/><circle cx="634.0" cy="282.5" r="3.4"/><circle cx="637.0" cy="281.5" r="3.4"/><circle cx="640.0" cy="281.0" r="3.4"/><circle cx="643.0" cy="281.0" r="3.4"/><circle cx="646.0" cy="281.0" r="3.4"/><circle cx="648.1" cy="286.2" r="3.4"/><circle cx="650.0" cy="280.5" r="3.4"/><circle cx="652.5" cy="279.1" r="3.4"/><circle cx="656.0" cy="278.3" r="3.4"/></g>
<g fill="#fff" stroke="#a040f0" stroke-width="2.2"><circle cx="418.4" cy="392.5" r="3.4"/><circle cx="480.9" cy="389" r="3.4"/><circle cx="504.8" cy="342.2" r="3.4"/><circle cx="565" cy="306" r="3.4"/></g>
<rect x="46.9" y="456.4" width="124.3" height="65" fill="none" stroke="#333" stroke-width="1.8"/>
<path d="M46.9 469.4h3M46.9 492.8h3M46.9 516.2h3" fill="none" stroke="#222" stroke-width="1.2"/>
<path d="M46.9 481.1h2M46.9 504.5h2" fill="none" stroke="#222" stroke-width="1.2"/>
<path d="M55.5 521.4v-3M108.8 521.4v-3M162.5 521.4v-3" fill="none" stroke="#222" stroke-width="1.2"/>
<text x="44" y="473.7" font-size="13" fill="#000" stroke="#000" stroke-width="0.3" text-anchor="end">2.0</text>
<text x="44" y="497.1" font-size="13" fill="#000" stroke="#000" stroke-width="0.3" text-anchor="end">1.0</text>
<text x="44" y="520.5" font-size="13" fill="#000" stroke="#000" stroke-width="0.3" text-anchor="end">0</text>
<text x="55.7" y="534.1" font-size="13.8" fill="#000" stroke="#000" stroke-width="0.3" text-anchor="middle">0</text>
<text x="108.5" y="534.1" font-size="13.8" fill="#000" stroke="#000" stroke-width="0.3" text-anchor="middle">30</text>
<text x="162.9" y="534.1" font-size="13.8" fill="#000" stroke="#000" stroke-width="0.3" text-anchor="middle">60</text>
<text x="40" y="455.5" font-size="12.5" fill="#000" stroke="#000" stroke-width="0.3" text-anchor="end" textLength="23" lengthAdjust="spacingAndGlyphs">(a2)</text>
<text x="12" y="538.5" font-size="15.5" fill="#000" stroke="#000" stroke-width="0.3" text-anchor="middle" textLength="127.5" lengthAdjust="spacingAndGlyphs" transform="rotate(-90 12 538.5)">Re(amplitude(a.u))</text>
<path d="M55.4 515.7V464H162.7" fill="none" stroke="#a24ef0" stroke-width="1.8"/>
<path d="M61.1 472.1Q68.7 471.3 76.3 472.1" fill="none" stroke="#f0a0b8" stroke-width="1.5"/>
<path d="M61.1 485.4Q68.7 484.59999999999997 76.3 485.4" fill="none" stroke="#e0306a" stroke-width="1.5"/>
<path d="M61.1 498.7Q68.7 497.9 76.3 498.7" fill="none" stroke="#a02a66" stroke-width="1.5"/>
<path d="M62 511.4Q69.65 510.59999999999997 77.3 511.4" fill="none" stroke="#f020e0" stroke-width="1.5"/>
<path d="M113.3 475.5Q120.9 474.7 128.5 475.5" fill="none" stroke="#20e0e8" stroke-width="1.5"/>
<path d="M113.3 492.6Q120.9 491.8 128.5 492.6" fill="none" stroke="#222222" stroke-width="1.5"/>
<path d="M113.3 506.6Q120.9 505.8 128.5 506.6" fill="none" stroke="#2a3af0" stroke-width="1.5"/>
<text x="82" y="475.9" font-size="12.5" fill="#000" stroke="#000" stroke-width="0.3" textLength="19.4" lengthAdjust="spacingAndGlyphs">5ns</text>
<text x="80.7" y="489.2" font-size="12.5" fill="#000" stroke="#000" stroke-width="0.3" textLength="25.4" lengthAdjust="spacingAndGlyphs">50ns</text>
<text x="78.8" y="502.8" font-size="12.5" fill="#000" stroke="#000" stroke-width="0.3" textLength="25" lengthAdjust="spacingAndGlyphs">10us</text>
<text x="78.8" y="514.2" font-size="12.5" fill="#000" stroke="#000" stroke-width="0.3" textLength="24.7" lengthAdjust="spacingAndGlyphs">15us</text>
<text x="134.2" y="479.7" font-size="12.5" fill="#000" stroke="#000" stroke-width="0.3" textLength="29.4" lengthAdjust="spacingAndGlyphs">10dB</text>
<text x="134.2" y="497.7" font-size="12.5" fill="#000" stroke="#000" stroke-width="0.3" textLength="29.4" lengthAdjust="spacingAndGlyphs">15dB</text>
<text x="134.2" y="511.6" font-size="12.5" fill="#000" stroke="#000" stroke-width="0.3" textLength="29.4" lengthAdjust="spacingAndGlyphs">20dB</text>
<rect x="212.4" y="455.5" width="124.5" height="64.5" fill="none" stroke="#333" stroke-width="1.8"/>
<path d="M212.4 464.4h3M212.4 488.3h3M212.4 512.2h3" fill="none" stroke="#222" stroke-width="1.2"/>
<path d="M221.9 520v-3M275.3 520v-3M328.6 520v-3" fill="none" stroke="#222" stroke-width="1.2"/>
<text x="210" y="469.1" font-size="13" fill="#000" stroke="#000" stroke-width="0.3" text-anchor="end">30</text>
<text x="210" y="494.9" font-size="13" fill="#000" stroke="#000" stroke-width="0.3" text-anchor="end">15</text>
<text x="210" y="517.8" font-size="13" fill="#000" stroke="#000" stroke-width="0.3" text-anchor="end">0</text>
<text x="222.1" y="532.7" font-size="13.8" fill="#000" stroke="#000" stroke-width="0.3" text-anchor="middle">0</text>
<text x="273.9" y="532.7" font-size="13.8" fill="#000" stroke="#000" stroke-width="0.3" text-anchor="middle">30</text>
<text x="328.1" y="532.7" font-size="13.8" fill="#000" stroke="#000" stroke-width="0.3" text-anchor="middle">60</text>
<text x="207.5" y="455.5" font-size="12.5" fill="#000" stroke="#000" stroke-width="0.3" text-anchor="end" textLength="23" lengthAdjust="spacingAndGlyphs">(a3)</text>
<path d="M221.8 512.1V464.2H230.7V512.1H239.6V464.2H248.5V512.1H257.4V464.2H266.3V512.1H275.2V464.2H284.1V512.1H293.0V464.2H301.9V512.1H310.8V464.2H319.7V512.1H328.6" fill="none" stroke="#22dd22" stroke-width="1.3" stroke-dasharray="2.4 1"/>
<path d="M221.8 512.1V464.2H239.6V512.1H257.4V464.2H275.2V512.1H293.0V464.2H310.8V512.1H328.6" fill="none" stroke="#f02222" stroke-width="1.3" stroke-dasharray="3 1.2"/>
<path d="M221.8 512.1V464.2H248.5V512.1H275.2V464.2H301.9V512.1H328.6" fill="none" stroke="#2240ee" stroke-width="1.6"/>
<path d="M227.3 475.2H269.5" fill="none" stroke="#2030e0" stroke-width="1.5"/>
<path d="M222.3 475.2l6 -3v6Z M274.5 475.2l-6 -3v6Z" fill="#2030e0"/>
<path d="M224.9 490.4H251.5" fill="none" stroke="#f02020" stroke-width="1.5"/>
<path d="M219.9 490.4l6 -3v6Z M256.5 490.4l-6 -3v6Z" fill="#f02020"/>
<path d="M226.4 506H237.3" fill="none" stroke="#208a50" stroke-width="1.5"/>
<path d="M221.4 506l6 -3v6Z M242.3 506l-6 -3v6Z" fill="#208a50"/>
<text x="277.4" y="478.5" font-size="12.5" fill="#000" stroke="#000" stroke-width="0.3" textLength="25.6" lengthAdjust="spacingAndGlyphs">30us</text>
<text x="261.6" y="495.5" font-size="12.5" fill="#000" stroke="#000" stroke-width="0.3" textLength="25.3" lengthAdjust="spacingAndGlyphs">20us</text>
<text x="242.6" y="508.5" font-size="12.5" fill="#000" stroke="#000" stroke-width="0.3" textLength="24.7" lengthAdjust="spacingAndGlyphs">10us</text>
<text x="245.5" y="462.5" font-size="16" fill="#dc1c34" stroke="#6a8ad8" stroke-width="0.8" paint-order="stroke">2τ<tspan font-size="9.5" dy="0.5">D</tspan></text>
<rect x="44.7" y="553.6" width="123.8" height="64.8" fill="none" stroke="#333" stroke-width="1.8"/>
<path d="M44.7 563.9h3M44.7 588.9h3M44.7 612.5h3" fill="none" stroke="#222" stroke-width="1.2"/>
<path d="M53.5 618.4v-3M106.9 618.4v-3M160.3 618.4v-3" fill="none" stroke="#222" stroke-width="1.2"/>
<text x="42" y="568.2" font-size="13" fill="#000" stroke="#000" stroke-width="0.3" text-anchor="end">40</text>
<text x="42" y="593.2" font-size="13" fill="#000" stroke="#000" stroke-width="0.3" text-anchor="end">20</text>
<text x="42" y="616.8" font-size="13" fill="#000" stroke="#000" stroke-width="0.3" text-anchor="end">0</text>
<text x="54.4" y="631.8" font-size="13.8" fill="#000" stroke="#000" stroke-width="0.3" text-anchor="middle">0</text>
<text x="106.4" y="631.8" font-size="13.8" fill="#000" stroke="#000" stroke-width="0.3" text-anchor="middle">30</text>
<text x="160.8" y="631.8" font-size="13.8" fill="#000" stroke="#000" stroke-width="0.3" text-anchor="middle">60</text>
<text x="41.4" y="553.5" font-size="12.5" fill="#000" stroke="#000" stroke-width="0.3" text-anchor="end" textLength="23" lengthAdjust="spacingAndGlyphs">(a4)</text>
<path d="M53.5 560.3V612.6M62.3 560.3V602M71.2 574.8V602.9M80.4 573.4V611.6M89.4 561.3V611.6M98.3 561.3V603.4M106.9 572.4V603.4M115.8 572.4V612.1M124.5 560.6V611.9M133.5 560.6V603.2M142.5 573.2V603.4M151.4 573.2V612.1M53.5 560.3H62.3M62.3 596.1H71.2M71.2 581.6H80.4M80.4 608H89.4M89.4 562H98.3M98.3 599.3H106.9M106.9 575.1H115.8M115.8 611.9H124.5M124.5 560.6H133.5M133.5 595.9H142.5M142.5 581.9H151.4M151.4 607.8H160.3" fill="none" stroke="#2a2af0" stroke-width="1.5"/>
<path d="M59 574.4H86.1" fill="none" stroke="#ee1111" stroke-width="1.5"/>
<path d="M54 574.4l6 -3v6Z M91.1 574.4l-6 -3v6Z" fill="#ee1111"/>
<text x="67.4" y="570" font-size="16" fill="#dc1c34" stroke="#6a8ad8" stroke-width="0.8" paint-order="stroke">4τ<tspan font-size="9.5" dy="0.5">D</tspan></text>
<rect x="212.5" y="552.3" width="127.1" height="68.6" fill="none" stroke="#333" stroke-width="1.8"/>
<path d="M212.5 562.7h3M212.5 589.2h3M212.5 614.5h3" fill="none" stroke="#222" stroke-width="1.2"/>
<path d="M222.9 620.9v-3M274.7 620.9v-3M329.8 620.9v-3" fill="none" stroke="#222" stroke-width="1.2"/>
<text x="209.4" y="567" font-size="13" fill="#000" stroke="#000" stroke-width="0.3" text-anchor="end">50</text>
<text x="209.4" y="593.5" font-size="13" fill="#000" stroke="#000" stroke-width="0.3" text-anchor="end">25</text>
<text x="209.4" y="618.8" font-size="13" fill="#000" stroke="#000" stroke-width="0.3" text-anchor="end">0</text>
<text x="222.9" y="634.2" font-size="13.8" fill="#000" stroke="#000" stroke-width="0.3" text-anchor="middle">0</text>
<text x="274.7" y="634.2" font-size="13.8" fill="#000" stroke="#000" stroke-width="0.3" text-anchor="middle">30</text>
<text x="329.8" y="634.2" font-size="13.8" fill="#000" stroke="#000" stroke-width="0.3" text-anchor="middle">60</text>
<text x="210" y="553.5" font-size="12.5" fill="#000" stroke="#000" stroke-width="0.3" text-anchor="end" textLength="23" lengthAdjust="spacingAndGlyphs">(a5)</text>
<text x="166.6" y="646.9" font-size="13" fill="#000" stroke="#000" stroke-width="0.3" textLength="45.2" lengthAdjust="spacingAndGlyphs">Time(us)</text>
<path d="M213.2 593L213.5 581L213.8 613L214.0 558L214.3 607L214.6 581L214.9 612L215.2 560L215.4 616L215.7 586L216.0 600L216.3 573L216.6 606L216.8 575L217.1 607L217.4 563L217.7 605L218.0 568L218.2 609L218.5 574L218.8 597L219.1 576L219.4 603L219.6 571L219.9 615L220.2 582L220.5 606L220.8 567L221.0 589L221.3 567L221.6 611L221.9 579L222.2 608L222.4 574L222.7 606L223.0 575L223.3 588L223.6 564L223.8 605L224.1 576L224.4 606L224.7 569L225.0 591L225.2 575L225.5 605L225.8 574L226.1 610L226.4 568L226.6 601L226.9 568L227.2 604L227.5 566L227.8 592L228.0 568L228.3 607L228.6 575L228.9 600L229.2 565L229.4 600L229.7 572L230.0 608L230.3 575L230.6 608L230.8 570L231.1 609L231.4 572L231.7 606L232.0 580L232.2 609L232.5 579L232.8 600L233.1 568L233.4 609L233.6 564L233.9 615L234.2 572L234.5 596L234.8 582L235.0 594L235.3 579L235.6 601L235.9 586L236.2 615L236.4 575L236.7 599L237.0 571L237.3 603L237.6 570L237.8 607L238.1 570L238.4 611L238.7 562L239.0 615L239.2 577L239.5 609L239.8 567L240.1 614L240.4 584L240.6 615L240.9 574L241.2 594L241.5 559L241.8 591L242.0 558L242.3 614L242.6 564L242.9 608L243.2 571L243.4 613L243.7 562L244.0 603L244.3 579L244.6 600L244.8 574L245.1 618L245.4 566L245.7 609L246.0 562L246.2 614L246.5 578L246.8 593L247.1 575L247.4 617L247.6 570L247.9 610L248.2 571L248.5 615L248.8 564L249.0 594L249.3 566L249.6 607L249.9 566L250.2 596L250.4 569L250.7 612L251.0 578L251.3 604L251.6 561L251.8 604L252.1 561L252.4 609L252.7 577L253.0 598L253.2 569L253.5 589L253.8 574L254.1 603L254.4 566L254.6 608L254.9 568L255.2 603L255.5 570L255.8 589L256.0 563L256.3 592L256.6 578L256.9 594L257.2 562L257.4 608L257.7 562L258.0 610L258.3 569L258.6 610L258.8 575L259.1 599L259.4 568L259.7 610L260.0 578L260.2 602L260.5 579L260.8 608L261.1 586L261.4 606L261.6 568L261.9 602L262.2 582L262.5 609L262.8 570L263.0 606L263.3 587L263.6 605L263.9 569L264.2 594L264.4 568L264.7 613L265.0 571L265.3 613L265.6 576L265.8 612L266.1 571L266.4 601L266.7 586L267.0 616L267.2 584L267.5 608L267.8 566L268.1 613L268.4 572L268.6 602L268.9 571L269.2 609L269.5 560L269.8 612L270.0 569L270.3 603L270.6 560L270.9 608L271.2 566L271.4 602L271.7 566L272.0 598L272.3 568L272.6 616L272.8 565L273.1 599L273.4 569L273.7 600L274.0 561L274.2 605L274.5 573L274.8 607L275.1 574L275.4 595L275.6 571L275.9 605L276.2 570L276.5 592L276.8 581L277.0 612L277.3 571L277.6 605L277.9 567L278.2 598L278.4 564L278.7 602L279.0 585L279.3 608L279.6 575L279.8 606L280.1 578L280.4 605L280.7 568L281.0 596L281.2 567L281.5 609L281.8 563L282.1 605L282.4 565L282.6 602L282.9 566L283.2 606L283.5 568L283.8 608L284.0 564L284.3 615L284.6 576L284.9 598L285.2 566L285.4 605L285.7 561L286.0 612L286.3 560L286.6 600L286.8 564L287.1 603L287.4 574L287.7 606L288.0 564L288.2 601L288.5 584L288.8 613L289.1 564L289.4 598L289.6 565L289.9 597L290.2 579L290.5 591L290.8 564L291.0 604L291.3 564L291.6 593L291.9 582L292.2 599L292.4 576L292.7 610L293.0 577L293.3 609L293.6 570L293.8 609L294.1 566L294.4 604L294.7 567L295.0 612L295.2 563L295.5 599L295.8 574L296.1 612L296.4 571L296.6 612L296.9 564L297.2 613L297.5 581L297.8 600L298.0 575L298.3 611L298.6 564L298.9 605L299.2 571L299.4 605L299.7 564L300.0 603L300.3 567L300.6 615L300.8 580L301.1 617L301.4 574L301.7 603L302.0 567L302.2 596L302.5 566L302.8 610L303.1 563L303.4 617L303.6 578L303.9 617L304.2 569L304.5 613L304.8 566L305.0 617L305.3 570L305.6 614L305.9 582L306.2 617L306.4 588L306.7 601L307.0 570L307.3 618L307.6 577L307.8 615L308.1 573L308.4 612L308.7 571L309.0 603L309.2 574L309.5 614L309.8 580L310.1 614L310.4 579L310.6 604L310.9 578L311.2 600L311.5 565L311.8 606L312.0 577L312.3 614L312.6 568L312.9 598L313.2 578L313.4 602L313.7 569L314.0 594L314.3 563L314.6 611L314.8 562L315.1 607L315.4 562L315.7 606L316.0 568L316.2 611L316.5 575L316.8 607L317.1 571L317.4 593L317.6 568L317.9 610L318.2 577L318.5 607L318.8 573L319.0 607L319.3 561L319.6 603L319.9 561L320.2 604L320.4 572L320.7 609L321.0 569L321.3 603L321.6 582L321.8 609L322.1 582L322.4 610L322.7 568L323.0 607L323.2 562L323.5 613L323.8 574L324.1 612L324.4 561L324.6 610L324.9 575L325.2 600L325.5 576L325.8 613L326.0 567L326.3 612L326.6 559L326.9 594L327.2 563L327.4 600L327.7 570L328.0 603L328.3 561L328.6 611L328.8 566L329.1 611L329.4 560L329.7 599L330.0 563L330.2 606L330.5 562L330.8 614L331.1 570L331.4 595L331.6 575L331.9 607L332.2 578L332.5 611L332.8 578L333.0 618L333.3 574L333.6 612L333.9 564L334.2 610L334.4 569L334.7 609L335.0 564L335.3 607L335.6 567L335.8 610L336.1 568L336.4 611L336.7 566L337.0 594L337.2 568L337.5 608L337.8 581L338.1 613L338.4 577L338.6 610L338.9 582L339.2 599" fill="none" stroke="#2a2ae6" stroke-width="0.9"/>
<path d="M305.4 584v22M307.3 577v9M239.9 566v21M267.4 579v14M228.4 587v6M293.3 564v21M292.5 581v8M248.1 566v21M278.3 579v14M258.0 585v13M283.9 586v16M236.0 597v9M284.2 591v22M258.3 579v16M243.2 574v16M239.9 585v22M214.5 598v14M312.6 579v13M223.8 573v7M281.4 586v12M325.8 598v10M255.0 569v9M298.5 585v22M278.6 571v21M220.4 581v11M305.1 575v8M332.6 593v21M234.1 573v12M264.6 577v19M338.2 586v18M272.5 567v22M263.1 595v18M255.1 565v18M297.2 581v15M248.3 595v14M328.1 588v18M234.6 566v12M332.5 568v7M238.9 568v15M229.3 588v15M288.6 592v11M332.0 576v17M312.2 571v19M219.3 580v14M225.1 577v22M300.1 571v16M311.0 586v18M314.1 573v18M274.9 573v13M335.3 588v14M336.6 584v15M295.1 579v7M268.0 565v21M304.6 566v9M219.0 588v18M255.3 568v10M287.8 568v7M249.8 601v8M297.4 592v20M294.4 575v18M322.8 574v15M280.5 557v20M319.1 596v9M243.5 580v11M233.8 562v9M235.1 575v20M221.0 557v22M215.2 565v18M288.1 572v21M227.7 579v19" fill="none" stroke="#9a9af2" stroke-width="0.6" stroke-opacity="0.85"/>
<rect x="391.8" y="455" width="123.7" height="64.6" fill="none" stroke="#333" stroke-width="1.8"/>
<path d="M391.8 467.6h3M391.8 494.7h3M391.8 516.2h3" fill="none" stroke="#222" stroke-width="1.2"/>
<path d="M402.5 519.6v-3M456.9 519.6v-3M506.8 519.6v-3" fill="none" stroke="#222" stroke-width="1.2"/>
<text x="387.3" y="471.9" font-size="13" fill="#000" stroke="#000" stroke-width="0.3" text-anchor="end">2.0</text>
<text x="387.3" y="499" font-size="13" fill="#000" stroke="#000" stroke-width="0.3" text-anchor="end">1.0</text>
<text x="387.3" y="520.5" font-size="13" fill="#000" stroke="#000" stroke-width="0.3" text-anchor="end">0</text>
<text x="402.5" y="533.5" font-size="13.8" fill="#000" stroke="#000" stroke-width="0.3" text-anchor="middle">0</text>
<text x="456.9" y="533.5" font-size="13.8" fill="#000" stroke="#000" stroke-width="0.3" text-anchor="middle">0.5</text>
<text x="506.8" y="533.5" font-size="13.8" fill="#000" stroke="#000" stroke-width="0.3" text-anchor="middle">1.0</text>
<text x="387.3" y="458" font-size="12.5" fill="#000" stroke="#000" stroke-width="0.3" text-anchor="end" textLength="23" lengthAdjust="spacingAndGlyphs">(b2)</text>
<text x="360.2" y="539" font-size="15.5" fill="#000" stroke="#000" stroke-width="0.3" text-anchor="middle" textLength="126.7" lengthAdjust="spacingAndGlyphs" transform="rotate(-90 360.2 539)">Re(amplitude(a.u))</text>
<path d="M402.5 515.5L403.5 508.0L404.5 490.0L405.5 470.0L406.3 460.5L407.5 460.8L409.0 462.3L411.0 462.0L413.0 461.6L415.5 462.0L418.0 461.8L420.5 461.6L423.0 461.8L425.5 462.0L428.0 461.5L430.5 461.5L433.0 462.3L435.5 461.6L438.0 461.4L440.5 462.0L443.0 462.0L445.5 461.6L448.0 461.7L450.5 462.4L453.0 461.8L455.5 461.5L458.0 462.0L460.5 462.0L463.0 461.4L465.5 461.8L468.0 462.0L470.5 461.9L473.0 461.7L475.5 461.8L478.0 462.1L480.5 461.9L483.0 461.2L485.5 462.1L488.0 462.0L490.5 461.3L493.0 461.7L495.5 462.4L498.0 461.7L500.5 461.5L503.0 461.8L505.5 462.2" fill="none" stroke="#2238ee" stroke-width="1.5"/>
<rect x="556.6" y="457.6" width="124.3" height="64.8" fill="none" stroke="#333" stroke-width="1.8"/>
<path d="M556.6 467.7h3M556.6 494.9h3M556.6 518.3h3" fill="none" stroke="#222" stroke-width="1.2"/>
<path d="M566.2 522.4v-3M620 522.4v-3M669.3 522.4v-3" fill="none" stroke="#222" stroke-width="1.2"/>
<text x="554.9" y="472" font-size="13" fill="#000" stroke="#000" stroke-width="0.3" text-anchor="end">30</text>
<text x="554.9" y="499.2" font-size="13" fill="#000" stroke="#000" stroke-width="0.3" text-anchor="end">15</text>
<text x="554.9" y="522.6" font-size="13" fill="#000" stroke="#000" stroke-width="0.3" text-anchor="end">0</text>
<text x="566.2" y="535.8" font-size="13.8" fill="#000" stroke="#000" stroke-width="0.3" text-anchor="middle">0</text>
<text x="620" y="535.8" font-size="13.8" fill="#000" stroke="#000" stroke-width="0.3" text-anchor="middle">0.5</text>
<text x="669.3" y="535.8" font-size="13.8" fill="#000" stroke="#000" stroke-width="0.3" text-anchor="middle">1.0</text>
<text x="552.5" y="460" font-size="12.5" fill="#000" stroke="#000" stroke-width="0.3" text-anchor="end" textLength="23" lengthAdjust="spacingAndGlyphs">(b3)</text>
<path d="M567.0 517.5L567.5 514.8L568.0 508.8L568.5 500.2L569.0 490.3L569.5 480.5L570.0 472.0L570.5 466.1L571.0 463.5L571.5 464.6L572.0 469.3L572.5 476.9L573.0 486.3L573.5 496.4L574.0 505.6L574.5 512.8L575.0 516.9L575.5 517.3L576.0 514.1L576.5 507.7L577.0 498.9L577.5 488.9L578.0 479.2L578.5 471.0L579.0 465.5L579.5 463.4L580.0 465.0L580.5 470.2L581.0 478.1L581.5 487.7L582.0 497.7L582.5 506.7L583.0 513.5L583.5 517.1L584.0 517.1L584.5 513.4L585.0 506.6L585.5 497.5L586.0 487.5L586.5 477.9L587.0 470.0L587.5 465.0L588.0 463.4L588.5 465.6L589.0 471.1L589.5 479.4L590.0 489.1L590.5 499.1L591.0 507.9L591.5 514.2L592.0 517.4L592.5 516.8L593.0 512.6L593.5 505.4L594.0 496.2L594.5 486.1L595.0 476.7L595.5 469.1L596.0 464.5L596.5 463.5L597.0 466.2L597.5 472.2L598.0 480.7L598.5 490.6L599.0 500.4L599.5 508.9L600.0 514.9L600.5 517.5L601.0 516.4L601.5 511.8L602.0 504.2L602.5 494.8L603.0 484.7L603.5 475.5L604.0 468.3L604.5 464.2L605.0 463.6L605.5 466.8L606.0 473.2L606.5 482.0L607.0 492.0L607.5 501.7L608.0 509.9L608.5 515.5L609.0 517.6L609.5 516.0L610.0 510.9L610.5 503.0L611.0 493.4L611.5 483.4L612.0 474.3L612.5 467.5L613.0 463.9L613.5 463.9L614.0 467.5L614.5 474.3L615.0 483.4L615.5 493.4L616.0 503.0L616.5 510.9L617.0 516.0L617.5 517.6L618.0 515.5L618.5 509.9L619.0 501.7L619.5 492.0L620.0 482.0L620.5 473.2L621.0 466.8L621.5 463.6L622.0 464.2L622.5 468.3L623.0 475.5L623.5 484.7L624.0 494.8L624.5 504.2L625.0 511.8L625.5 516.4L626.0 517.5L626.5 514.9L627.0 508.9L627.5 500.4L628.0 490.6L628.5 480.7L629.0 472.2L629.5 466.2L630.0 463.5L630.5 464.5L631.0 469.1L631.5 476.7L632.0 486.1L632.5 496.2L633.0 505.4L633.5 512.6L634.0 516.8L634.5 517.4L635.0 514.2L635.5 507.9L636.0 499.1L636.5 489.1L637.0 479.4L637.5 471.1L638.0 465.6L638.5 463.4L639.0 465.0L639.5 470.0L640.0 477.9L640.5 487.5L641.0 497.5L641.5 506.6L642.0 513.4L642.5 517.1L643.0 517.1L643.5 513.5L644.0 506.7L644.5 497.7L645.0 487.7L645.5 478.1L646.0 470.2L646.5 465.0L647.0 463.4L647.5 465.5L648.0 471.0L648.5 479.2L649.0 488.9L649.5 498.9L650.0 507.7L650.5 514.1L651.0 517.3L651.5 516.9L652.0 512.8L652.5 505.6L653.0 496.4L653.5 486.3L654.0 476.9L654.5 469.3L655.0 464.6L655.5 463.5L656.0 466.1L656.5 472.0L657.0 480.5L657.5 490.3L658.0 500.2L658.5 508.8L659.0 514.8L659.5 517.5L660.0 516.5L660.5 511.9L661.0 504.4L661.5 495.0L662.0 484.9L662.5 475.7L663.0 468.4L663.5 464.2L664.0 463.6L664.5 466.7L665.0 473.1L665.5 481.8L666.0 491.8L666.5 501.5L667.0 509.8L667.5 515.4L668.0 517.6L668.5 516.1L669.0 511.0L669.5 503.2L670.0 493.6L670.5 483.6" fill="none" stroke="#2238ee" stroke-width="1.6"/>
<rect x="392.4" y="553.9" width="124.8" height="64.6" fill="none" stroke="#333" stroke-width="1.8"/>
<path d="M392.4 565.7h3M392.4 589.5h3M392.4 613.2h3" fill="none" stroke="#222" stroke-width="1.2"/>
<path d="M402.2 618.5v-3M456.2 618.5v-3M506.6 618.5v-3" fill="none" stroke="#222" stroke-width="1.2"/>
<text x="388" y="570" font-size="13" fill="#000" stroke="#000" stroke-width="0.3" text-anchor="end">40</text>
<text x="388" y="593.8" font-size="13" fill="#000" stroke="#000" stroke-width="0.3" text-anchor="end">20</text>
<text x="388" y="617.5" font-size="13" fill="#000" stroke="#000" stroke-width="0.3" text-anchor="end">0</text>
<text x="402.2" y="632.4" font-size="13.8" fill="#000" stroke="#000" stroke-width="0.3" text-anchor="middle">0</text>
<text x="456.2" y="632.4" font-size="13.8" fill="#000" stroke="#000" stroke-width="0.3" text-anchor="middle">0.5</text>
<text x="506.6" y="632.4" font-size="13.8" fill="#000" stroke="#000" stroke-width="0.3" text-anchor="middle">1.0</text>
<text x="390.9" y="554.8" font-size="12.5" fill="#000" stroke="#000" stroke-width="0.3" text-anchor="end" textLength="23.7" lengthAdjust="spacingAndGlyphs">(b4)</text>
<path d="M402.9 612.7C403.2 610.6 404.0 606.8 404.5 600.0C405.0 593.2 405.6 578.0 406.0 572.0C406.4 566.0 406.7 564.5 407.1 564.0C407.5 563.5 407.9 564.7 408.3 569.0C408.7 573.3 409.3 585.0 409.7 590.0C410.1 595.0 410.3 597.6 410.7 599.0C411.1 600.4 411.7 598.3 412.1 598.5C412.5 598.7 412.9 601.8 413.3 600.0C413.7 598.2 414.1 591.8 414.5 588.0C414.9 584.2 415.5 577.3 416.0 577.0C416.5 576.7 416.9 581.7 417.3 586.0C417.7 590.3 418.1 598.7 418.5 603.0C418.9 607.3 419.4 612.0 419.8 612.0C420.2 612.0 420.7 608.7 421.1 603.0C421.6 597.3 422.0 584.5 422.5 578.0C423.0 571.5 423.4 565.5 423.9 564.0C424.3 562.5 424.6 564.7 425.1 569.0C425.5 573.3 426.1 585.0 426.5 590.0C426.9 595.0 427.1 597.6 427.5 599.0C427.9 600.4 428.4 598.3 428.9 598.5C429.3 598.7 429.7 601.8 430.1 600.0C430.4 598.2 430.8 591.8 431.2 588.0C431.7 584.2 432.3 577.3 432.8 577.0C433.2 576.7 433.6 581.7 434.1 586.0C434.5 590.3 434.8 598.7 435.2 603.0C435.7 607.3 436.1 612.0 436.6 612.0C437.0 612.0 437.4 608.7 437.9 603.0C438.3 597.3 438.8 584.5 439.2 578.0C439.7 571.5 440.2 565.5 440.6 564.0C441.0 562.5 441.4 564.7 441.8 569.0C442.2 573.3 442.8 585.0 443.2 590.0C443.6 595.0 443.8 597.6 444.2 599.0C444.6 600.4 445.2 598.3 445.6 598.5C446.0 598.7 446.4 601.8 446.8 600.0C447.2 598.2 447.6 591.8 448.0 588.0C448.4 584.2 449.0 577.3 449.5 577.0C450.0 576.7 450.4 581.7 450.8 586.0C451.2 590.3 451.6 598.7 452.0 603.0C452.4 607.3 452.9 612.0 453.3 612.0C453.7 612.0 454.2 608.7 454.6 603.0C455.1 597.3 455.5 584.5 456.0 578.0C456.5 571.5 456.9 565.5 457.4 564.0C457.8 562.5 458.1 564.7 458.6 569.0C459.0 573.3 459.6 585.0 460.0 590.0C460.4 595.0 460.6 597.6 461.0 599.0C461.4 600.4 461.9 598.3 462.4 598.5C462.8 598.7 463.2 601.8 463.6 600.0C463.9 598.2 464.3 591.8 464.8 588.0C465.2 584.2 465.8 577.3 466.2 577.0C466.7 576.7 467.1 581.7 467.6 586.0C468.0 590.3 468.3 598.7 468.8 603.0C469.2 607.3 469.6 612.0 470.1 612.0C470.5 612.0 470.9 608.7 471.4 603.0C471.8 597.3 472.3 584.5 472.8 578.0C473.2 571.5 473.7 565.5 474.1 564.0C474.5 562.5 474.9 564.7 475.3 569.0C475.7 573.3 476.3 585.0 476.7 590.0C477.1 595.0 477.3 597.6 477.7 599.0C478.1 600.4 478.7 598.3 479.1 598.5C479.5 598.7 479.9 601.8 480.3 600.0C480.7 598.2 481.1 591.8 481.5 588.0C481.9 584.2 482.5 577.3 483.0 577.0C483.5 576.7 483.9 581.7 484.3 586.0C484.7 590.3 485.1 598.7 485.5 603.0C485.9 607.3 486.4 612.0 486.8 612.0C487.2 612.0 487.7 608.7 488.1 603.0C488.6 597.3 489.0 584.5 489.5 578.0C490.0 571.5 490.4 565.5 490.9 564.0C491.3 562.5 491.6 564.7 492.1 569.0C492.5 573.3 493.1 585.0 493.5 590.0C493.9 595.0 494.1 597.6 494.5 599.0C494.9 600.4 495.4 598.3 495.9 598.5C496.3 598.7 496.7 601.8 497.1 600.0C497.4 598.2 497.8 591.8 498.2 588.0C498.7 584.2 499.3 577.3 499.8 577.0C500.2 576.7 500.6 581.7 501.1 586.0C501.5 590.3 501.8 598.7 502.2 603.0C502.7 607.3 503.1 612.0 503.6 612.0C504.0 612.0 504.4 608.7 504.9 603.0C505.3 597.3 506.0 583.2 506.2 578.0C506.5 572.8 506.5 572.6 506.6 571.5" fill="none" stroke="#2238ee" stroke-width="1.6"/>
<rect x="558.5" y="553.2" width="124.8" height="65.1" fill="none" stroke="#333" stroke-width="1.8"/>
<path d="M558.5 562.9h3M558.5 588.2h3M558.5 613.5h3" fill="none" stroke="#222" stroke-width="1.2"/>
<path d="M567 618.3v-3M621.2 618.3v-3M670.5 618.3v-3" fill="none" stroke="#222" stroke-width="1.2"/>
<text x="556.1" y="567.2" font-size="13" fill="#000" stroke="#000" stroke-width="0.3" text-anchor="end">50</text>
<text x="556.1" y="592.5" font-size="13" fill="#000" stroke="#000" stroke-width="0.3" text-anchor="end">25</text>
<text x="556.1" y="617.8" font-size="13" fill="#000" stroke="#000" stroke-width="0.3" text-anchor="end">0</text>
<text x="567" y="632.7" font-size="13.8" fill="#000" stroke="#000" stroke-width="0.3" text-anchor="middle">0</text>
<text x="621.2" y="632.7" font-size="13.8" fill="#000" stroke="#000" stroke-width="0.3" text-anchor="middle">0.5</text>
<text x="670.5" y="632.7" font-size="13.8" fill="#000" stroke="#000" stroke-width="0.3" text-anchor="middle">1.0</text>
<text x="553.7" y="554.6" font-size="12.5" fill="#000" stroke="#000" stroke-width="0.3" text-anchor="end" textLength="23.6" lengthAdjust="spacingAndGlyphs">(b5)</text>
<text x="514.5" y="647" font-size="13" fill="#000" stroke="#000" stroke-width="0.3" textLength="45.2" lengthAdjust="spacingAndGlyphs">Time(us)</text>
<path d="M568.4 612.8C568.5 612.5 568.9 617.4 569.2 610.8C569.5 604.2 570.0 579.0 570.4 573.0C570.8 567.1 571.1 574.0 571.3 575.1C571.5 576.2 571.6 575.2 571.8 579.7C572.0 584.1 572.3 600.8 572.6 601.8C572.9 602.7 573.1 590.7 573.4 585.5C573.7 580.2 574.1 570.1 574.4 570.4C574.7 570.7 575.1 584.1 575.3 587.4C575.5 590.7 575.6 587.1 575.8 590.2C576.0 593.4 576.3 604.8 576.6 606.1C576.9 607.4 577.1 602.9 577.4 598.0C577.7 593.1 578.0 577.6 578.2 576.4C578.5 575.3 578.9 587.1 579.1 591.0C579.4 594.8 579.4 596.8 579.6 599.5C579.9 602.1 580.2 607.2 580.4 606.9C580.7 606.6 580.9 604.5 581.2 597.7C581.6 591.0 582.1 569.0 582.4 566.4C582.8 563.8 583.1 577.8 583.3 581.9C583.6 586.1 583.6 586.4 583.8 591.2C584.1 596.0 584.4 610.0 584.6 610.7C584.9 611.4 585.2 600.4 585.4 595.4C585.7 590.4 586.0 581.2 586.3 580.5C586.6 579.8 587.0 588.6 587.2 591.2C587.5 593.9 587.5 593.7 587.7 596.4C587.9 599.0 588.3 608.3 588.5 607.3C588.8 606.3 589.0 597.3 589.3 590.5C589.6 583.7 590.1 566.3 590.4 566.3C590.7 566.3 591.0 585.9 591.3 590.4C591.5 594.9 591.6 590.5 591.8 593.4C592.0 596.4 592.3 607.0 592.6 608.2C592.8 609.4 593.1 607.3 593.4 600.9C593.7 594.5 594.0 573.2 594.3 569.8C594.7 566.4 595.0 577.2 595.2 580.5C595.5 583.7 595.5 584.1 595.7 589.4C596.0 594.7 596.3 613.0 596.5 612.1C596.8 611.1 597.0 592.9 597.3 583.7C597.7 574.6 598.3 555.7 598.7 557.2C599.0 558.6 599.3 585.8 599.6 592.5C599.8 599.2 599.8 595.2 600.1 597.5C600.3 599.7 600.6 607.4 600.9 605.8C601.1 604.2 601.4 593.9 601.7 587.9C601.9 582.0 602.3 569.9 602.6 570.1C602.9 570.3 603.2 585.2 603.5 589.3C603.7 593.5 603.8 592.2 604.0 594.9C604.2 597.6 604.5 606.2 604.8 605.7C605.0 605.1 605.2 596.6 605.6 591.5C605.9 586.4 606.5 576.6 606.9 575.1C607.2 573.5 607.5 580.6 607.8 582.3C608.0 583.9 608.1 581.3 608.3 585.0C608.5 588.6 608.8 602.8 609.1 604.3C609.3 605.7 609.6 598.6 609.9 593.7C610.1 588.7 610.3 574.7 610.6 574.7C610.9 574.7 611.3 589.6 611.5 593.5C611.7 597.5 611.8 596.2 612.0 598.5C612.2 600.8 612.5 608.1 612.8 607.2C613.1 606.3 613.4 600.3 613.6 593.1C613.9 585.8 614.0 564.5 614.3 563.7C614.5 563.0 614.9 583.6 615.2 588.5C615.4 593.3 615.5 590.7 615.7 592.7C615.9 594.7 616.2 600.7 616.5 600.3C616.7 600.0 616.9 596.2 617.3 590.8C617.6 585.5 618.2 568.2 618.5 568.1C618.9 568.1 619.2 586.3 619.4 590.5C619.7 594.8 619.7 590.4 619.9 593.7C620.2 597.0 620.5 609.8 620.7 610.2C621.0 610.6 621.3 602.8 621.5 596.0C621.8 589.2 622.0 572.8 622.3 569.4C622.6 566.0 623.0 573.2 623.2 575.5C623.4 577.9 623.5 577.9 623.7 583.4C623.9 588.9 624.2 606.2 624.5 608.5C624.8 610.7 624.9 605.2 625.3 596.7C625.7 588.2 626.3 559.9 626.7 557.5C627.1 555.2 627.4 577.7 627.6 582.6C627.8 587.4 627.9 582.6 628.1 586.6C628.3 590.6 628.6 604.3 628.9 606.5C629.2 608.7 629.4 607.5 629.7 599.7C630.0 591.8 630.4 561.0 630.7 559.5C631.0 558.1 631.4 584.7 631.6 590.8C631.9 596.9 631.9 594.1 632.1 596.3C632.3 598.5 632.7 606.0 632.9 604.0C633.2 601.9 633.4 589.5 633.7 583.9C634.1 578.3 634.6 570.6 635.0 570.3C635.3 569.9 635.6 579.1 635.9 581.8C636.1 584.4 636.1 581.2 636.4 586.1C636.6 591.1 636.9 611.4 637.2 611.4C637.4 611.4 637.6 595.0 638.0 586.2C638.3 577.4 638.7 557.9 639.0 558.7C639.4 559.5 639.7 585.3 639.9 591.1C640.2 596.8 640.2 590.8 640.4 593.2C640.6 595.6 641.0 606.4 641.2 605.6C641.5 604.8 641.6 595.3 642.0 588.6C642.4 581.9 643.2 564.9 643.6 565.6C644.0 566.3 644.3 587.4 644.5 593.0C644.7 598.6 644.8 597.1 645.0 599.5C645.2 601.9 645.5 607.5 645.8 607.4C646.1 607.3 646.2 606.4 646.6 599.1C647.0 591.9 647.6 567.2 648.0 563.8C648.4 560.3 648.7 575.1 648.9 578.7C649.2 582.3 649.2 581.5 649.4 585.6C649.6 589.6 650.0 602.5 650.2 603.1C650.5 603.6 650.8 595.0 651.0 589.1C651.3 583.2 651.6 569.4 651.9 567.5C652.2 565.5 652.6 574.9 652.8 577.4C653.0 579.9 653.1 576.9 653.3 582.4C653.5 587.9 653.8 607.1 654.1 610.5C654.4 613.8 654.6 609.1 654.9 602.4C655.1 595.7 655.3 571.8 655.6 570.4C655.8 569.1 656.2 589.2 656.5 594.4C656.7 599.7 656.7 600.5 657.0 601.9C657.2 603.2 657.5 605.6 657.8 602.7C658.0 599.7 658.2 589.5 658.6 584.2C658.9 578.8 659.5 571.4 659.9 570.6C660.3 569.8 660.6 576.5 660.8 579.3C661.0 582.1 661.1 582.0 661.3 587.4C661.5 592.8 661.8 609.4 662.1 611.9C662.4 614.4 662.6 611.2 662.9 602.3C663.2 593.3 663.4 560.6 663.7 558.1C664.0 555.6 664.4 581.0 664.6 587.2C664.8 593.5 664.9 592.3 665.1 595.8C665.3 599.2 665.6 608.7 665.9 607.7C666.2 606.7 666.4 597.6 666.7 589.8C667.0 582.1 667.4 562.1 667.7 561.2C668.0 560.3 668.3 579.1 668.6 584.5C668.8 590.0 668.9 591.3 669.1 594.1C669.3 596.9 669.6 603.3 669.9 601.5C670.1 599.6 670.4 587.8 670.7 583.3C671.0 578.7 671.3 574.0 671.6 574.2C671.9 574.5 672.4 583.1 672.5 584.9" fill="none" stroke="#2020f0" stroke-width="1.45" stroke-linejoin="round"/>
</svg></body></html>
